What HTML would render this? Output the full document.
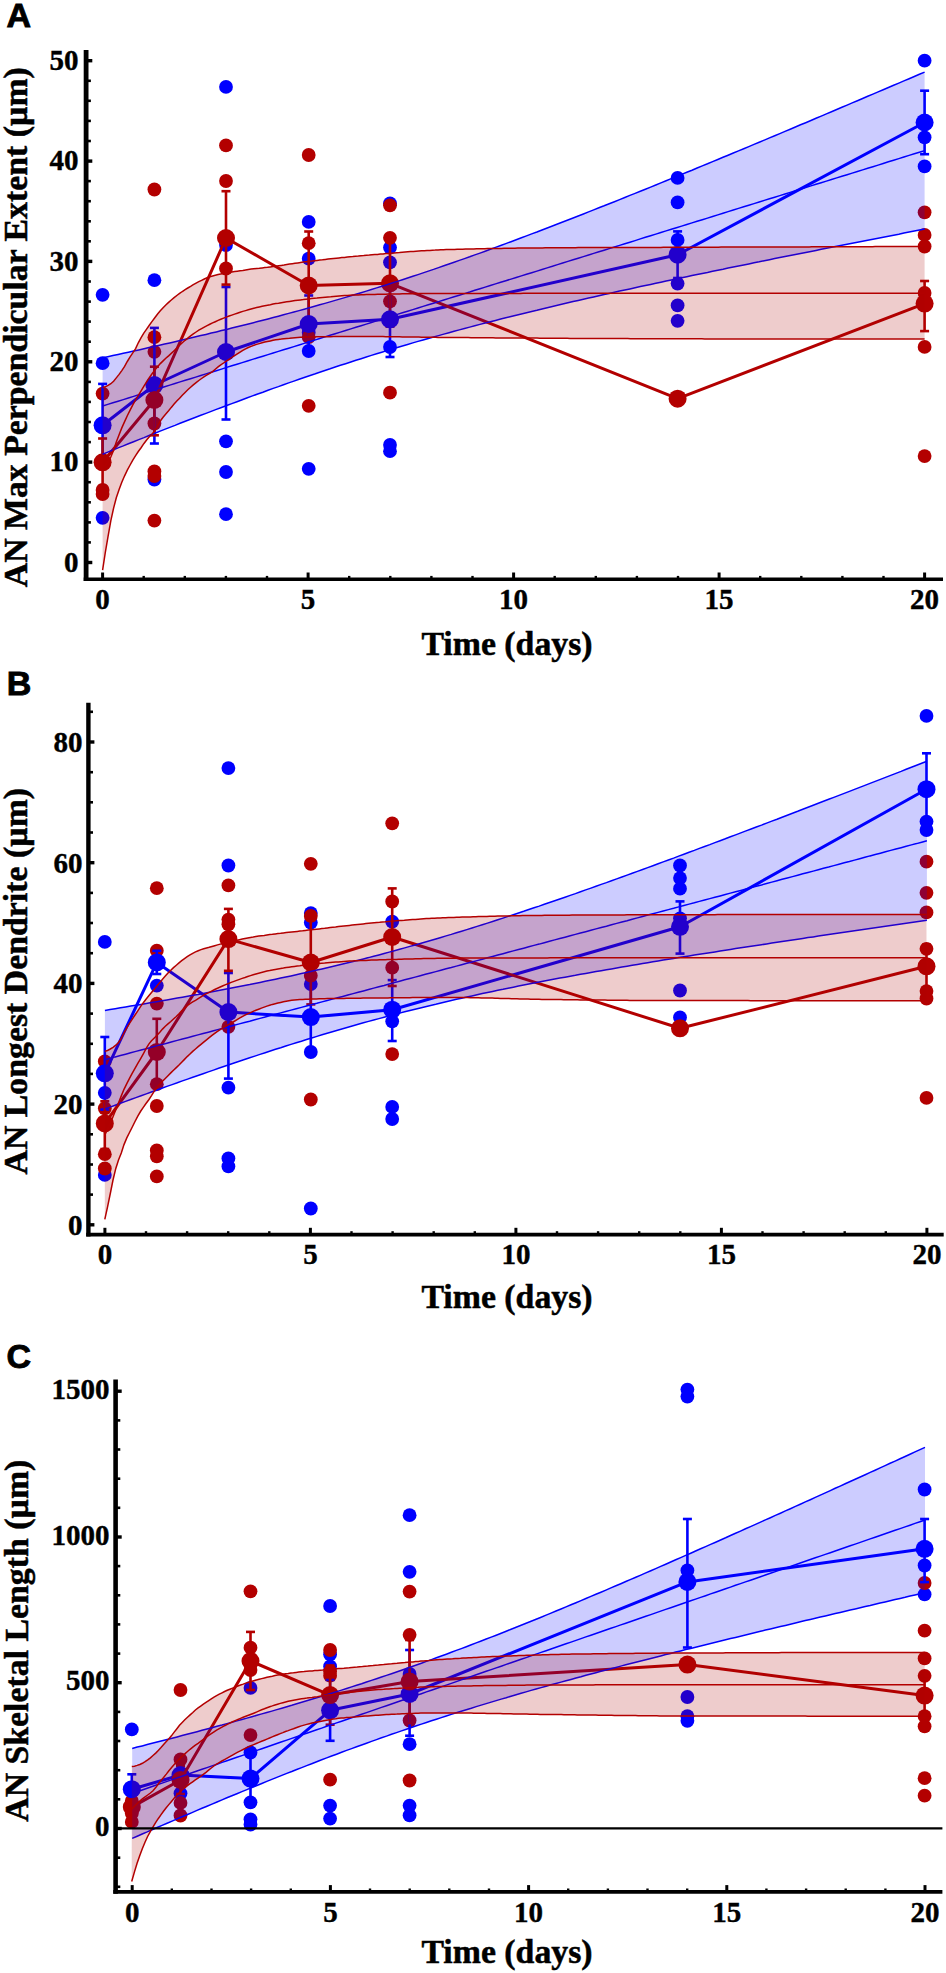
<!DOCTYPE html>
<html><head><meta charset="utf-8"><style>
html,body{margin:0;padding:0;background:#fff;}
svg{display:block;}
.tk{font-family:"Liberation Serif",serif;font-weight:bold;font-size:29px;fill:#000;stroke:#000;stroke-width:0.4px;}
.lab{font-family:"Liberation Serif",serif;font-weight:bold;font-size:33.8px;fill:#000;stroke:#000;stroke-width:0.5px;}
.let{font-family:"Liberation Sans",sans-serif;font-weight:bold;font-size:34px;fill:#000;stroke:#000;stroke-width:0.9px;}
</style></head><body>
<svg width="946" height="1973" viewBox="0 0 946 1973">
<rect width="946" height="1973" fill="#fff"/>
<circle cx="102.6" cy="294.8" r="6.9" fill="#0000ff"/>
<circle cx="102.6" cy="363.2" r="6.9" fill="#0000ff"/>
<circle cx="102.6" cy="517.8" r="6.9" fill="#0000ff"/>
<circle cx="154.4" cy="280.2" r="6.9" fill="#0000ff"/>
<circle cx="154.4" cy="479.5" r="6.9" fill="#0000ff"/>
<circle cx="226.0" cy="86.9" r="6.9" fill="#0000ff"/>
<circle cx="226.0" cy="245.0" r="6.9" fill="#0000ff"/>
<circle cx="226.0" cy="441.3" r="6.9" fill="#0000ff"/>
<circle cx="226.0" cy="472.0" r="6.9" fill="#0000ff"/>
<circle cx="226.0" cy="514.2" r="6.9" fill="#0000ff"/>
<circle cx="308.7" cy="221.9" r="6.9" fill="#0000ff"/>
<circle cx="308.7" cy="258.7" r="6.9" fill="#0000ff"/>
<circle cx="308.7" cy="332.4" r="6.9" fill="#0000ff"/>
<circle cx="308.7" cy="351.0" r="6.9" fill="#0000ff"/>
<circle cx="308.7" cy="468.8" r="6.9" fill="#0000ff"/>
<circle cx="390.0" cy="203.4" r="6.9" fill="#0000ff"/>
<circle cx="390.0" cy="247.6" r="6.9" fill="#0000ff"/>
<circle cx="390.0" cy="262.3" r="6.9" fill="#0000ff"/>
<circle cx="390.0" cy="347.0" r="6.9" fill="#0000ff"/>
<circle cx="390.0" cy="444.9" r="6.9" fill="#0000ff"/>
<circle cx="390.0" cy="451.2" r="6.9" fill="#0000ff"/>
<circle cx="677.6" cy="177.9" r="6.9" fill="#0000ff"/>
<circle cx="677.6" cy="202.4" r="6.9" fill="#0000ff"/>
<circle cx="677.6" cy="239.9" r="6.9" fill="#0000ff"/>
<circle cx="677.6" cy="283.6" r="6.9" fill="#0000ff"/>
<circle cx="677.6" cy="305.4" r="6.9" fill="#0000ff"/>
<circle cx="677.6" cy="320.8" r="6.9" fill="#0000ff"/>
<circle cx="924.6" cy="60.7" r="6.9" fill="#0000ff"/>
<circle cx="924.6" cy="137.3" r="6.9" fill="#0000ff"/>
<circle cx="924.6" cy="166.4" r="6.9" fill="#0000ff"/>
<circle cx="102.6" cy="393.6" r="6.9" fill="#b30000"/>
<circle cx="102.6" cy="490.0" r="6.9" fill="#b30000"/>
<circle cx="102.6" cy="494.0" r="6.9" fill="#b30000"/>
<circle cx="154.4" cy="189.5" r="6.9" fill="#b30000"/>
<circle cx="154.4" cy="337.2" r="6.9" fill="#b30000"/>
<circle cx="154.4" cy="351.8" r="6.9" fill="#b30000"/>
<circle cx="154.4" cy="423.5" r="6.9" fill="#b30000"/>
<circle cx="154.4" cy="471.5" r="6.9" fill="#b30000"/>
<circle cx="154.4" cy="476.0" r="6.9" fill="#b30000"/>
<circle cx="154.4" cy="520.6" r="6.9" fill="#b30000"/>
<circle cx="226.0" cy="145.4" r="6.9" fill="#b30000"/>
<circle cx="226.0" cy="181.0" r="6.9" fill="#b30000"/>
<circle cx="226.0" cy="268.5" r="6.9" fill="#b30000"/>
<circle cx="308.7" cy="155.0" r="6.9" fill="#b30000"/>
<circle cx="308.7" cy="243.2" r="6.9" fill="#b30000"/>
<circle cx="308.7" cy="337.2" r="6.9" fill="#b30000"/>
<circle cx="308.7" cy="405.8" r="6.9" fill="#b30000"/>
<circle cx="390.0" cy="205.3" r="6.9" fill="#b30000"/>
<circle cx="390.0" cy="237.8" r="6.9" fill="#b30000"/>
<circle cx="390.0" cy="301.3" r="6.9" fill="#b30000"/>
<circle cx="390.0" cy="392.7" r="6.9" fill="#b30000"/>
<circle cx="924.6" cy="212.3" r="6.9" fill="#b30000"/>
<circle cx="924.6" cy="234.9" r="6.9" fill="#b30000"/>
<circle cx="924.6" cy="246.5" r="6.9" fill="#b30000"/>
<circle cx="924.6" cy="293.0" r="6.9" fill="#b30000"/>
<circle cx="924.6" cy="346.9" r="6.9" fill="#b30000"/>
<circle cx="924.6" cy="456.1" r="6.9" fill="#b30000"/>
<line x1="102.6" y1="383.9" x2="102.6" y2="466.7" stroke="#0000ff" stroke-width="2.6"/>
<line x1="98.1" y1="383.9" x2="107.1" y2="383.9" stroke="#0000ff" stroke-width="2.6"/>
<line x1="98.1" y1="466.7" x2="107.1" y2="466.7" stroke="#0000ff" stroke-width="2.6"/>
<line x1="154.4" y1="327.9" x2="154.4" y2="443.5" stroke="#0000ff" stroke-width="2.6"/>
<line x1="149.9" y1="327.9" x2="158.9" y2="327.9" stroke="#0000ff" stroke-width="2.6"/>
<line x1="149.9" y1="443.5" x2="158.9" y2="443.5" stroke="#0000ff" stroke-width="2.6"/>
<line x1="226.0" y1="287.0" x2="226.0" y2="419.5" stroke="#0000ff" stroke-width="2.6"/>
<line x1="221.5" y1="287.0" x2="230.5" y2="287.0" stroke="#0000ff" stroke-width="2.6"/>
<line x1="221.5" y1="419.5" x2="230.5" y2="419.5" stroke="#0000ff" stroke-width="2.6"/>
<line x1="308.7" y1="295.5" x2="308.7" y2="352.5" stroke="#0000ff" stroke-width="2.6"/>
<line x1="304.2" y1="295.5" x2="313.2" y2="295.5" stroke="#0000ff" stroke-width="2.6"/>
<line x1="304.2" y1="352.5" x2="313.2" y2="352.5" stroke="#0000ff" stroke-width="2.6"/>
<line x1="390.0" y1="282.0" x2="390.0" y2="357.0" stroke="#0000ff" stroke-width="2.6"/>
<line x1="385.5" y1="282.0" x2="394.5" y2="282.0" stroke="#0000ff" stroke-width="2.6"/>
<line x1="385.5" y1="357.0" x2="394.5" y2="357.0" stroke="#0000ff" stroke-width="2.6"/>
<line x1="677.6" y1="231.4" x2="677.6" y2="278.0" stroke="#0000ff" stroke-width="2.6"/>
<line x1="673.1" y1="231.4" x2="682.1" y2="231.4" stroke="#0000ff" stroke-width="2.6"/>
<line x1="673.1" y1="278.0" x2="682.1" y2="278.0" stroke="#0000ff" stroke-width="2.6"/>
<line x1="924.6" y1="90.7" x2="924.6" y2="154.2" stroke="#0000ff" stroke-width="2.6"/>
<line x1="920.1" y1="90.7" x2="929.1" y2="90.7" stroke="#0000ff" stroke-width="2.6"/>
<line x1="920.1" y1="154.2" x2="929.1" y2="154.2" stroke="#0000ff" stroke-width="2.6"/>
<line x1="102.6" y1="438.5" x2="102.6" y2="486.0" stroke="#b30000" stroke-width="2.6"/>
<line x1="98.1" y1="438.5" x2="107.1" y2="438.5" stroke="#b30000" stroke-width="2.6"/>
<line x1="98.1" y1="486.0" x2="107.1" y2="486.0" stroke="#b30000" stroke-width="2.6"/>
<line x1="154.4" y1="366.7" x2="154.4" y2="435.3" stroke="#b30000" stroke-width="2.6"/>
<line x1="149.9" y1="366.7" x2="158.9" y2="366.7" stroke="#b30000" stroke-width="2.6"/>
<line x1="149.9" y1="435.3" x2="158.9" y2="435.3" stroke="#b30000" stroke-width="2.6"/>
<line x1="226.0" y1="191.2" x2="226.0" y2="284.6" stroke="#b30000" stroke-width="2.6"/>
<line x1="221.5" y1="191.2" x2="230.5" y2="191.2" stroke="#b30000" stroke-width="2.6"/>
<line x1="221.5" y1="284.6" x2="230.5" y2="284.6" stroke="#b30000" stroke-width="2.6"/>
<line x1="308.7" y1="231.5" x2="308.7" y2="339.5" stroke="#b30000" stroke-width="2.6"/>
<line x1="304.2" y1="231.5" x2="313.2" y2="231.5" stroke="#b30000" stroke-width="2.6"/>
<line x1="304.2" y1="339.5" x2="313.2" y2="339.5" stroke="#b30000" stroke-width="2.6"/>
<line x1="390.0" y1="240.0" x2="390.0" y2="326.6" stroke="#b30000" stroke-width="2.6"/>
<line x1="385.5" y1="240.0" x2="394.5" y2="240.0" stroke="#b30000" stroke-width="2.6"/>
<line x1="385.5" y1="326.6" x2="394.5" y2="326.6" stroke="#b30000" stroke-width="2.6"/>
<line x1="924.6" y1="281.0" x2="924.6" y2="331.1" stroke="#b30000" stroke-width="2.6"/>
<line x1="920.1" y1="281.0" x2="929.1" y2="281.0" stroke="#b30000" stroke-width="2.6"/>
<line x1="920.1" y1="331.1" x2="929.1" y2="331.1" stroke="#b30000" stroke-width="2.6"/>
<path d="M102.6,425.3 L154.4,385.0 L226.0,352.0 L308.7,324.0 L390.0,319.3 L677.6,254.7 L924.6,122.5" fill="none" stroke="#0000ff" stroke-width="3" stroke-linejoin="round"/>
<circle cx="102.6" cy="425.3" r="9.0" fill="#0000ff"/>
<circle cx="154.4" cy="385.0" r="9.0" fill="#0000ff"/>
<circle cx="226.0" cy="352.0" r="9.0" fill="#0000ff"/>
<circle cx="308.7" cy="324.0" r="9.0" fill="#0000ff"/>
<circle cx="390.0" cy="319.3" r="9.0" fill="#0000ff"/>
<circle cx="677.6" cy="254.7" r="9.0" fill="#0000ff"/>
<circle cx="924.6" cy="122.5" r="9.0" fill="#0000ff"/>
<path d="M102.6,462.3 L154.4,400.0 L226.0,238.0 L308.7,285.5 L390.0,283.3 L677.6,398.7 L924.6,303.6" fill="none" stroke="#b30000" stroke-width="3" stroke-linejoin="round"/>
<circle cx="102.6" cy="462.3" r="9.0" fill="#b30000"/>
<circle cx="154.4" cy="400.0" r="9.0" fill="#b30000"/>
<circle cx="226.0" cy="238.0" r="9.0" fill="#b30000"/>
<circle cx="308.7" cy="285.5" r="9.0" fill="#b30000"/>
<circle cx="390.0" cy="283.3" r="9.0" fill="#b30000"/>
<circle cx="677.6" cy="398.7" r="9.0" fill="#b30000"/>
<circle cx="924.6" cy="303.6" r="9.0" fill="#b30000"/>
<path d="M102.6,357.8 L107.8,356.7 L112.9,355.6 L118.1,354.4 L123.3,353.3 L128.4,352.2 L133.6,351.0 L138.8,349.9 L144.0,348.7 L149.1,347.6 L154.3,346.4 L159.5,345.2 L164.6,344.0 L169.8,342.9 L175.0,341.7 L180.1,340.5 L185.3,339.3 L190.5,338.1 L195.7,336.8 L200.8,335.6 L206.0,334.4 L211.2,333.1 L216.3,331.9 L221.5,330.6 L226.7,329.4 L231.8,328.1 L237.0,326.8 L242.2,325.5 L247.4,324.2 L252.5,322.9 L257.7,321.6 L262.9,320.2 L268.0,318.9 L273.2,317.6 L278.4,316.2 L283.5,314.8 L288.7,313.4 L293.9,312.0 L299.1,310.6 L304.2,309.2 L309.4,307.8 L314.6,306.3 L319.7,304.8 L324.9,303.4 L330.1,301.9 L335.2,300.4 L340.4,298.9 L345.6,297.4 L350.8,295.8 L355.9,294.3 L361.1,292.7 L366.3,291.1 L371.4,289.5 L376.6,287.9 L381.8,286.3 L386.9,284.7 L392.1,283.0 L397.3,281.4 L402.4,279.7 L407.6,278.0 L412.8,276.3 L418.0,274.6 L423.1,272.9 L428.3,271.1 L433.5,269.4 L438.6,267.6 L443.8,265.8 L449.0,264.0 L454.1,262.2 L459.3,260.4 L464.5,258.6 L469.7,256.8 L474.8,254.9 L480.0,253.1 L485.2,251.2 L490.3,249.3 L495.5,247.4 L500.7,245.5 L505.8,243.6 L511.0,241.7 L516.2,239.8 L521.4,237.8 L526.5,235.9 L531.7,233.9 L536.9,232.0 L542.0,230.0 L547.2,228.0 L552.4,226.0 L557.5,224.0 L562.7,222.0 L567.9,220.0 L573.1,218.0 L578.2,216.0 L583.4,214.0 L588.6,211.9 L593.7,209.9 L598.9,207.8 L604.1,205.8 L609.2,203.7 L614.4,201.7 L619.6,199.6 L624.8,197.5 L629.9,195.4 L635.1,193.4 L640.3,191.3 L645.4,189.2 L650.6,187.1 L655.8,185.0 L660.9,182.9 L666.1,180.8 L671.3,178.6 L676.4,176.5 L681.6,174.4 L686.8,172.3 L692.0,170.2 L697.1,168.0 L702.3,165.9 L707.5,163.8 L712.6,161.6 L717.8,159.5 L723.0,157.3 L728.1,155.2 L733.3,153.0 L738.5,150.9 L743.7,148.7 L748.8,146.6 L754.0,144.4 L759.2,142.2 L764.3,140.1 L769.5,137.9 L774.7,135.7 L779.8,133.6 L785.0,131.4 L790.2,129.2 L795.4,127.0 L800.5,124.8 L805.7,122.7 L810.9,120.5 L816.0,118.3 L821.2,116.1 L826.4,113.9 L831.5,111.7 L836.7,109.5 L841.9,107.3 L847.1,105.1 L852.2,102.9 L857.4,100.7 L862.6,98.5 L867.7,96.3 L872.9,94.1 L878.1,91.9 L883.2,89.7 L888.4,87.5 L893.6,85.3 L898.8,83.1 L903.9,80.9 L909.1,78.7 L914.3,76.5 L919.4,74.3 L924.6,72.1 L924.6,229.1 L919.4,230.1 L914.3,231.1 L909.1,232.1 L903.9,233.1 L898.8,234.2 L893.6,235.2 L888.4,236.2 L883.2,237.2 L878.1,238.2 L872.9,239.2 L867.7,240.2 L862.6,241.2 L857.4,242.2 L852.2,243.2 L847.1,244.2 L841.9,245.3 L836.7,246.3 L831.5,247.3 L826.4,248.3 L821.2,249.3 L816.0,250.4 L810.9,251.4 L805.7,252.4 L800.5,253.5 L795.4,254.5 L790.2,255.5 L785.0,256.6 L779.8,257.6 L774.7,258.6 L769.5,259.7 L764.3,260.7 L759.2,261.8 L754.0,262.8 L748.8,263.9 L743.7,264.9 L738.5,266.0 L733.3,267.0 L728.1,268.1 L723.0,269.2 L717.8,270.2 L712.6,271.3 L707.5,272.4 L702.3,273.4 L697.1,274.5 L692.0,275.6 L686.8,276.7 L681.6,277.8 L676.4,278.9 L671.3,280.0 L666.1,281.1 L660.9,282.2 L655.8,283.3 L650.6,284.4 L645.4,285.5 L640.3,286.6 L635.1,287.7 L629.9,288.9 L624.8,290.0 L619.6,291.1 L614.4,292.3 L609.2,293.4 L604.1,294.6 L598.9,295.8 L593.7,296.9 L588.6,298.1 L583.4,299.3 L578.2,300.5 L573.1,301.6 L567.9,302.8 L562.7,304.0 L557.5,305.3 L552.4,306.5 L547.2,307.7 L542.0,308.9 L536.9,310.2 L531.7,311.4 L526.5,312.7 L521.4,313.9 L516.2,315.2 L511.0,316.5 L505.8,317.8 L500.7,319.1 L495.5,320.4 L490.3,321.7 L485.2,323.1 L480.0,324.4 L474.8,325.8 L469.7,327.1 L464.5,328.5 L459.3,329.9 L454.1,331.3 L449.0,332.7 L443.8,334.1 L438.6,335.6 L433.5,337.0 L428.3,338.5 L423.1,340.0 L418.0,341.4 L412.8,342.9 L407.6,344.5 L402.4,346.0 L397.3,347.5 L392.1,349.1 L386.9,350.6 L381.8,352.2 L376.6,353.8 L371.4,355.4 L366.3,357.0 L361.1,358.7 L355.9,360.3 L350.8,362.0 L345.6,363.7 L340.4,365.3 L335.2,367.0 L330.1,368.8 L324.9,370.5 L319.7,372.2 L314.6,374.0 L309.4,375.7 L304.2,377.5 L299.1,379.3 L293.9,381.1 L288.7,382.9 L283.5,384.7 L278.4,386.6 L273.2,388.4 L268.0,390.3 L262.9,392.2 L257.7,394.0 L252.5,395.9 L247.4,397.8 L242.2,399.7 L237.0,401.7 L231.8,403.6 L226.7,405.5 L221.5,407.5 L216.3,409.4 L211.2,411.4 L206.0,413.4 L200.8,415.3 L195.7,417.3 L190.5,419.3 L185.3,421.3 L180.1,423.3 L175.0,425.4 L169.8,427.4 L164.6,429.4 L159.5,431.4 L154.3,433.5 L149.1,435.5 L144.0,437.6 L138.8,439.6 L133.6,441.7 L128.4,443.8 L123.3,445.9 L118.1,447.9 L112.9,450.0 L107.8,452.1 L102.6,454.2 Z" fill="#0000ff" fill-opacity="0.2" stroke="none"/>
<path d="M102.6,357.8 L107.8,356.7 L112.9,355.6 L118.1,354.4 L123.3,353.3 L128.4,352.2 L133.6,351.0 L138.8,349.9 L144.0,348.7 L149.1,347.6 L154.3,346.4 L159.5,345.2 L164.6,344.0 L169.8,342.9 L175.0,341.7 L180.1,340.5 L185.3,339.3 L190.5,338.1 L195.7,336.8 L200.8,335.6 L206.0,334.4 L211.2,333.1 L216.3,331.9 L221.5,330.6 L226.7,329.4 L231.8,328.1 L237.0,326.8 L242.2,325.5 L247.4,324.2 L252.5,322.9 L257.7,321.6 L262.9,320.2 L268.0,318.9 L273.2,317.6 L278.4,316.2 L283.5,314.8 L288.7,313.4 L293.9,312.0 L299.1,310.6 L304.2,309.2 L309.4,307.8 L314.6,306.3 L319.7,304.8 L324.9,303.4 L330.1,301.9 L335.2,300.4 L340.4,298.9 L345.6,297.4 L350.8,295.8 L355.9,294.3 L361.1,292.7 L366.3,291.1 L371.4,289.5 L376.6,287.9 L381.8,286.3 L386.9,284.7 L392.1,283.0 L397.3,281.4 L402.4,279.7 L407.6,278.0 L412.8,276.3 L418.0,274.6 L423.1,272.9 L428.3,271.1 L433.5,269.4 L438.6,267.6 L443.8,265.8 L449.0,264.0 L454.1,262.2 L459.3,260.4 L464.5,258.6 L469.7,256.8 L474.8,254.9 L480.0,253.1 L485.2,251.2 L490.3,249.3 L495.5,247.4 L500.7,245.5 L505.8,243.6 L511.0,241.7 L516.2,239.8 L521.4,237.8 L526.5,235.9 L531.7,233.9 L536.9,232.0 L542.0,230.0 L547.2,228.0 L552.4,226.0 L557.5,224.0 L562.7,222.0 L567.9,220.0 L573.1,218.0 L578.2,216.0 L583.4,214.0 L588.6,211.9 L593.7,209.9 L598.9,207.8 L604.1,205.8 L609.2,203.7 L614.4,201.7 L619.6,199.6 L624.8,197.5 L629.9,195.4 L635.1,193.4 L640.3,191.3 L645.4,189.2 L650.6,187.1 L655.8,185.0 L660.9,182.9 L666.1,180.8 L671.3,178.6 L676.4,176.5 L681.6,174.4 L686.8,172.3 L692.0,170.2 L697.1,168.0 L702.3,165.9 L707.5,163.8 L712.6,161.6 L717.8,159.5 L723.0,157.3 L728.1,155.2 L733.3,153.0 L738.5,150.9 L743.7,148.7 L748.8,146.6 L754.0,144.4 L759.2,142.2 L764.3,140.1 L769.5,137.9 L774.7,135.7 L779.8,133.6 L785.0,131.4 L790.2,129.2 L795.4,127.0 L800.5,124.8 L805.7,122.7 L810.9,120.5 L816.0,118.3 L821.2,116.1 L826.4,113.9 L831.5,111.7 L836.7,109.5 L841.9,107.3 L847.1,105.1 L852.2,102.9 L857.4,100.7 L862.6,98.5 L867.7,96.3 L872.9,94.1 L878.1,91.9 L883.2,89.7 L888.4,87.5 L893.6,85.3 L898.8,83.1 L903.9,80.9 L909.1,78.7 L914.3,76.5 L919.4,74.3 L924.6,72.1" fill="none" stroke="#0000ff" stroke-width="1.5"/>
<path d="M102.6,406.0 L107.8,404.4 L112.9,402.8 L118.1,401.2 L123.3,399.6 L128.4,398.0 L133.6,396.4 L138.8,394.8 L144.0,393.1 L149.1,391.5 L154.3,389.9 L159.5,388.3 L164.6,386.7 L169.8,385.1 L175.0,383.5 L180.1,381.9 L185.3,380.3 L190.5,378.7 L195.7,377.1 L200.8,375.5 L206.0,373.9 L211.2,372.3 L216.3,370.7 L221.5,369.1 L226.7,367.4 L231.8,365.8 L237.0,364.2 L242.2,362.6 L247.4,361.0 L252.5,359.4 L257.7,357.8 L262.9,356.2 L268.0,354.6 L273.2,353.0 L278.4,351.4 L283.5,349.8 L288.7,348.2 L293.9,346.6 L299.1,345.0 L304.2,343.4 L309.4,341.7 L314.6,340.1 L319.7,338.5 L324.9,336.9 L330.1,335.3 L335.2,333.7 L340.4,332.1 L345.6,330.5 L350.8,328.9 L355.9,327.3 L361.1,325.7 L366.3,324.1 L371.4,322.5 L376.6,320.9 L381.8,319.3 L386.9,317.7 L392.1,316.0 L397.3,314.4 L402.4,312.8 L407.6,311.2 L412.8,309.6 L418.0,308.0 L423.1,306.4 L428.3,304.8 L433.5,303.2 L438.6,301.6 L443.8,300.0 L449.0,298.4 L454.1,296.8 L459.3,295.2 L464.5,293.6 L469.7,292.0 L474.8,290.3 L480.0,288.7 L485.2,287.1 L490.3,285.5 L495.5,283.9 L500.7,282.3 L505.8,280.7 L511.0,279.1 L516.2,277.5 L521.4,275.9 L526.5,274.3 L531.7,272.7 L536.9,271.1 L542.0,269.5 L547.2,267.9 L552.4,266.3 L557.5,264.6 L562.7,263.0 L567.9,261.4 L573.1,259.8 L578.2,258.2 L583.4,256.6 L588.6,255.0 L593.7,253.4 L598.9,251.8 L604.1,250.2 L609.2,248.6 L614.4,247.0 L619.6,245.4 L624.8,243.8 L629.9,242.2 L635.1,240.6 L640.3,238.9 L645.4,237.3 L650.6,235.7 L655.8,234.1 L660.9,232.5 L666.1,230.9 L671.3,229.3 L676.4,227.7 L681.6,226.1 L686.8,224.5 L692.0,222.9 L697.1,221.3 L702.3,219.7 L707.5,218.1 L712.6,216.5 L717.8,214.9 L723.0,213.2 L728.1,211.6 L733.3,210.0 L738.5,208.4 L743.7,206.8 L748.8,205.2 L754.0,203.6 L759.2,202.0 L764.3,200.4 L769.5,198.8 L774.7,197.2 L779.8,195.6 L785.0,194.0 L790.2,192.4 L795.4,190.8 L800.5,189.2 L805.7,187.5 L810.9,185.9 L816.0,184.3 L821.2,182.7 L826.4,181.1 L831.5,179.5 L836.7,177.9 L841.9,176.3 L847.1,174.7 L852.2,173.1 L857.4,171.5 L862.6,169.9 L867.7,168.3 L872.9,166.7 L878.1,165.1 L883.2,163.5 L888.4,161.8 L893.6,160.2 L898.8,158.6 L903.9,157.0 L909.1,155.4 L914.3,153.8 L919.4,152.2 L924.6,150.6" fill="none" stroke="#0000ff" stroke-width="1.5"/>
<path d="M102.6,454.2 L107.8,452.1 L112.9,450.0 L118.1,447.9 L123.3,445.9 L128.4,443.8 L133.6,441.7 L138.8,439.6 L144.0,437.6 L149.1,435.5 L154.3,433.5 L159.5,431.4 L164.6,429.4 L169.8,427.4 L175.0,425.4 L180.1,423.3 L185.3,421.3 L190.5,419.3 L195.7,417.3 L200.8,415.3 L206.0,413.4 L211.2,411.4 L216.3,409.4 L221.5,407.5 L226.7,405.5 L231.8,403.6 L237.0,401.7 L242.2,399.7 L247.4,397.8 L252.5,395.9 L257.7,394.0 L262.9,392.2 L268.0,390.3 L273.2,388.4 L278.4,386.6 L283.5,384.7 L288.7,382.9 L293.9,381.1 L299.1,379.3 L304.2,377.5 L309.4,375.7 L314.6,374.0 L319.7,372.2 L324.9,370.5 L330.1,368.8 L335.2,367.0 L340.4,365.3 L345.6,363.7 L350.8,362.0 L355.9,360.3 L361.1,358.7 L366.3,357.0 L371.4,355.4 L376.6,353.8 L381.8,352.2 L386.9,350.6 L392.1,349.1 L397.3,347.5 L402.4,346.0 L407.6,344.5 L412.8,342.9 L418.0,341.4 L423.1,340.0 L428.3,338.5 L433.5,337.0 L438.6,335.6 L443.8,334.1 L449.0,332.7 L454.1,331.3 L459.3,329.9 L464.5,328.5 L469.7,327.1 L474.8,325.8 L480.0,324.4 L485.2,323.1 L490.3,321.7 L495.5,320.4 L500.7,319.1 L505.8,317.8 L511.0,316.5 L516.2,315.2 L521.4,313.9 L526.5,312.7 L531.7,311.4 L536.9,310.2 L542.0,308.9 L547.2,307.7 L552.4,306.5 L557.5,305.3 L562.7,304.0 L567.9,302.8 L573.1,301.6 L578.2,300.5 L583.4,299.3 L588.6,298.1 L593.7,296.9 L598.9,295.8 L604.1,294.6 L609.2,293.4 L614.4,292.3 L619.6,291.1 L624.8,290.0 L629.9,288.9 L635.1,287.7 L640.3,286.6 L645.4,285.5 L650.6,284.4 L655.8,283.3 L660.9,282.2 L666.1,281.1 L671.3,280.0 L676.4,278.9 L681.6,277.8 L686.8,276.7 L692.0,275.6 L697.1,274.5 L702.3,273.4 L707.5,272.4 L712.6,271.3 L717.8,270.2 L723.0,269.2 L728.1,268.1 L733.3,267.0 L738.5,266.0 L743.7,264.9 L748.8,263.9 L754.0,262.8 L759.2,261.8 L764.3,260.7 L769.5,259.7 L774.7,258.6 L779.8,257.6 L785.0,256.6 L790.2,255.5 L795.4,254.5 L800.5,253.5 L805.7,252.4 L810.9,251.4 L816.0,250.4 L821.2,249.3 L826.4,248.3 L831.5,247.3 L836.7,246.3 L841.9,245.3 L847.1,244.2 L852.2,243.2 L857.4,242.2 L862.6,241.2 L867.7,240.2 L872.9,239.2 L878.1,238.2 L883.2,237.2 L888.4,236.2 L893.6,235.2 L898.8,234.2 L903.9,233.1 L909.1,232.1 L914.3,231.1 L919.4,230.1 L924.6,229.1" fill="none" stroke="#0000ff" stroke-width="1.5"/>
<path d="M102.6,387.5 L105.3,386.8 L108.1,385.4 L110.8,383.7 L113.6,381.2 L116.3,377.9 L119.1,374.4 L121.8,370.6 L124.6,366.4 L127.3,361.5 L130.1,356.9 L132.8,352.9 L135.6,348.6 L138.3,342.8 L141.1,337.6 L143.8,333.2 L146.6,329.1 L149.3,325.2 L152.1,321.4 L154.8,317.7 L157.6,314.0 L160.3,310.8 L163.1,307.8 L165.8,305.0 L168.6,302.4 L171.3,300.0 L174.1,297.7 L176.8,295.5 L179.6,293.4 L182.3,291.5 L185.1,289.7 L187.8,288.0 L190.6,286.4 L193.3,284.7 L196.1,283.1 L198.8,281.7 L201.6,280.3 L204.3,279.0 L207.1,277.8 L209.8,276.8 L212.6,276.0 L215.3,275.3 L218.1,274.6 L220.8,274.0 L223.6,273.5 L226.3,273.0 L229.1,272.5 L231.8,272.1 L234.6,271.6 L237.3,271.2 L240.1,270.8 L242.8,270.4 L245.6,269.9 L248.3,269.5 L251.1,269.1 L253.8,268.7 L256.6,268.4 L259.3,268.2 L262.1,267.9 L264.8,267.6 L267.5,267.3 L270.3,266.9 L273.0,266.6 L275.8,266.2 L278.5,265.8 L281.3,265.4 L284.0,265.0 L286.8,264.5 L289.5,264.1 L292.3,263.7 L295.0,263.3 L297.8,262.9 L300.5,262.5 L303.3,262.1 L306.0,261.7 L308.8,261.4 L311.5,261.1 L314.3,260.7 L317.0,260.4 L319.8,260.1 L322.5,259.8 L325.3,259.4 L328.0,259.1 L330.8,258.8 L333.5,258.5 L336.3,258.2 L339.0,257.9 L341.8,257.6 L344.5,257.4 L347.3,257.1 L350.0,256.8 L352.8,256.6 L355.5,256.3 L358.3,256.1 L361.0,255.8 L363.8,255.6 L366.5,255.3 L369.3,255.1 L372.0,254.8 L374.8,254.6 L377.5,254.4 L380.3,254.1 L383.0,253.9 L385.8,253.6 L388.5,253.4 L391.3,253.2 L394.0,252.9 L396.8,252.7 L399.5,252.5 L402.3,252.2 L405.0,252.0 L407.8,251.8 L410.5,251.6 L413.3,251.4 L416.0,251.2 L418.8,251.0 L421.5,250.8 L424.3,250.7 L427.0,250.5 L429.8,250.4 L432.5,250.2 L435.2,250.1 L438.0,249.9 L440.7,249.8 L443.5,249.7 L446.2,249.6 L449.0,249.5 L451.7,249.5 L454.5,249.4 L457.2,249.3 L460.0,249.2 L462.7,249.2 L465.5,249.1 L468.2,249.0 L471.0,249.0 L473.7,248.9 L476.5,248.8 L479.2,248.8 L482.0,248.7 L484.7,248.7 L487.5,248.6 L490.2,248.6 L493.0,248.5 L495.7,248.5 L498.5,248.4 L501.2,248.4 L504.0,248.3 L506.7,248.3 L509.5,248.2 L512.2,248.2 L515.0,248.2 L517.7,248.1 L520.5,248.1 L523.2,248.0 L526.0,248.0 L528.7,248.0 L531.5,248.0 L534.2,247.9 L537.0,247.9 L539.7,247.9 L542.5,247.9 L545.2,247.8 L548.0,247.8 L550.7,247.8 L553.5,247.8 L556.2,247.8 L559.0,247.7 L561.7,247.7 L564.5,247.7 L567.2,247.7 L570.0,247.7 L572.7,247.7 L575.5,247.7 L578.2,247.6 L581.0,247.6 L583.7,247.6 L586.5,247.6 L589.2,247.6 L592.0,247.6 L594.7,247.6 L597.4,247.6 L600.2,247.6 L602.9,247.5 L605.7,247.5 L608.4,247.5 L611.2,247.5 L613.9,247.5 L616.7,247.5 L619.4,247.5 L622.2,247.5 L624.9,247.5 L627.7,247.5 L630.4,247.5 L633.2,247.4 L635.9,247.4 L638.7,247.4 L641.4,247.4 L644.2,247.4 L646.9,247.4 L649.7,247.4 L652.4,247.4 L655.2,247.4 L657.9,247.4 L660.7,247.4 L663.4,247.3 L666.2,247.3 L668.9,247.3 L671.7,247.3 L674.4,247.3 L677.2,247.3 L679.9,247.3 L682.7,247.3 L685.4,247.3 L688.2,247.3 L690.9,247.3 L693.7,247.2 L696.4,247.2 L699.2,247.2 L701.9,247.2 L704.7,247.2 L707.4,247.2 L710.2,247.2 L712.9,247.2 L715.7,247.2 L718.4,247.2 L721.2,247.1 L723.9,247.1 L726.7,247.1 L729.4,247.1 L732.2,247.1 L734.9,247.1 L737.7,247.1 L740.4,247.1 L743.2,247.1 L745.9,247.1 L748.7,247.1 L751.4,247.0 L754.2,247.0 L756.9,247.0 L759.7,247.0 L762.4,247.0 L765.1,247.0 L767.9,247.0 L770.6,247.0 L773.4,247.0 L776.1,247.0 L778.9,247.0 L781.6,246.9 L784.4,246.9 L787.1,246.9 L789.9,246.9 L792.6,246.9 L795.4,246.9 L798.1,246.9 L800.9,246.9 L803.6,246.9 L806.4,246.9 L809.1,246.9 L811.9,246.8 L814.6,246.8 L817.4,246.8 L820.1,246.8 L822.9,246.8 L825.6,246.8 L828.4,246.8 L831.1,246.8 L833.9,246.8 L836.6,246.8 L839.4,246.8 L842.1,246.7 L844.9,246.7 L847.6,246.7 L850.4,246.7 L853.1,246.7 L855.9,246.7 L858.6,246.7 L861.4,246.7 L864.1,246.7 L866.9,246.7 L869.6,246.7 L872.4,246.7 L875.1,246.6 L877.9,246.6 L880.6,246.6 L883.4,246.6 L886.1,246.6 L888.9,246.6 L891.6,246.6 L894.4,246.6 L897.1,246.6 L899.9,246.6 L902.6,246.6 L905.4,246.6 L908.1,246.5 L910.9,246.5 L913.6,246.5 L916.4,246.5 L919.1,246.5 L921.9,246.5 L924.6,246.5 L924.6,339.1 L921.9,339.1 L919.1,339.1 L916.4,339.1 L913.6,339.1 L910.9,339.1 L908.1,339.1 L905.4,339.1 L902.6,339.1 L899.9,339.1 L897.1,339.1 L894.4,339.1 L891.6,339.1 L888.9,339.1 L886.1,339.1 L883.4,339.1 L880.6,339.1 L877.9,339.1 L875.1,339.1 L872.4,339.1 L869.6,339.1 L866.9,339.1 L864.1,339.1 L861.4,339.1 L858.6,339.1 L855.9,339.1 L853.1,339.1 L850.4,339.1 L847.6,339.1 L844.9,339.1 L842.1,339.1 L839.4,339.1 L836.6,339.1 L833.9,339.1 L831.1,339.0 L828.4,339.0 L825.6,339.0 L822.9,339.0 L820.1,339.0 L817.4,339.0 L814.6,339.0 L811.9,339.0 L809.1,339.0 L806.4,339.0 L803.6,339.0 L800.9,339.0 L798.1,339.0 L795.4,339.0 L792.6,339.0 L789.9,339.0 L787.1,339.0 L784.4,339.0 L781.6,339.0 L778.9,339.0 L776.1,339.0 L773.4,339.0 L770.6,339.0 L767.9,339.0 L765.1,339.0 L762.4,339.0 L759.7,339.0 L756.9,338.9 L754.2,338.9 L751.4,338.9 L748.7,338.9 L745.9,338.9 L743.2,338.9 L740.4,338.9 L737.7,338.9 L734.9,338.9 L732.2,338.9 L729.4,338.9 L726.7,338.9 L723.9,338.9 L721.2,338.9 L718.4,338.9 L715.7,338.9 L712.9,338.9 L710.2,338.9 L707.4,338.9 L704.7,338.9 L701.9,338.8 L699.2,338.8 L696.4,338.8 L693.7,338.8 L690.9,338.8 L688.2,338.8 L685.4,338.8 L682.7,338.8 L679.9,338.8 L677.2,338.8 L674.4,338.8 L671.7,338.8 L668.9,338.8 L666.2,338.8 L663.4,338.8 L660.7,338.8 L657.9,338.8 L655.2,338.7 L652.4,338.7 L649.7,338.7 L646.9,338.7 L644.2,338.7 L641.4,338.7 L638.7,338.7 L635.9,338.7 L633.2,338.7 L630.4,338.7 L627.7,338.6 L624.9,338.6 L622.2,338.6 L619.4,338.6 L616.7,338.6 L613.9,338.6 L611.2,338.6 L608.4,338.6 L605.7,338.5 L602.9,338.5 L600.2,338.5 L597.4,338.5 L594.7,338.5 L592.0,338.5 L589.2,338.5 L586.5,338.4 L583.7,338.4 L581.0,338.4 L578.2,338.4 L575.5,338.4 L572.7,338.4 L570.0,338.4 L567.2,338.3 L564.5,338.3 L561.7,338.3 L559.0,338.3 L556.2,338.3 L553.5,338.3 L550.7,338.2 L548.0,338.2 L545.2,338.2 L542.5,338.2 L539.7,338.2 L537.0,338.1 L534.2,338.1 L531.5,338.1 L528.7,338.1 L526.0,338.1 L523.2,338.1 L520.5,338.0 L517.7,338.0 L515.0,338.0 L512.2,338.0 L509.5,338.0 L506.7,337.9 L504.0,337.9 L501.2,337.9 L498.5,337.9 L495.7,337.9 L493.0,337.8 L490.2,337.8 L487.5,337.8 L484.7,337.8 L482.0,337.7 L479.2,337.7 L476.5,337.7 L473.7,337.7 L471.0,337.7 L468.2,337.6 L465.5,337.6 L462.7,337.6 L460.0,337.6 L457.2,337.6 L454.5,337.5 L451.7,337.5 L449.0,337.5 L446.2,337.5 L443.5,337.4 L440.7,337.4 L438.0,337.4 L435.2,337.3 L432.5,337.3 L429.8,337.3 L427.0,337.2 L424.3,337.2 L421.5,337.2 L418.8,337.1 L416.0,337.1 L413.3,337.0 L410.5,337.0 L407.8,337.0 L405.0,336.9 L402.3,336.9 L399.5,336.8 L396.8,336.8 L394.0,336.8 L391.3,336.7 L388.5,336.7 L385.8,336.7 L383.0,336.6 L380.3,336.6 L377.5,336.6 L374.8,336.6 L372.0,336.5 L369.3,336.5 L366.5,336.5 L363.8,336.5 L361.0,336.5 L358.3,336.5 L355.5,336.5 L352.8,336.5 L350.0,336.5 L347.3,336.5 L344.5,336.5 L341.8,336.6 L339.0,336.6 L336.3,336.6 L333.5,336.6 L330.8,336.7 L328.0,336.7 L325.3,336.7 L322.5,336.8 L319.8,336.8 L317.0,336.8 L314.3,336.9 L311.5,336.9 L308.8,337.0 L306.0,337.1 L303.3,337.2 L300.5,337.3 L297.8,337.5 L295.0,337.7 L292.3,337.9 L289.5,338.2 L286.8,338.4 L284.0,338.7 L281.3,339.1 L278.5,339.4 L275.8,339.8 L273.0,340.3 L270.3,340.9 L267.5,341.5 L264.8,342.1 L262.1,342.8 L259.3,343.6 L256.6,344.4 L253.8,345.4 L251.1,346.4 L248.3,347.5 L245.6,348.8 L242.8,350.4 L240.1,352.1 L237.3,353.9 L234.6,355.7 L231.8,357.5 L229.1,359.3 L226.3,361.2 L223.6,363.0 L220.8,364.9 L218.1,366.9 L215.3,369.2 L212.6,371.6 L209.8,373.3 L207.1,374.9 L204.3,376.6 L201.6,378.5 L198.8,380.5 L196.1,382.7 L193.3,384.9 L190.6,387.3 L187.8,389.8 L185.1,392.5 L182.3,395.3 L179.6,398.2 L176.8,401.1 L174.1,404.1 L171.3,407.4 L168.6,410.8 L165.8,414.1 L163.1,417.2 L160.3,421.0 L157.6,426.1 L154.8,430.9 L152.1,434.1 L149.3,436.8 L146.6,440.0 L143.8,443.7 L141.1,447.7 L138.3,451.5 L135.6,455.6 L132.8,460.1 L130.1,465.0 L127.3,470.2 L124.6,475.8 L121.8,482.3 L119.1,489.5 L116.3,497.8 L113.6,508.1 L110.8,520.8 L108.1,536.1 L105.3,552.5 L102.6,570.1 Z" fill="#aa0000" fill-opacity="0.2" stroke="none"/>
<path d="M102.6,387.5 L105.3,386.8 L108.1,385.4 L110.8,383.7 L113.6,381.2 L116.3,377.9 L119.1,374.4 L121.8,370.6 L124.6,366.4 L127.3,361.5 L130.1,356.9 L132.8,352.9 L135.6,348.6 L138.3,342.8 L141.1,337.6 L143.8,333.2 L146.6,329.1 L149.3,325.2 L152.1,321.4 L154.8,317.7 L157.6,314.0 L160.3,310.8 L163.1,307.8 L165.8,305.0 L168.6,302.4 L171.3,300.0 L174.1,297.7 L176.8,295.5 L179.6,293.4 L182.3,291.5 L185.1,289.7 L187.8,288.0 L190.6,286.4 L193.3,284.7 L196.1,283.1 L198.8,281.7 L201.6,280.3 L204.3,279.0 L207.1,277.8 L209.8,276.8 L212.6,276.0 L215.3,275.3 L218.1,274.6 L220.8,274.0 L223.6,273.5 L226.3,273.0 L229.1,272.5 L231.8,272.1 L234.6,271.6 L237.3,271.2 L240.1,270.8 L242.8,270.4 L245.6,269.9 L248.3,269.5 L251.1,269.1 L253.8,268.7 L256.6,268.4 L259.3,268.2 L262.1,267.9 L264.8,267.6 L267.5,267.3 L270.3,266.9 L273.0,266.6 L275.8,266.2 L278.5,265.8 L281.3,265.4 L284.0,265.0 L286.8,264.5 L289.5,264.1 L292.3,263.7 L295.0,263.3 L297.8,262.9 L300.5,262.5 L303.3,262.1 L306.0,261.7 L308.8,261.4 L311.5,261.1 L314.3,260.7 L317.0,260.4 L319.8,260.1 L322.5,259.8 L325.3,259.4 L328.0,259.1 L330.8,258.8 L333.5,258.5 L336.3,258.2 L339.0,257.9 L341.8,257.6 L344.5,257.4 L347.3,257.1 L350.0,256.8 L352.8,256.6 L355.5,256.3 L358.3,256.1 L361.0,255.8 L363.8,255.6 L366.5,255.3 L369.3,255.1 L372.0,254.8 L374.8,254.6 L377.5,254.4 L380.3,254.1 L383.0,253.9 L385.8,253.6 L388.5,253.4 L391.3,253.2 L394.0,252.9 L396.8,252.7 L399.5,252.5 L402.3,252.2 L405.0,252.0 L407.8,251.8 L410.5,251.6 L413.3,251.4 L416.0,251.2 L418.8,251.0 L421.5,250.8 L424.3,250.7 L427.0,250.5 L429.8,250.4 L432.5,250.2 L435.2,250.1 L438.0,249.9 L440.7,249.8 L443.5,249.7 L446.2,249.6 L449.0,249.5 L451.7,249.5 L454.5,249.4 L457.2,249.3 L460.0,249.2 L462.7,249.2 L465.5,249.1 L468.2,249.0 L471.0,249.0 L473.7,248.9 L476.5,248.8 L479.2,248.8 L482.0,248.7 L484.7,248.7 L487.5,248.6 L490.2,248.6 L493.0,248.5 L495.7,248.5 L498.5,248.4 L501.2,248.4 L504.0,248.3 L506.7,248.3 L509.5,248.2 L512.2,248.2 L515.0,248.2 L517.7,248.1 L520.5,248.1 L523.2,248.0 L526.0,248.0 L528.7,248.0 L531.5,248.0 L534.2,247.9 L537.0,247.9 L539.7,247.9 L542.5,247.9 L545.2,247.8 L548.0,247.8 L550.7,247.8 L553.5,247.8 L556.2,247.8 L559.0,247.7 L561.7,247.7 L564.5,247.7 L567.2,247.7 L570.0,247.7 L572.7,247.7 L575.5,247.7 L578.2,247.6 L581.0,247.6 L583.7,247.6 L586.5,247.6 L589.2,247.6 L592.0,247.6 L594.7,247.6 L597.4,247.6 L600.2,247.6 L602.9,247.5 L605.7,247.5 L608.4,247.5 L611.2,247.5 L613.9,247.5 L616.7,247.5 L619.4,247.5 L622.2,247.5 L624.9,247.5 L627.7,247.5 L630.4,247.5 L633.2,247.4 L635.9,247.4 L638.7,247.4 L641.4,247.4 L644.2,247.4 L646.9,247.4 L649.7,247.4 L652.4,247.4 L655.2,247.4 L657.9,247.4 L660.7,247.4 L663.4,247.3 L666.2,247.3 L668.9,247.3 L671.7,247.3 L674.4,247.3 L677.2,247.3 L679.9,247.3 L682.7,247.3 L685.4,247.3 L688.2,247.3 L690.9,247.3 L693.7,247.2 L696.4,247.2 L699.2,247.2 L701.9,247.2 L704.7,247.2 L707.4,247.2 L710.2,247.2 L712.9,247.2 L715.7,247.2 L718.4,247.2 L721.2,247.1 L723.9,247.1 L726.7,247.1 L729.4,247.1 L732.2,247.1 L734.9,247.1 L737.7,247.1 L740.4,247.1 L743.2,247.1 L745.9,247.1 L748.7,247.1 L751.4,247.0 L754.2,247.0 L756.9,247.0 L759.7,247.0 L762.4,247.0 L765.1,247.0 L767.9,247.0 L770.6,247.0 L773.4,247.0 L776.1,247.0 L778.9,247.0 L781.6,246.9 L784.4,246.9 L787.1,246.9 L789.9,246.9 L792.6,246.9 L795.4,246.9 L798.1,246.9 L800.9,246.9 L803.6,246.9 L806.4,246.9 L809.1,246.9 L811.9,246.8 L814.6,246.8 L817.4,246.8 L820.1,246.8 L822.9,246.8 L825.6,246.8 L828.4,246.8 L831.1,246.8 L833.9,246.8 L836.6,246.8 L839.4,246.8 L842.1,246.7 L844.9,246.7 L847.6,246.7 L850.4,246.7 L853.1,246.7 L855.9,246.7 L858.6,246.7 L861.4,246.7 L864.1,246.7 L866.9,246.7 L869.6,246.7 L872.4,246.7 L875.1,246.6 L877.9,246.6 L880.6,246.6 L883.4,246.6 L886.1,246.6 L888.9,246.6 L891.6,246.6 L894.4,246.6 L897.1,246.6 L899.9,246.6 L902.6,246.6 L905.4,246.6 L908.1,246.5 L910.9,246.5 L913.6,246.5 L916.4,246.5 L919.1,246.5 L921.9,246.5 L924.6,246.5" fill="none" stroke="#b30000" stroke-width="1.5"/>
<path d="M102.6,467.0 L105.3,465.5 L108.1,462.3 L110.8,457.0 L113.6,450.2 L116.3,442.1 L119.1,434.7 L121.8,427.9 L124.6,421.6 L127.3,415.7 L130.1,410.1 L132.8,404.9 L135.6,400.0 L138.3,395.4 L141.1,390.8 L143.8,386.3 L146.6,381.9 L149.3,377.7 L152.1,373.8 L154.8,370.1 L157.6,366.7 L160.3,363.6 L163.1,360.9 L165.8,358.3 L168.6,355.9 L171.3,353.4 L174.1,350.7 L176.8,348.0 L179.6,345.3 L182.3,342.7 L185.1,340.3 L187.8,338.1 L190.6,335.9 L193.3,333.9 L196.1,332.0 L198.8,330.2 L201.6,328.6 L204.3,327.1 L207.1,325.6 L209.8,324.3 L212.6,322.9 L215.3,321.7 L218.1,320.4 L220.8,319.3 L223.6,318.1 L226.3,317.1 L229.1,316.0 L231.8,315.1 L234.6,314.1 L237.3,313.2 L240.1,312.3 L242.8,311.4 L245.6,310.6 L248.3,309.8 L251.1,309.0 L253.8,308.3 L256.6,307.6 L259.3,306.9 L262.1,306.3 L264.8,305.7 L267.5,305.2 L270.3,304.7 L273.0,304.1 L275.8,303.6 L278.5,303.2 L281.3,302.7 L284.0,302.2 L286.8,301.8 L289.5,301.4 L292.3,301.0 L295.0,300.6 L297.8,300.2 L300.5,299.9 L303.3,299.6 L306.0,299.2 L308.8,298.9 L311.5,298.6 L314.3,298.3 L317.0,298.1 L319.8,297.8 L322.5,297.5 L325.3,297.2 L328.0,296.9 L330.8,296.7 L333.5,296.4 L336.3,296.2 L339.0,296.0 L341.8,295.8 L344.5,295.6 L347.3,295.4 L350.0,295.2 L352.8,295.1 L355.5,295.0 L358.3,294.9 L361.0,294.8 L363.8,294.7 L366.5,294.6 L369.3,294.6 L372.0,294.5 L374.8,294.4 L377.5,294.3 L380.3,294.3 L383.0,294.2 L385.8,294.2 L388.5,294.1 L391.3,294.0 L394.0,294.0 L396.8,293.9 L399.5,293.9 L402.3,293.8 L405.0,293.8 L407.8,293.8 L410.5,293.7 L413.3,293.7 L416.0,293.6 L418.8,293.6 L421.5,293.6 L424.3,293.5 L427.0,293.5 L429.8,293.5 L432.5,293.5 L435.2,293.5 L438.0,293.4 L440.7,293.4 L443.5,293.4 L446.2,293.4 L449.0,293.4 L451.7,293.4 L454.5,293.4 L457.2,293.4 L460.0,293.4 L462.7,293.4 L465.5,293.4 L468.2,293.4 L471.0,293.4 L473.7,293.4 L476.5,293.4 L479.2,293.4 L482.0,293.4 L484.7,293.4 L487.5,293.4 L490.2,293.4 L493.0,293.4 L495.7,293.4 L498.5,293.4 L501.2,293.4 L504.0,293.4 L506.7,293.4 L509.5,293.4 L512.2,293.4 L515.0,293.4 L517.7,293.4 L520.5,293.4 L523.2,293.3 L526.0,293.3 L528.7,293.3 L531.5,293.3 L534.2,293.3 L537.0,293.3 L539.7,293.3 L542.5,293.3 L545.2,293.3 L548.0,293.3 L550.7,293.3 L553.5,293.3 L556.2,293.3 L559.0,293.3 L561.7,293.3 L564.5,293.3 L567.2,293.3 L570.0,293.3 L572.7,293.3 L575.5,293.3 L578.2,293.3 L581.0,293.3 L583.7,293.3 L586.5,293.3 L589.2,293.3 L592.0,293.3 L594.7,293.3 L597.4,293.3 L600.2,293.3 L602.9,293.3 L605.7,293.3 L608.4,293.3 L611.2,293.3 L613.9,293.3 L616.7,293.3 L619.4,293.3 L622.2,293.3 L624.9,293.3 L627.7,293.3 L630.4,293.3 L633.2,293.3 L635.9,293.3 L638.7,293.3 L641.4,293.3 L644.2,293.3 L646.9,293.3 L649.7,293.3 L652.4,293.3 L655.2,293.3 L657.9,293.3 L660.7,293.3 L663.4,293.3 L666.2,293.3 L668.9,293.3 L671.7,293.3 L674.4,293.3 L677.2,293.3 L679.9,293.3 L682.7,293.3 L685.4,293.3 L688.2,293.3 L690.9,293.3 L693.7,293.3 L696.4,293.3 L699.2,293.3 L701.9,293.3 L704.7,293.3 L707.4,293.3 L710.2,293.3 L712.9,293.3 L715.7,293.3 L718.4,293.3 L721.2,293.3 L723.9,293.3 L726.7,293.3 L729.4,293.3 L732.2,293.3 L734.9,293.3 L737.7,293.3 L740.4,293.3 L743.2,293.3 L745.9,293.3 L748.7,293.3 L751.4,293.3 L754.2,293.3 L756.9,293.3 L759.7,293.3 L762.4,293.3 L765.1,293.3 L767.9,293.3 L770.6,293.3 L773.4,293.3 L776.1,293.3 L778.9,293.3 L781.6,293.3 L784.4,293.3 L787.1,293.3 L789.9,293.3 L792.6,293.3 L795.4,293.3 L798.1,293.3 L800.9,293.2 L803.6,293.2 L806.4,293.2 L809.1,293.2 L811.9,293.2 L814.6,293.2 L817.4,293.2 L820.1,293.2 L822.9,293.2 L825.6,293.2 L828.4,293.2 L831.1,293.2 L833.9,293.2 L836.6,293.2 L839.4,293.2 L842.1,293.2 L844.9,293.2 L847.6,293.2 L850.4,293.2 L853.1,293.2 L855.9,293.2 L858.6,293.2 L861.4,293.2 L864.1,293.2 L866.9,293.2 L869.6,293.2 L872.4,293.2 L875.1,293.2 L877.9,293.2 L880.6,293.2 L883.4,293.2 L886.1,293.2 L888.9,293.2 L891.6,293.2 L894.4,293.2 L897.1,293.2 L899.9,293.2 L902.6,293.2 L905.4,293.2 L908.1,293.2 L910.9,293.2 L913.6,293.2 L916.4,293.2 L919.1,293.2 L921.9,293.2 L924.6,293.2" fill="none" stroke="#b30000" stroke-width="1.5"/>
<path d="M102.6,570.1 L105.3,552.5 L108.1,536.1 L110.8,520.8 L113.6,508.1 L116.3,497.8 L119.1,489.5 L121.8,482.3 L124.6,475.8 L127.3,470.2 L130.1,465.0 L132.8,460.1 L135.6,455.6 L138.3,451.5 L141.1,447.7 L143.8,443.7 L146.6,440.0 L149.3,436.8 L152.1,434.1 L154.8,430.9 L157.6,426.1 L160.3,421.0 L163.1,417.2 L165.8,414.1 L168.6,410.8 L171.3,407.4 L174.1,404.1 L176.8,401.1 L179.6,398.2 L182.3,395.3 L185.1,392.5 L187.8,389.8 L190.6,387.3 L193.3,384.9 L196.1,382.7 L198.8,380.5 L201.6,378.5 L204.3,376.6 L207.1,374.9 L209.8,373.3 L212.6,371.6 L215.3,369.2 L218.1,366.9 L220.8,364.9 L223.6,363.0 L226.3,361.2 L229.1,359.3 L231.8,357.5 L234.6,355.7 L237.3,353.9 L240.1,352.1 L242.8,350.4 L245.6,348.8 L248.3,347.5 L251.1,346.4 L253.8,345.4 L256.6,344.4 L259.3,343.6 L262.1,342.8 L264.8,342.1 L267.5,341.5 L270.3,340.9 L273.0,340.3 L275.8,339.8 L278.5,339.4 L281.3,339.1 L284.0,338.7 L286.8,338.4 L289.5,338.2 L292.3,337.9 L295.0,337.7 L297.8,337.5 L300.5,337.3 L303.3,337.2 L306.0,337.1 L308.8,337.0 L311.5,336.9 L314.3,336.9 L317.0,336.8 L319.8,336.8 L322.5,336.8 L325.3,336.7 L328.0,336.7 L330.8,336.7 L333.5,336.6 L336.3,336.6 L339.0,336.6 L341.8,336.6 L344.5,336.5 L347.3,336.5 L350.0,336.5 L352.8,336.5 L355.5,336.5 L358.3,336.5 L361.0,336.5 L363.8,336.5 L366.5,336.5 L369.3,336.5 L372.0,336.5 L374.8,336.6 L377.5,336.6 L380.3,336.6 L383.0,336.6 L385.8,336.7 L388.5,336.7 L391.3,336.7 L394.0,336.8 L396.8,336.8 L399.5,336.8 L402.3,336.9 L405.0,336.9 L407.8,337.0 L410.5,337.0 L413.3,337.0 L416.0,337.1 L418.8,337.1 L421.5,337.2 L424.3,337.2 L427.0,337.2 L429.8,337.3 L432.5,337.3 L435.2,337.3 L438.0,337.4 L440.7,337.4 L443.5,337.4 L446.2,337.5 L449.0,337.5 L451.7,337.5 L454.5,337.5 L457.2,337.6 L460.0,337.6 L462.7,337.6 L465.5,337.6 L468.2,337.6 L471.0,337.7 L473.7,337.7 L476.5,337.7 L479.2,337.7 L482.0,337.7 L484.7,337.8 L487.5,337.8 L490.2,337.8 L493.0,337.8 L495.7,337.9 L498.5,337.9 L501.2,337.9 L504.0,337.9 L506.7,337.9 L509.5,338.0 L512.2,338.0 L515.0,338.0 L517.7,338.0 L520.5,338.0 L523.2,338.1 L526.0,338.1 L528.7,338.1 L531.5,338.1 L534.2,338.1 L537.0,338.1 L539.7,338.2 L542.5,338.2 L545.2,338.2 L548.0,338.2 L550.7,338.2 L553.5,338.3 L556.2,338.3 L559.0,338.3 L561.7,338.3 L564.5,338.3 L567.2,338.3 L570.0,338.4 L572.7,338.4 L575.5,338.4 L578.2,338.4 L581.0,338.4 L583.7,338.4 L586.5,338.4 L589.2,338.5 L592.0,338.5 L594.7,338.5 L597.4,338.5 L600.2,338.5 L602.9,338.5 L605.7,338.5 L608.4,338.6 L611.2,338.6 L613.9,338.6 L616.7,338.6 L619.4,338.6 L622.2,338.6 L624.9,338.6 L627.7,338.6 L630.4,338.7 L633.2,338.7 L635.9,338.7 L638.7,338.7 L641.4,338.7 L644.2,338.7 L646.9,338.7 L649.7,338.7 L652.4,338.7 L655.2,338.7 L657.9,338.8 L660.7,338.8 L663.4,338.8 L666.2,338.8 L668.9,338.8 L671.7,338.8 L674.4,338.8 L677.2,338.8 L679.9,338.8 L682.7,338.8 L685.4,338.8 L688.2,338.8 L690.9,338.8 L693.7,338.8 L696.4,338.8 L699.2,338.8 L701.9,338.8 L704.7,338.9 L707.4,338.9 L710.2,338.9 L712.9,338.9 L715.7,338.9 L718.4,338.9 L721.2,338.9 L723.9,338.9 L726.7,338.9 L729.4,338.9 L732.2,338.9 L734.9,338.9 L737.7,338.9 L740.4,338.9 L743.2,338.9 L745.9,338.9 L748.7,338.9 L751.4,338.9 L754.2,338.9 L756.9,338.9 L759.7,339.0 L762.4,339.0 L765.1,339.0 L767.9,339.0 L770.6,339.0 L773.4,339.0 L776.1,339.0 L778.9,339.0 L781.6,339.0 L784.4,339.0 L787.1,339.0 L789.9,339.0 L792.6,339.0 L795.4,339.0 L798.1,339.0 L800.9,339.0 L803.6,339.0 L806.4,339.0 L809.1,339.0 L811.9,339.0 L814.6,339.0 L817.4,339.0 L820.1,339.0 L822.9,339.0 L825.6,339.0 L828.4,339.0 L831.1,339.0 L833.9,339.1 L836.6,339.1 L839.4,339.1 L842.1,339.1 L844.9,339.1 L847.6,339.1 L850.4,339.1 L853.1,339.1 L855.9,339.1 L858.6,339.1 L861.4,339.1 L864.1,339.1 L866.9,339.1 L869.6,339.1 L872.4,339.1 L875.1,339.1 L877.9,339.1 L880.6,339.1 L883.4,339.1 L886.1,339.1 L888.9,339.1 L891.6,339.1 L894.4,339.1 L897.1,339.1 L899.9,339.1 L902.6,339.1 L905.4,339.1 L908.1,339.1 L910.9,339.1 L913.6,339.1 L916.4,339.1 L919.1,339.1 L921.9,339.1 L924.6,339.1" fill="none" stroke="#b30000" stroke-width="1.5"/>
<line x1="86.1" y1="50" x2="86.1" y2="581.0999999999999" stroke="#000" stroke-width="4.8"/>
<line x1="83.69999999999999" y1="579.3" x2="943" y2="579.3" stroke="#000" stroke-width="3.6"/>
<line x1="102.6" y1="572.5" x2="102.6" y2="579.3" stroke="#000" stroke-width="3"/>
<text x="102.6" y="609.3" text-anchor="middle" class="tk">0</text>
<line x1="143.7" y1="575.9" x2="143.7" y2="579.3" stroke="#000" stroke-width="2.4"/>
<line x1="184.8" y1="575.9" x2="184.8" y2="579.3" stroke="#000" stroke-width="2.4"/>
<line x1="225.9" y1="575.9" x2="225.9" y2="579.3" stroke="#000" stroke-width="2.4"/>
<line x1="267.0" y1="575.9" x2="267.0" y2="579.3" stroke="#000" stroke-width="2.4"/>
<line x1="308.1" y1="572.5" x2="308.1" y2="579.3" stroke="#000" stroke-width="3"/>
<text x="308.1" y="609.3" text-anchor="middle" class="tk">5</text>
<line x1="349.2" y1="575.9" x2="349.2" y2="579.3" stroke="#000" stroke-width="2.4"/>
<line x1="390.3" y1="575.9" x2="390.3" y2="579.3" stroke="#000" stroke-width="2.4"/>
<line x1="431.4" y1="575.9" x2="431.4" y2="579.3" stroke="#000" stroke-width="2.4"/>
<line x1="472.5" y1="575.9" x2="472.5" y2="579.3" stroke="#000" stroke-width="2.4"/>
<line x1="513.6" y1="572.5" x2="513.6" y2="579.3" stroke="#000" stroke-width="3"/>
<text x="513.6" y="609.3" text-anchor="middle" class="tk">10</text>
<line x1="554.7" y1="575.9" x2="554.7" y2="579.3" stroke="#000" stroke-width="2.4"/>
<line x1="595.8" y1="575.9" x2="595.8" y2="579.3" stroke="#000" stroke-width="2.4"/>
<line x1="636.9" y1="575.9" x2="636.9" y2="579.3" stroke="#000" stroke-width="2.4"/>
<line x1="678.0" y1="575.9" x2="678.0" y2="579.3" stroke="#000" stroke-width="2.4"/>
<line x1="719.1" y1="572.5" x2="719.1" y2="579.3" stroke="#000" stroke-width="3"/>
<text x="719.1" y="609.3" text-anchor="middle" class="tk">15</text>
<line x1="760.2" y1="575.9" x2="760.2" y2="579.3" stroke="#000" stroke-width="2.4"/>
<line x1="801.3" y1="575.9" x2="801.3" y2="579.3" stroke="#000" stroke-width="2.4"/>
<line x1="842.4" y1="575.9" x2="842.4" y2="579.3" stroke="#000" stroke-width="2.4"/>
<line x1="883.5" y1="575.9" x2="883.5" y2="579.3" stroke="#000" stroke-width="2.4"/>
<line x1="924.6" y1="572.5" x2="924.6" y2="579.3" stroke="#000" stroke-width="3"/>
<text x="924.6" y="609.3" text-anchor="middle" class="tk">20</text>
<line x1="87.5" y1="562.5" x2="92.3" y2="562.5" stroke="#000" stroke-width="3.4"/>
<text x="78.6" y="571.8" text-anchor="end" class="tk">0</text>
<line x1="87.5" y1="542.4" x2="90.9" y2="542.4" stroke="#000" stroke-width="2.6"/>
<line x1="87.5" y1="522.4" x2="90.9" y2="522.4" stroke="#000" stroke-width="2.6"/>
<line x1="87.5" y1="502.3" x2="90.9" y2="502.3" stroke="#000" stroke-width="2.6"/>
<line x1="87.5" y1="482.2" x2="90.9" y2="482.2" stroke="#000" stroke-width="2.6"/>
<line x1="87.5" y1="462.1" x2="92.3" y2="462.1" stroke="#000" stroke-width="3.4"/>
<text x="78.6" y="471.4" text-anchor="end" class="tk">10</text>
<line x1="87.5" y1="442.1" x2="90.9" y2="442.1" stroke="#000" stroke-width="2.6"/>
<line x1="87.5" y1="422.0" x2="90.9" y2="422.0" stroke="#000" stroke-width="2.6"/>
<line x1="87.5" y1="401.9" x2="90.9" y2="401.9" stroke="#000" stroke-width="2.6"/>
<line x1="87.5" y1="381.9" x2="90.9" y2="381.9" stroke="#000" stroke-width="2.6"/>
<line x1="87.5" y1="361.8" x2="92.3" y2="361.8" stroke="#000" stroke-width="3.4"/>
<text x="78.6" y="371.1" text-anchor="end" class="tk">20</text>
<line x1="87.5" y1="341.7" x2="90.9" y2="341.7" stroke="#000" stroke-width="2.6"/>
<line x1="87.5" y1="321.6" x2="90.9" y2="321.6" stroke="#000" stroke-width="2.6"/>
<line x1="87.5" y1="301.6" x2="90.9" y2="301.6" stroke="#000" stroke-width="2.6"/>
<line x1="87.5" y1="281.5" x2="90.9" y2="281.5" stroke="#000" stroke-width="2.6"/>
<line x1="87.5" y1="261.4" x2="92.3" y2="261.4" stroke="#000" stroke-width="3.4"/>
<text x="78.6" y="270.7" text-anchor="end" class="tk">30</text>
<line x1="87.5" y1="241.3" x2="90.9" y2="241.3" stroke="#000" stroke-width="2.6"/>
<line x1="87.5" y1="221.3" x2="90.9" y2="221.3" stroke="#000" stroke-width="2.6"/>
<line x1="87.5" y1="201.2" x2="90.9" y2="201.2" stroke="#000" stroke-width="2.6"/>
<line x1="87.5" y1="181.1" x2="90.9" y2="181.1" stroke="#000" stroke-width="2.6"/>
<line x1="87.5" y1="161.1" x2="92.3" y2="161.1" stroke="#000" stroke-width="3.4"/>
<text x="78.6" y="170.4" text-anchor="end" class="tk">40</text>
<line x1="87.5" y1="141.0" x2="90.9" y2="141.0" stroke="#000" stroke-width="2.6"/>
<line x1="87.5" y1="120.9" x2="90.9" y2="120.9" stroke="#000" stroke-width="2.6"/>
<line x1="87.5" y1="100.8" x2="90.9" y2="100.8" stroke="#000" stroke-width="2.6"/>
<line x1="87.5" y1="80.8" x2="90.9" y2="80.8" stroke="#000" stroke-width="2.6"/>
<line x1="87.5" y1="60.7" x2="92.3" y2="60.7" stroke="#000" stroke-width="3.4"/>
<text x="78.6" y="70.0" text-anchor="end" class="tk">50</text>
<text x="507" y="654.8" text-anchor="middle" class="lab">Time (days)</text>
<text transform="translate(26.7,327.2) rotate(-90)" text-anchor="middle" class="lab">AN Max Perpendicular Extent (µm)</text>
<text x="6.5" y="27.4" class="let">A</text>
<circle cx="104.8" cy="941.9" r="6.9" fill="#0000ff"/>
<circle cx="104.8" cy="1092.8" r="6.9" fill="#0000ff"/>
<circle cx="104.8" cy="1174.9" r="6.9" fill="#0000ff"/>
<circle cx="156.8" cy="985.6" r="6.9" fill="#0000ff"/>
<circle cx="228.4" cy="768.1" r="6.9" fill="#0000ff"/>
<circle cx="228.4" cy="865.5" r="6.9" fill="#0000ff"/>
<circle cx="228.4" cy="1087.7" r="6.9" fill="#0000ff"/>
<circle cx="228.4" cy="1158.4" r="6.9" fill="#0000ff"/>
<circle cx="228.4" cy="1166.4" r="6.9" fill="#0000ff"/>
<circle cx="310.8" cy="913.1" r="6.9" fill="#0000ff"/>
<circle cx="310.8" cy="922.6" r="6.9" fill="#0000ff"/>
<circle cx="310.8" cy="984.1" r="6.9" fill="#0000ff"/>
<circle cx="310.8" cy="1052.0" r="6.9" fill="#0000ff"/>
<circle cx="310.8" cy="1208.5" r="6.9" fill="#0000ff"/>
<circle cx="392.2" cy="921.6" r="6.9" fill="#0000ff"/>
<circle cx="392.2" cy="1021.3" r="6.9" fill="#0000ff"/>
<circle cx="392.2" cy="1106.9" r="6.9" fill="#0000ff"/>
<circle cx="392.2" cy="1119.0" r="6.9" fill="#0000ff"/>
<circle cx="680.0" cy="865.5" r="6.9" fill="#0000ff"/>
<circle cx="680.0" cy="878.1" r="6.9" fill="#0000ff"/>
<circle cx="680.0" cy="888.7" r="6.9" fill="#0000ff"/>
<circle cx="680.0" cy="918.3" r="6.9" fill="#0000ff"/>
<circle cx="680.0" cy="990.5" r="6.9" fill="#0000ff"/>
<circle cx="680.0" cy="1017.4" r="6.9" fill="#0000ff"/>
<circle cx="926.5" cy="715.9" r="6.9" fill="#0000ff"/>
<circle cx="926.5" cy="821.6" r="6.9" fill="#0000ff"/>
<circle cx="926.5" cy="830.0" r="6.9" fill="#0000ff"/>
<circle cx="104.8" cy="1061.4" r="6.9" fill="#b30000"/>
<circle cx="104.8" cy="1108.3" r="6.9" fill="#b30000"/>
<circle cx="104.8" cy="1154.2" r="6.9" fill="#b30000"/>
<circle cx="104.8" cy="1168.5" r="6.9" fill="#b30000"/>
<circle cx="156.8" cy="888.2" r="6.9" fill="#b30000"/>
<circle cx="156.8" cy="950.7" r="6.9" fill="#b30000"/>
<circle cx="156.8" cy="1003.6" r="6.9" fill="#b30000"/>
<circle cx="156.8" cy="1084.2" r="6.9" fill="#b30000"/>
<circle cx="156.8" cy="1106.0" r="6.9" fill="#b30000"/>
<circle cx="156.8" cy="1150.4" r="6.9" fill="#b30000"/>
<circle cx="156.8" cy="1156.3" r="6.9" fill="#b30000"/>
<circle cx="156.8" cy="1176.4" r="6.9" fill="#b30000"/>
<circle cx="228.4" cy="885.4" r="6.9" fill="#b30000"/>
<circle cx="228.4" cy="919.6" r="6.9" fill="#b30000"/>
<circle cx="228.4" cy="924.3" r="6.9" fill="#b30000"/>
<circle cx="228.4" cy="1026.8" r="6.9" fill="#b30000"/>
<circle cx="310.8" cy="863.8" r="6.9" fill="#b30000"/>
<circle cx="310.8" cy="915.9" r="6.9" fill="#b30000"/>
<circle cx="310.8" cy="975.7" r="6.9" fill="#b30000"/>
<circle cx="310.8" cy="1099.5" r="6.9" fill="#b30000"/>
<circle cx="392.2" cy="823.3" r="6.9" fill="#b30000"/>
<circle cx="392.2" cy="901.5" r="6.9" fill="#b30000"/>
<circle cx="392.2" cy="967.7" r="6.9" fill="#b30000"/>
<circle cx="392.2" cy="1054.1" r="6.9" fill="#b30000"/>
<circle cx="926.5" cy="861.7" r="6.9" fill="#b30000"/>
<circle cx="926.5" cy="892.8" r="6.9" fill="#b30000"/>
<circle cx="926.5" cy="912.4" r="6.9" fill="#b30000"/>
<circle cx="926.5" cy="948.8" r="6.9" fill="#b30000"/>
<circle cx="926.5" cy="991.1" r="6.9" fill="#b30000"/>
<circle cx="926.5" cy="998.5" r="6.9" fill="#b30000"/>
<circle cx="926.5" cy="1097.9" r="6.9" fill="#b30000"/>
<line x1="104.8" y1="1037.0" x2="104.8" y2="1109.6" stroke="#0000ff" stroke-width="2.6"/>
<line x1="100.3" y1="1037.0" x2="109.3" y2="1037.0" stroke="#0000ff" stroke-width="2.6"/>
<line x1="100.3" y1="1109.6" x2="109.3" y2="1109.6" stroke="#0000ff" stroke-width="2.6"/>
<line x1="156.8" y1="950.8" x2="156.8" y2="974.0" stroke="#0000ff" stroke-width="2.6"/>
<line x1="152.3" y1="950.8" x2="161.3" y2="950.8" stroke="#0000ff" stroke-width="2.6"/>
<line x1="152.3" y1="974.0" x2="161.3" y2="974.0" stroke="#0000ff" stroke-width="2.6"/>
<line x1="228.4" y1="973.0" x2="228.4" y2="1078.6" stroke="#0000ff" stroke-width="2.6"/>
<line x1="223.9" y1="973.0" x2="232.9" y2="973.0" stroke="#0000ff" stroke-width="2.6"/>
<line x1="223.9" y1="1078.6" x2="232.9" y2="1078.6" stroke="#0000ff" stroke-width="2.6"/>
<line x1="310.8" y1="984.0" x2="310.8" y2="1050.0" stroke="#0000ff" stroke-width="2.6"/>
<line x1="306.3" y1="984.0" x2="315.3" y2="984.0" stroke="#0000ff" stroke-width="2.6"/>
<line x1="306.3" y1="1050.0" x2="315.3" y2="1050.0" stroke="#0000ff" stroke-width="2.6"/>
<line x1="392.2" y1="980.1" x2="392.2" y2="1041.0" stroke="#0000ff" stroke-width="2.6"/>
<line x1="387.7" y1="980.1" x2="396.7" y2="980.1" stroke="#0000ff" stroke-width="2.6"/>
<line x1="387.7" y1="1041.0" x2="396.7" y2="1041.0" stroke="#0000ff" stroke-width="2.6"/>
<line x1="680.0" y1="901.4" x2="680.0" y2="953.6" stroke="#0000ff" stroke-width="2.6"/>
<line x1="675.5" y1="901.4" x2="684.5" y2="901.4" stroke="#0000ff" stroke-width="2.6"/>
<line x1="675.5" y1="953.6" x2="684.5" y2="953.6" stroke="#0000ff" stroke-width="2.6"/>
<line x1="926.5" y1="753.3" x2="926.5" y2="825.0" stroke="#0000ff" stroke-width="2.6"/>
<line x1="922.0" y1="753.3" x2="931.0" y2="753.3" stroke="#0000ff" stroke-width="2.6"/>
<line x1="922.0" y1="825.0" x2="931.0" y2="825.0" stroke="#0000ff" stroke-width="2.6"/>
<line x1="104.8" y1="1101.3" x2="104.8" y2="1149.0" stroke="#b30000" stroke-width="2.6"/>
<line x1="100.3" y1="1101.3" x2="109.3" y2="1101.3" stroke="#b30000" stroke-width="2.6"/>
<line x1="100.3" y1="1149.0" x2="109.3" y2="1149.0" stroke="#b30000" stroke-width="2.6"/>
<line x1="156.8" y1="1018.8" x2="156.8" y2="1085.2" stroke="#b30000" stroke-width="2.6"/>
<line x1="152.3" y1="1018.8" x2="161.3" y2="1018.8" stroke="#b30000" stroke-width="2.6"/>
<line x1="152.3" y1="1085.2" x2="161.3" y2="1085.2" stroke="#b30000" stroke-width="2.6"/>
<line x1="228.4" y1="908.9" x2="228.4" y2="970.8" stroke="#b30000" stroke-width="2.6"/>
<line x1="223.9" y1="908.9" x2="232.9" y2="908.9" stroke="#b30000" stroke-width="2.6"/>
<line x1="223.9" y1="970.8" x2="232.9" y2="970.8" stroke="#b30000" stroke-width="2.6"/>
<line x1="310.8" y1="920.0" x2="310.8" y2="1004.4" stroke="#b30000" stroke-width="2.6"/>
<line x1="306.3" y1="920.0" x2="315.3" y2="920.0" stroke="#b30000" stroke-width="2.6"/>
<line x1="306.3" y1="1004.4" x2="315.3" y2="1004.4" stroke="#b30000" stroke-width="2.6"/>
<line x1="392.2" y1="888.4" x2="392.2" y2="986.0" stroke="#b30000" stroke-width="2.6"/>
<line x1="387.7" y1="888.4" x2="396.7" y2="888.4" stroke="#b30000" stroke-width="2.6"/>
<line x1="387.7" y1="986.0" x2="396.7" y2="986.0" stroke="#b30000" stroke-width="2.6"/>
<line x1="926.5" y1="944.6" x2="926.5" y2="988.0" stroke="#b30000" stroke-width="2.6"/>
<line x1="922.0" y1="944.6" x2="931.0" y2="944.6" stroke="#b30000" stroke-width="2.6"/>
<line x1="922.0" y1="988.0" x2="931.0" y2="988.0" stroke="#b30000" stroke-width="2.6"/>
<path d="M104.8,1073.3 L156.8,962.4 L228.4,1012.1 L310.8,1017.1 L392.2,1009.7 L680.0,926.8 L926.5,789.2" fill="none" stroke="#0000ff" stroke-width="3" stroke-linejoin="round"/>
<circle cx="104.8" cy="1073.3" r="9.0" fill="#0000ff"/>
<circle cx="156.8" cy="962.4" r="9.0" fill="#0000ff"/>
<circle cx="228.4" cy="1012.1" r="9.0" fill="#0000ff"/>
<circle cx="310.8" cy="1017.1" r="9.0" fill="#0000ff"/>
<circle cx="392.2" cy="1009.7" r="9.0" fill="#0000ff"/>
<circle cx="680.0" cy="926.8" r="9.0" fill="#0000ff"/>
<circle cx="926.5" cy="789.2" r="9.0" fill="#0000ff"/>
<path d="M104.8,1123.4 L156.8,1052.0 L228.4,939.1 L310.8,962.5 L392.2,937.0 L680.0,1028.3 L926.5,966.3" fill="none" stroke="#b30000" stroke-width="3" stroke-linejoin="round"/>
<circle cx="104.8" cy="1123.4" r="9.0" fill="#b30000"/>
<circle cx="156.8" cy="1052.0" r="9.0" fill="#b30000"/>
<circle cx="228.4" cy="939.1" r="9.0" fill="#b30000"/>
<circle cx="310.8" cy="962.5" r="9.0" fill="#b30000"/>
<circle cx="392.2" cy="937.0" r="9.0" fill="#b30000"/>
<circle cx="680.0" cy="1028.3" r="9.0" fill="#b30000"/>
<circle cx="926.5" cy="966.3" r="9.0" fill="#b30000"/>
<path d="M104.9,1010.4 L110.1,1009.6 L115.2,1008.7 L120.4,1007.8 L125.6,1007.0 L130.7,1006.1 L135.9,1005.2 L141.1,1004.4 L146.3,1003.5 L151.4,1002.6 L156.6,1001.7 L161.8,1000.8 L166.9,999.9 L172.1,999.0 L177.3,998.1 L182.4,997.2 L187.6,996.2 L192.8,995.3 L198.0,994.4 L203.1,993.4 L208.3,992.4 L213.5,991.5 L218.6,990.5 L223.8,989.5 L229.0,988.5 L234.1,987.5 L239.3,986.5 L244.5,985.5 L249.7,984.5 L254.8,983.4 L260.0,982.4 L265.2,981.3 L270.3,980.3 L275.5,979.2 L280.7,978.1 L285.8,977.0 L291.0,975.9 L296.2,974.8 L301.4,973.6 L306.5,972.5 L311.7,971.3 L316.9,970.1 L322.0,968.9 L327.2,967.7 L332.4,966.5 L337.5,965.3 L342.7,964.0 L347.9,962.8 L353.1,961.5 L358.2,960.2 L363.4,958.9 L368.6,957.6 L373.7,956.2 L378.9,954.9 L384.1,953.5 L389.2,952.1 L394.4,950.7 L399.6,949.3 L404.7,947.9 L409.9,946.4 L415.1,945.0 L420.3,943.5 L425.4,942.0 L430.6,940.5 L435.8,939.0 L440.9,937.5 L446.1,935.9 L451.3,934.4 L456.4,932.8 L461.6,931.2 L466.8,929.6 L472.0,928.0 L477.1,926.4 L482.3,924.8 L487.5,923.1 L492.6,921.5 L497.8,919.8 L503.0,918.1 L508.1,916.4 L513.3,914.7 L518.5,913.0 L523.7,911.3 L528.8,909.5 L534.0,907.8 L539.2,906.1 L544.3,904.3 L549.5,902.5 L554.7,900.7 L559.8,899.0 L565.0,897.2 L570.2,895.4 L575.4,893.6 L580.5,891.7 L585.7,889.9 L590.9,888.1 L596.0,886.3 L601.2,884.4 L606.4,882.6 L611.5,880.7 L616.7,878.9 L621.9,877.0 L627.1,875.1 L632.2,873.2 L637.4,871.4 L642.6,869.5 L647.7,867.6 L652.9,865.7 L658.1,863.8 L663.2,861.9 L668.4,860.0 L673.6,858.1 L678.7,856.1 L683.9,854.2 L689.1,852.3 L694.3,850.4 L699.4,848.4 L704.6,846.5 L709.8,844.6 L714.9,842.6 L720.1,840.7 L725.3,838.8 L730.4,836.8 L735.6,834.9 L740.8,832.9 L746.0,830.9 L751.1,829.0 L756.3,827.0 L761.5,825.1 L766.6,823.1 L771.8,821.1 L777.0,819.2 L782.1,817.2 L787.3,815.2 L792.5,813.2 L797.7,811.3 L802.8,809.3 L808.0,807.3 L813.2,805.3 L818.3,803.3 L823.5,801.3 L828.7,799.3 L833.8,797.4 L839.0,795.4 L844.2,793.4 L849.4,791.4 L854.5,789.4 L859.7,787.4 L864.9,785.4 L870.0,783.4 L875.2,781.4 L880.4,779.4 L885.5,777.4 L890.7,775.4 L895.9,773.4 L901.1,771.4 L906.2,769.3 L911.4,767.3 L916.6,765.3 L921.7,763.3 L926.9,761.3 L926.9,920.3 L921.7,921.0 L916.6,921.8 L911.4,922.5 L906.2,923.3 L901.1,924.0 L895.9,924.8 L890.7,925.5 L885.5,926.3 L880.4,927.0 L875.2,927.8 L870.0,928.5 L864.9,929.3 L859.7,930.0 L854.5,930.8 L849.4,931.5 L844.2,932.3 L839.0,933.0 L833.8,933.8 L828.7,934.6 L823.5,935.3 L818.3,936.1 L813.2,936.9 L808.0,937.6 L802.8,938.4 L797.7,939.2 L792.5,940.0 L787.3,940.7 L782.1,941.5 L777.0,942.3 L771.8,943.1 L766.6,943.9 L761.5,944.7 L756.3,945.4 L751.1,946.2 L746.0,947.0 L740.8,947.8 L735.6,948.6 L730.4,949.4 L725.3,950.2 L720.1,951.0 L714.9,951.9 L709.8,952.7 L704.6,953.5 L699.4,954.3 L694.3,955.1 L689.1,956.0 L683.9,956.8 L678.7,957.6 L673.6,958.5 L668.4,959.3 L663.2,960.1 L658.1,961.0 L652.9,961.8 L647.7,962.7 L642.6,963.6 L637.4,964.4 L632.2,965.3 L627.1,966.2 L621.9,967.1 L616.7,968.0 L611.5,968.9 L606.4,969.8 L601.2,970.7 L596.0,971.6 L590.9,972.5 L585.7,973.4 L580.5,974.3 L575.4,975.3 L570.2,976.2 L565.0,977.2 L559.8,978.1 L554.7,979.1 L549.5,980.1 L544.3,981.1 L539.2,982.1 L534.0,983.1 L528.8,984.1 L523.7,985.1 L518.5,986.1 L513.3,987.2 L508.1,988.2 L503.0,989.3 L497.8,990.3 L492.6,991.4 L487.5,992.5 L482.3,993.6 L477.1,994.8 L472.0,995.9 L466.8,997.0 L461.6,998.2 L456.4,999.3 L451.3,1000.5 L446.1,1001.7 L440.9,1002.9 L435.8,1004.2 L430.6,1005.4 L425.4,1006.7 L420.3,1007.9 L415.1,1009.2 L409.9,1010.5 L404.7,1011.8 L399.6,1013.1 L394.4,1014.5 L389.2,1015.8 L384.1,1017.2 L378.9,1018.6 L373.7,1020.0 L368.6,1021.4 L363.4,1022.8 L358.2,1024.3 L353.1,1025.7 L347.9,1027.2 L342.7,1028.7 L337.5,1030.2 L332.4,1031.7 L327.2,1033.3 L322.0,1034.8 L316.9,1036.4 L311.7,1038.0 L306.5,1039.5 L301.4,1041.2 L296.2,1042.8 L291.0,1044.4 L285.8,1046.0 L280.7,1047.7 L275.5,1049.3 L270.3,1051.0 L265.2,1052.7 L260.0,1054.4 L254.8,1056.1 L249.7,1057.8 L244.5,1059.5 L239.3,1061.3 L234.1,1063.0 L229.0,1064.8 L223.8,1066.5 L218.6,1068.3 L213.5,1070.1 L208.3,1071.9 L203.1,1073.7 L198.0,1075.5 L192.8,1077.3 L187.6,1079.1 L182.4,1080.9 L177.3,1082.8 L172.1,1084.6 L166.9,1086.4 L161.8,1088.3 L156.6,1090.2 L151.4,1092.0 L146.3,1093.9 L141.1,1095.8 L135.9,1097.6 L130.7,1099.5 L125.6,1101.4 L120.4,1103.3 L115.2,1105.2 L110.1,1107.1 L104.9,1109.0 Z" fill="#0000ff" fill-opacity="0.2" stroke="none"/>
<path d="M104.9,1010.4 L110.1,1009.6 L115.2,1008.7 L120.4,1007.8 L125.6,1007.0 L130.7,1006.1 L135.9,1005.2 L141.1,1004.4 L146.3,1003.5 L151.4,1002.6 L156.6,1001.7 L161.8,1000.8 L166.9,999.9 L172.1,999.0 L177.3,998.1 L182.4,997.2 L187.6,996.2 L192.8,995.3 L198.0,994.4 L203.1,993.4 L208.3,992.4 L213.5,991.5 L218.6,990.5 L223.8,989.5 L229.0,988.5 L234.1,987.5 L239.3,986.5 L244.5,985.5 L249.7,984.5 L254.8,983.4 L260.0,982.4 L265.2,981.3 L270.3,980.3 L275.5,979.2 L280.7,978.1 L285.8,977.0 L291.0,975.9 L296.2,974.8 L301.4,973.6 L306.5,972.5 L311.7,971.3 L316.9,970.1 L322.0,968.9 L327.2,967.7 L332.4,966.5 L337.5,965.3 L342.7,964.0 L347.9,962.8 L353.1,961.5 L358.2,960.2 L363.4,958.9 L368.6,957.6 L373.7,956.2 L378.9,954.9 L384.1,953.5 L389.2,952.1 L394.4,950.7 L399.6,949.3 L404.7,947.9 L409.9,946.4 L415.1,945.0 L420.3,943.5 L425.4,942.0 L430.6,940.5 L435.8,939.0 L440.9,937.5 L446.1,935.9 L451.3,934.4 L456.4,932.8 L461.6,931.2 L466.8,929.6 L472.0,928.0 L477.1,926.4 L482.3,924.8 L487.5,923.1 L492.6,921.5 L497.8,919.8 L503.0,918.1 L508.1,916.4 L513.3,914.7 L518.5,913.0 L523.7,911.3 L528.8,909.5 L534.0,907.8 L539.2,906.1 L544.3,904.3 L549.5,902.5 L554.7,900.7 L559.8,899.0 L565.0,897.2 L570.2,895.4 L575.4,893.6 L580.5,891.7 L585.7,889.9 L590.9,888.1 L596.0,886.3 L601.2,884.4 L606.4,882.6 L611.5,880.7 L616.7,878.9 L621.9,877.0 L627.1,875.1 L632.2,873.2 L637.4,871.4 L642.6,869.5 L647.7,867.6 L652.9,865.7 L658.1,863.8 L663.2,861.9 L668.4,860.0 L673.6,858.1 L678.7,856.1 L683.9,854.2 L689.1,852.3 L694.3,850.4 L699.4,848.4 L704.6,846.5 L709.8,844.6 L714.9,842.6 L720.1,840.7 L725.3,838.8 L730.4,836.8 L735.6,834.9 L740.8,832.9 L746.0,830.9 L751.1,829.0 L756.3,827.0 L761.5,825.1 L766.6,823.1 L771.8,821.1 L777.0,819.2 L782.1,817.2 L787.3,815.2 L792.5,813.2 L797.7,811.3 L802.8,809.3 L808.0,807.3 L813.2,805.3 L818.3,803.3 L823.5,801.3 L828.7,799.3 L833.8,797.4 L839.0,795.4 L844.2,793.4 L849.4,791.4 L854.5,789.4 L859.7,787.4 L864.9,785.4 L870.0,783.4 L875.2,781.4 L880.4,779.4 L885.5,777.4 L890.7,775.4 L895.9,773.4 L901.1,771.4 L906.2,769.3 L911.4,767.3 L916.6,765.3 L921.7,763.3 L926.9,761.3" fill="none" stroke="#0000ff" stroke-width="1.5"/>
<path d="M104.9,1059.7 L110.1,1058.3 L115.2,1056.9 L120.4,1055.6 L125.6,1054.2 L130.7,1052.8 L135.9,1051.4 L141.1,1050.1 L146.3,1048.7 L151.4,1047.3 L156.6,1045.9 L161.8,1044.6 L166.9,1043.2 L172.1,1041.8 L177.3,1040.4 L182.4,1039.0 L187.6,1037.7 L192.8,1036.3 L198.0,1034.9 L203.1,1033.5 L208.3,1032.2 L213.5,1030.8 L218.6,1029.4 L223.8,1028.0 L229.0,1026.7 L234.1,1025.3 L239.3,1023.9 L244.5,1022.5 L249.7,1021.2 L254.8,1019.8 L260.0,1018.4 L265.2,1017.0 L270.3,1015.6 L275.5,1014.3 L280.7,1012.9 L285.8,1011.5 L291.0,1010.1 L296.2,1008.8 L301.4,1007.4 L306.5,1006.0 L311.7,1004.6 L316.9,1003.3 L322.0,1001.9 L327.2,1000.5 L332.4,999.1 L337.5,997.7 L342.7,996.4 L347.9,995.0 L353.1,993.6 L358.2,992.2 L363.4,990.9 L368.6,989.5 L373.7,988.1 L378.9,986.7 L384.1,985.4 L389.2,984.0 L394.4,982.6 L399.6,981.2 L404.7,979.8 L409.9,978.5 L415.1,977.1 L420.3,975.7 L425.4,974.3 L430.6,973.0 L435.8,971.6 L440.9,970.2 L446.1,968.8 L451.3,967.5 L456.4,966.1 L461.6,964.7 L466.8,963.3 L472.0,962.0 L477.1,960.6 L482.3,959.2 L487.5,957.8 L492.6,956.4 L497.8,955.1 L503.0,953.7 L508.1,952.3 L513.3,950.9 L518.5,949.6 L523.7,948.2 L528.8,946.8 L534.0,945.4 L539.2,944.1 L544.3,942.7 L549.5,941.3 L554.7,939.9 L559.8,938.5 L565.0,937.2 L570.2,935.8 L575.4,934.4 L580.5,933.0 L585.7,931.7 L590.9,930.3 L596.0,928.9 L601.2,927.5 L606.4,926.2 L611.5,924.8 L616.7,923.4 L621.9,922.0 L627.1,920.7 L632.2,919.3 L637.4,917.9 L642.6,916.5 L647.7,915.1 L652.9,913.8 L658.1,912.4 L663.2,911.0 L668.4,909.6 L673.6,908.3 L678.7,906.9 L683.9,905.5 L689.1,904.1 L694.3,902.8 L699.4,901.4 L704.6,900.0 L709.8,898.6 L714.9,897.2 L720.1,895.9 L725.3,894.5 L730.4,893.1 L735.6,891.7 L740.8,890.4 L746.0,889.0 L751.1,887.6 L756.3,886.2 L761.5,884.9 L766.6,883.5 L771.8,882.1 L777.0,880.7 L782.1,879.3 L787.3,878.0 L792.5,876.6 L797.7,875.2 L802.8,873.8 L808.0,872.5 L813.2,871.1 L818.3,869.7 L823.5,868.3 L828.7,867.0 L833.8,865.6 L839.0,864.2 L844.2,862.8 L849.4,861.5 L854.5,860.1 L859.7,858.7 L864.9,857.3 L870.0,855.9 L875.2,854.6 L880.4,853.2 L885.5,851.8 L890.7,850.4 L895.9,849.1 L901.1,847.7 L906.2,846.3 L911.4,844.9 L916.6,843.6 L921.7,842.2 L926.9,840.8" fill="none" stroke="#0000ff" stroke-width="1.5"/>
<path d="M104.9,1109.0 L110.1,1107.1 L115.2,1105.2 L120.4,1103.3 L125.6,1101.4 L130.7,1099.5 L135.9,1097.6 L141.1,1095.8 L146.3,1093.9 L151.4,1092.0 L156.6,1090.2 L161.8,1088.3 L166.9,1086.4 L172.1,1084.6 L177.3,1082.8 L182.4,1080.9 L187.6,1079.1 L192.8,1077.3 L198.0,1075.5 L203.1,1073.7 L208.3,1071.9 L213.5,1070.1 L218.6,1068.3 L223.8,1066.5 L229.0,1064.8 L234.1,1063.0 L239.3,1061.3 L244.5,1059.5 L249.7,1057.8 L254.8,1056.1 L260.0,1054.4 L265.2,1052.7 L270.3,1051.0 L275.5,1049.3 L280.7,1047.7 L285.8,1046.0 L291.0,1044.4 L296.2,1042.8 L301.4,1041.2 L306.5,1039.5 L311.7,1038.0 L316.9,1036.4 L322.0,1034.8 L327.2,1033.3 L332.4,1031.7 L337.5,1030.2 L342.7,1028.7 L347.9,1027.2 L353.1,1025.7 L358.2,1024.3 L363.4,1022.8 L368.6,1021.4 L373.7,1020.0 L378.9,1018.6 L384.1,1017.2 L389.2,1015.8 L394.4,1014.5 L399.6,1013.1 L404.7,1011.8 L409.9,1010.5 L415.1,1009.2 L420.3,1007.9 L425.4,1006.7 L430.6,1005.4 L435.8,1004.2 L440.9,1002.9 L446.1,1001.7 L451.3,1000.5 L456.4,999.3 L461.6,998.2 L466.8,997.0 L472.0,995.9 L477.1,994.8 L482.3,993.6 L487.5,992.5 L492.6,991.4 L497.8,990.3 L503.0,989.3 L508.1,988.2 L513.3,987.2 L518.5,986.1 L523.7,985.1 L528.8,984.1 L534.0,983.1 L539.2,982.1 L544.3,981.1 L549.5,980.1 L554.7,979.1 L559.8,978.1 L565.0,977.2 L570.2,976.2 L575.4,975.3 L580.5,974.3 L585.7,973.4 L590.9,972.5 L596.0,971.6 L601.2,970.7 L606.4,969.8 L611.5,968.9 L616.7,968.0 L621.9,967.1 L627.1,966.2 L632.2,965.3 L637.4,964.4 L642.6,963.6 L647.7,962.7 L652.9,961.8 L658.1,961.0 L663.2,960.1 L668.4,959.3 L673.6,958.5 L678.7,957.6 L683.9,956.8 L689.1,956.0 L694.3,955.1 L699.4,954.3 L704.6,953.5 L709.8,952.7 L714.9,951.9 L720.1,951.0 L725.3,950.2 L730.4,949.4 L735.6,948.6 L740.8,947.8 L746.0,947.0 L751.1,946.2 L756.3,945.4 L761.5,944.7 L766.6,943.9 L771.8,943.1 L777.0,942.3 L782.1,941.5 L787.3,940.7 L792.5,940.0 L797.7,939.2 L802.8,938.4 L808.0,937.6 L813.2,936.9 L818.3,936.1 L823.5,935.3 L828.7,934.6 L833.8,933.8 L839.0,933.0 L844.2,932.3 L849.4,931.5 L854.5,930.8 L859.7,930.0 L864.9,929.3 L870.0,928.5 L875.2,927.8 L880.4,927.0 L885.5,926.3 L890.7,925.5 L895.9,924.8 L901.1,924.0 L906.2,923.3 L911.4,922.5 L916.6,921.8 L921.7,921.0 L926.9,920.3" fill="none" stroke="#0000ff" stroke-width="1.5"/>
<path d="M104.8,1051.4 L107.5,1050.5 L110.3,1049.0 L113.0,1047.3 L115.8,1045.2 L118.5,1042.4 L121.3,1038.3 L124.0,1032.9 L126.8,1027.9 L129.5,1023.3 L132.3,1019.1 L135.0,1015.0 L137.8,1010.8 L140.5,1006.6 L143.3,1002.8 L146.0,999.2 L148.8,995.8 L151.5,992.5 L154.3,989.2 L157.0,985.9 L159.8,982.6 L162.5,979.2 L165.3,976.1 L168.0,973.0 L170.8,970.2 L173.5,967.6 L176.3,965.2 L179.0,962.9 L181.7,960.7 L184.5,958.6 L187.2,956.7 L190.0,954.9 L192.7,953.3 L195.5,951.9 L198.2,950.7 L201.0,949.6 L203.7,948.8 L206.5,948.0 L209.2,947.3 L212.0,946.5 L214.7,945.7 L217.5,944.9 L220.2,944.1 L223.0,943.4 L225.7,942.8 L228.5,942.1 L231.2,941.5 L234.0,940.9 L236.7,940.3 L239.5,939.7 L242.2,939.1 L245.0,938.5 L247.7,937.9 L250.5,937.4 L253.2,937.0 L255.9,936.5 L258.7,936.1 L261.4,935.7 L264.2,935.4 L266.9,935.0 L269.7,934.6 L272.4,934.3 L275.2,933.9 L277.9,933.6 L280.7,933.3 L283.4,932.9 L286.2,932.6 L288.9,932.3 L291.7,932.0 L294.4,931.7 L297.2,931.4 L299.9,931.1 L302.7,930.8 L305.4,930.4 L308.2,930.1 L310.9,929.8 L313.7,929.5 L316.4,929.2 L319.2,928.9 L321.9,928.6 L324.7,928.3 L327.4,927.9 L330.1,927.6 L332.9,927.3 L335.6,927.0 L338.4,926.6 L341.1,926.3 L343.9,926.0 L346.6,925.7 L349.4,925.4 L352.1,925.1 L354.9,924.8 L357.6,924.5 L360.4,924.2 L363.1,923.9 L365.9,923.6 L368.6,923.3 L371.4,923.0 L374.1,922.7 L376.9,922.4 L379.6,922.2 L382.4,921.9 L385.1,921.7 L387.9,921.4 L390.6,921.2 L393.4,921.0 L396.1,920.8 L398.9,920.6 L401.6,920.4 L404.3,920.2 L407.1,919.9 L409.8,919.7 L412.6,919.5 L415.3,919.4 L418.1,919.2 L420.8,919.0 L423.6,918.8 L426.3,918.6 L429.1,918.5 L431.8,918.3 L434.6,918.2 L437.3,918.0 L440.1,917.9 L442.8,917.8 L445.6,917.7 L448.3,917.6 L451.1,917.5 L453.8,917.4 L456.6,917.3 L459.3,917.2 L462.1,917.1 L464.8,917.0 L467.6,916.9 L470.3,916.9 L473.1,916.8 L475.8,916.7 L478.5,916.6 L481.3,916.5 L484.0,916.5 L486.8,916.4 L489.5,916.3 L492.3,916.3 L495.0,916.2 L497.8,916.1 L500.5,916.1 L503.3,916.0 L506.0,915.9 L508.8,915.9 L511.5,915.8 L514.3,915.8 L517.0,915.7 L519.8,915.7 L522.5,915.6 L525.3,915.6 L528.0,915.5 L530.8,915.5 L533.5,915.5 L536.3,915.4 L539.0,915.4 L541.8,915.4 L544.5,915.3 L547.3,915.3 L550.0,915.3 L552.8,915.3 L555.5,915.3 L558.2,915.2 L561.0,915.2 L563.7,915.2 L566.5,915.2 L569.2,915.2 L572.0,915.1 L574.7,915.1 L577.5,915.1 L580.2,915.1 L583.0,915.1 L585.7,915.1 L588.5,915.0 L591.2,915.0 L594.0,915.0 L596.7,915.0 L599.5,915.0 L602.2,915.0 L605.0,914.9 L607.7,914.9 L610.5,914.9 L613.2,914.9 L616.0,914.9 L618.7,914.9 L621.5,914.9 L624.2,914.9 L627.0,914.8 L629.7,914.8 L632.4,914.8 L635.2,914.8 L637.9,914.8 L640.7,914.8 L643.4,914.8 L646.2,914.8 L648.9,914.8 L651.7,914.8 L654.4,914.8 L657.2,914.7 L659.9,914.7 L662.7,914.7 L665.4,914.7 L668.2,914.7 L670.9,914.7 L673.7,914.7 L676.4,914.7 L679.2,914.7 L681.9,914.7 L684.7,914.7 L687.4,914.7 L690.2,914.7 L692.9,914.7 L695.7,914.7 L698.4,914.7 L701.2,914.7 L703.9,914.7 L706.6,914.7 L709.4,914.7 L712.1,914.7 L714.9,914.7 L717.6,914.6 L720.4,914.6 L723.1,914.6 L725.9,914.6 L728.6,914.6 L731.4,914.6 L734.1,914.6 L736.9,914.6 L739.6,914.6 L742.4,914.6 L745.1,914.6 L747.9,914.6 L750.6,914.6 L753.4,914.6 L756.1,914.6 L758.9,914.6 L761.6,914.6 L764.4,914.6 L767.1,914.6 L769.9,914.6 L772.6,914.6 L775.4,914.6 L778.1,914.6 L780.8,914.6 L783.6,914.6 L786.3,914.6 L789.1,914.6 L791.8,914.6 L794.6,914.6 L797.3,914.6 L800.1,914.6 L802.8,914.6 L805.6,914.6 L808.3,914.5 L811.1,914.5 L813.8,914.5 L816.6,914.5 L819.3,914.5 L822.1,914.5 L824.8,914.5 L827.6,914.5 L830.3,914.5 L833.1,914.5 L835.8,914.5 L838.6,914.5 L841.3,914.5 L844.1,914.5 L846.8,914.5 L849.6,914.5 L852.3,914.5 L855.0,914.5 L857.8,914.5 L860.5,914.5 L863.3,914.5 L866.0,914.5 L868.8,914.5 L871.5,914.5 L874.3,914.5 L877.0,914.5 L879.8,914.5 L882.5,914.5 L885.3,914.5 L888.0,914.5 L890.8,914.5 L893.5,914.5 L896.3,914.5 L899.0,914.5 L901.8,914.5 L904.5,914.5 L907.3,914.5 L910.0,914.5 L912.8,914.5 L915.5,914.5 L918.3,914.5 L921.0,914.5 L923.8,914.5 L926.5,914.5 L926.5,1000.7 L923.8,1000.7 L921.0,1000.7 L918.3,1000.7 L915.5,1000.7 L912.8,1000.7 L910.0,1000.7 L907.3,1000.7 L904.5,1000.7 L901.8,1000.7 L899.0,1000.7 L896.3,1000.7 L893.5,1000.7 L890.8,1000.7 L888.0,1000.7 L885.3,1000.7 L882.5,1000.7 L879.8,1000.7 L877.0,1000.7 L874.3,1000.7 L871.5,1000.7 L868.8,1000.7 L866.0,1000.7 L863.3,1000.7 L860.5,1000.7 L857.8,1000.7 L855.0,1000.7 L852.3,1000.7 L849.6,1000.7 L846.8,1000.7 L844.1,1000.7 L841.3,1000.7 L838.6,1000.7 L835.8,1000.7 L833.1,1000.7 L830.3,1000.7 L827.6,1000.7 L824.8,1000.7 L822.1,1000.7 L819.3,1000.7 L816.6,1000.7 L813.8,1000.7 L811.1,1000.7 L808.3,1000.7 L805.6,1000.7 L802.8,1000.7 L800.1,1000.7 L797.3,1000.7 L794.6,1000.7 L791.8,1000.7 L789.1,1000.7 L786.3,1000.7 L783.6,1000.7 L780.8,1000.7 L778.1,1000.7 L775.4,1000.7 L772.6,1000.7 L769.9,1000.7 L767.1,1000.7 L764.4,1000.7 L761.6,1000.7 L758.9,1000.7 L756.1,1000.7 L753.4,1000.7 L750.6,1000.7 L747.9,1000.6 L745.1,1000.6 L742.4,1000.6 L739.6,1000.6 L736.9,1000.6 L734.1,1000.6 L731.4,1000.6 L728.6,1000.6 L725.9,1000.6 L723.1,1000.6 L720.4,1000.6 L717.6,1000.6 L714.9,1000.6 L712.1,1000.6 L709.4,1000.6 L706.6,1000.6 L703.9,1000.6 L701.2,1000.6 L698.4,1000.6 L695.7,1000.6 L692.9,1000.6 L690.2,1000.6 L687.4,1000.6 L684.7,1000.6 L681.9,1000.6 L679.2,1000.6 L676.4,1000.6 L673.7,1000.6 L670.9,1000.6 L668.2,1000.6 L665.4,1000.6 L662.7,1000.6 L659.9,1000.5 L657.2,1000.5 L654.4,1000.5 L651.7,1000.5 L648.9,1000.5 L646.2,1000.5 L643.4,1000.5 L640.7,1000.4 L637.9,1000.4 L635.2,1000.4 L632.4,1000.4 L629.7,1000.4 L627.0,1000.3 L624.2,1000.3 L621.5,1000.3 L618.7,1000.3 L616.0,1000.2 L613.2,1000.2 L610.5,1000.2 L607.7,1000.2 L605.0,1000.1 L602.2,1000.1 L599.5,1000.1 L596.7,1000.0 L594.0,1000.0 L591.2,1000.0 L588.5,1000.0 L585.7,999.9 L583.0,999.9 L580.2,999.9 L577.5,999.8 L574.7,999.8 L572.0,999.8 L569.2,999.7 L566.5,999.7 L563.7,999.7 L561.0,999.6 L558.2,999.6 L555.5,999.6 L552.8,999.5 L550.0,999.5 L547.3,999.5 L544.5,999.4 L541.8,999.4 L539.0,999.3 L536.3,999.3 L533.5,999.2 L530.8,999.2 L528.0,999.1 L525.3,999.0 L522.5,999.0 L519.8,998.9 L517.0,998.8 L514.3,998.7 L511.5,998.7 L508.8,998.6 L506.0,998.5 L503.3,998.4 L500.5,998.4 L497.8,998.3 L495.0,998.2 L492.3,998.1 L489.5,998.1 L486.8,998.0 L484.0,997.9 L481.3,997.9 L478.5,997.8 L475.8,997.8 L473.1,997.7 L470.3,997.7 L467.6,997.6 L464.8,997.6 L462.1,997.6 L459.3,997.5 L456.6,997.5 L453.8,997.5 L451.1,997.5 L448.3,997.5 L445.6,997.5 L442.8,997.5 L440.1,997.5 L437.3,997.5 L434.6,997.5 L431.8,997.5 L429.1,997.5 L426.3,997.6 L423.6,997.6 L420.8,997.6 L418.1,997.6 L415.3,997.6 L412.6,997.6 L409.8,997.7 L407.1,997.7 L404.3,997.7 L401.6,997.7 L398.9,997.7 L396.1,997.8 L393.4,997.8 L390.6,997.8 L387.9,997.9 L385.1,997.9 L382.4,997.9 L379.6,997.9 L376.9,998.0 L374.1,998.0 L371.4,998.0 L368.6,998.1 L365.9,998.1 L363.1,998.1 L360.4,998.2 L357.6,998.2 L354.9,998.2 L352.1,998.3 L349.4,998.3 L346.6,998.3 L343.9,998.4 L341.1,998.4 L338.4,998.5 L335.6,998.5 L332.9,998.5 L330.1,998.6 L327.4,998.6 L324.7,998.7 L321.9,998.8 L319.2,998.8 L316.4,998.9 L313.7,999.0 L310.9,999.1 L308.2,999.2 L305.4,999.3 L302.7,999.4 L299.9,999.5 L297.2,999.7 L294.4,999.9 L291.7,1000.3 L288.9,1000.8 L286.2,1001.3 L283.4,1001.8 L280.7,1002.4 L277.9,1003.0 L275.2,1003.7 L272.4,1004.4 L269.7,1005.2 L266.9,1006.1 L264.2,1007.1 L261.4,1008.1 L258.7,1009.2 L255.9,1010.3 L253.2,1011.4 L250.5,1012.6 L247.7,1013.9 L245.0,1015.2 L242.2,1016.6 L239.5,1018.2 L236.7,1019.8 L234.0,1021.5 L231.2,1023.2 L228.5,1024.7 L225.7,1026.3 L223.0,1027.9 L220.2,1029.6 L217.5,1031.4 L214.7,1033.4 L212.0,1035.4 L209.2,1037.6 L206.5,1039.8 L203.7,1042.1 L201.0,1044.3 L198.2,1046.6 L195.5,1049.0 L192.7,1051.4 L190.0,1054.0 L187.2,1056.6 L184.5,1059.4 L181.7,1062.2 L179.0,1065.0 L176.3,1067.6 L173.5,1070.3 L170.8,1072.9 L168.0,1075.7 L165.3,1078.5 L162.5,1081.3 L159.8,1084.3 L157.0,1087.5 L154.3,1091.1 L151.5,1095.6 L148.8,1099.7 L146.0,1103.5 L143.3,1107.4 L140.5,1111.5 L137.8,1116.1 L135.0,1121.5 L132.3,1127.0 L129.5,1132.5 L126.8,1137.9 L124.0,1144.6 L121.3,1153.1 L118.5,1160.0 L115.8,1168.4 L113.0,1180.0 L110.3,1193.5 L107.5,1207.1 L104.8,1219.3 Z" fill="#aa0000" fill-opacity="0.2" stroke="none"/>
<path d="M104.8,1051.4 L107.5,1050.5 L110.3,1049.0 L113.0,1047.3 L115.8,1045.2 L118.5,1042.4 L121.3,1038.3 L124.0,1032.9 L126.8,1027.9 L129.5,1023.3 L132.3,1019.1 L135.0,1015.0 L137.8,1010.8 L140.5,1006.6 L143.3,1002.8 L146.0,999.2 L148.8,995.8 L151.5,992.5 L154.3,989.2 L157.0,985.9 L159.8,982.6 L162.5,979.2 L165.3,976.1 L168.0,973.0 L170.8,970.2 L173.5,967.6 L176.3,965.2 L179.0,962.9 L181.7,960.7 L184.5,958.6 L187.2,956.7 L190.0,954.9 L192.7,953.3 L195.5,951.9 L198.2,950.7 L201.0,949.6 L203.7,948.8 L206.5,948.0 L209.2,947.3 L212.0,946.5 L214.7,945.7 L217.5,944.9 L220.2,944.1 L223.0,943.4 L225.7,942.8 L228.5,942.1 L231.2,941.5 L234.0,940.9 L236.7,940.3 L239.5,939.7 L242.2,939.1 L245.0,938.5 L247.7,937.9 L250.5,937.4 L253.2,937.0 L255.9,936.5 L258.7,936.1 L261.4,935.7 L264.2,935.4 L266.9,935.0 L269.7,934.6 L272.4,934.3 L275.2,933.9 L277.9,933.6 L280.7,933.3 L283.4,932.9 L286.2,932.6 L288.9,932.3 L291.7,932.0 L294.4,931.7 L297.2,931.4 L299.9,931.1 L302.7,930.8 L305.4,930.4 L308.2,930.1 L310.9,929.8 L313.7,929.5 L316.4,929.2 L319.2,928.9 L321.9,928.6 L324.7,928.3 L327.4,927.9 L330.1,927.6 L332.9,927.3 L335.6,927.0 L338.4,926.6 L341.1,926.3 L343.9,926.0 L346.6,925.7 L349.4,925.4 L352.1,925.1 L354.9,924.8 L357.6,924.5 L360.4,924.2 L363.1,923.9 L365.9,923.6 L368.6,923.3 L371.4,923.0 L374.1,922.7 L376.9,922.4 L379.6,922.2 L382.4,921.9 L385.1,921.7 L387.9,921.4 L390.6,921.2 L393.4,921.0 L396.1,920.8 L398.9,920.6 L401.6,920.4 L404.3,920.2 L407.1,919.9 L409.8,919.7 L412.6,919.5 L415.3,919.4 L418.1,919.2 L420.8,919.0 L423.6,918.8 L426.3,918.6 L429.1,918.5 L431.8,918.3 L434.6,918.2 L437.3,918.0 L440.1,917.9 L442.8,917.8 L445.6,917.7 L448.3,917.6 L451.1,917.5 L453.8,917.4 L456.6,917.3 L459.3,917.2 L462.1,917.1 L464.8,917.0 L467.6,916.9 L470.3,916.9 L473.1,916.8 L475.8,916.7 L478.5,916.6 L481.3,916.5 L484.0,916.5 L486.8,916.4 L489.5,916.3 L492.3,916.3 L495.0,916.2 L497.8,916.1 L500.5,916.1 L503.3,916.0 L506.0,915.9 L508.8,915.9 L511.5,915.8 L514.3,915.8 L517.0,915.7 L519.8,915.7 L522.5,915.6 L525.3,915.6 L528.0,915.5 L530.8,915.5 L533.5,915.5 L536.3,915.4 L539.0,915.4 L541.8,915.4 L544.5,915.3 L547.3,915.3 L550.0,915.3 L552.8,915.3 L555.5,915.3 L558.2,915.2 L561.0,915.2 L563.7,915.2 L566.5,915.2 L569.2,915.2 L572.0,915.1 L574.7,915.1 L577.5,915.1 L580.2,915.1 L583.0,915.1 L585.7,915.1 L588.5,915.0 L591.2,915.0 L594.0,915.0 L596.7,915.0 L599.5,915.0 L602.2,915.0 L605.0,914.9 L607.7,914.9 L610.5,914.9 L613.2,914.9 L616.0,914.9 L618.7,914.9 L621.5,914.9 L624.2,914.9 L627.0,914.8 L629.7,914.8 L632.4,914.8 L635.2,914.8 L637.9,914.8 L640.7,914.8 L643.4,914.8 L646.2,914.8 L648.9,914.8 L651.7,914.8 L654.4,914.8 L657.2,914.7 L659.9,914.7 L662.7,914.7 L665.4,914.7 L668.2,914.7 L670.9,914.7 L673.7,914.7 L676.4,914.7 L679.2,914.7 L681.9,914.7 L684.7,914.7 L687.4,914.7 L690.2,914.7 L692.9,914.7 L695.7,914.7 L698.4,914.7 L701.2,914.7 L703.9,914.7 L706.6,914.7 L709.4,914.7 L712.1,914.7 L714.9,914.7 L717.6,914.6 L720.4,914.6 L723.1,914.6 L725.9,914.6 L728.6,914.6 L731.4,914.6 L734.1,914.6 L736.9,914.6 L739.6,914.6 L742.4,914.6 L745.1,914.6 L747.9,914.6 L750.6,914.6 L753.4,914.6 L756.1,914.6 L758.9,914.6 L761.6,914.6 L764.4,914.6 L767.1,914.6 L769.9,914.6 L772.6,914.6 L775.4,914.6 L778.1,914.6 L780.8,914.6 L783.6,914.6 L786.3,914.6 L789.1,914.6 L791.8,914.6 L794.6,914.6 L797.3,914.6 L800.1,914.6 L802.8,914.6 L805.6,914.6 L808.3,914.5 L811.1,914.5 L813.8,914.5 L816.6,914.5 L819.3,914.5 L822.1,914.5 L824.8,914.5 L827.6,914.5 L830.3,914.5 L833.1,914.5 L835.8,914.5 L838.6,914.5 L841.3,914.5 L844.1,914.5 L846.8,914.5 L849.6,914.5 L852.3,914.5 L855.0,914.5 L857.8,914.5 L860.5,914.5 L863.3,914.5 L866.0,914.5 L868.8,914.5 L871.5,914.5 L874.3,914.5 L877.0,914.5 L879.8,914.5 L882.5,914.5 L885.3,914.5 L888.0,914.5 L890.8,914.5 L893.5,914.5 L896.3,914.5 L899.0,914.5 L901.8,914.5 L904.5,914.5 L907.3,914.5 L910.0,914.5 L912.8,914.5 L915.5,914.5 L918.3,914.5 L921.0,914.5 L923.8,914.5 L926.5,914.5" fill="none" stroke="#b30000" stroke-width="1.5"/>
<path d="M104.8,1135.0 L107.5,1129.4 L110.3,1123.3 L113.0,1116.7 L115.8,1109.8 L118.5,1102.9 L121.3,1095.9 L124.0,1089.3 L126.8,1083.6 L129.5,1078.3 L132.3,1073.2 L135.0,1068.3 L137.8,1063.4 L140.5,1058.8 L143.3,1054.0 L146.0,1048.6 L148.8,1044.1 L151.5,1040.8 L154.3,1038.0 L157.0,1035.2 L159.8,1032.2 L162.5,1029.1 L165.3,1026.3 L168.0,1023.9 L170.8,1021.5 L173.5,1019.0 L176.3,1016.5 L179.0,1013.8 L181.7,1010.9 L184.5,1008.3 L187.2,1005.7 L190.0,1003.6 L192.7,1001.9 L195.5,1000.3 L198.2,998.6 L201.0,996.9 L203.7,995.2 L206.5,993.7 L209.2,992.3 L212.0,990.9 L214.7,989.5 L217.5,988.2 L220.2,987.0 L223.0,985.7 L225.7,984.6 L228.5,983.5 L231.2,982.4 L234.0,981.4 L236.7,980.4 L239.5,979.4 L242.2,978.4 L245.0,977.5 L247.7,976.5 L250.5,975.6 L253.2,974.8 L255.9,974.0 L258.7,973.2 L261.4,972.5 L264.2,971.8 L266.9,971.1 L269.7,970.6 L272.4,970.0 L275.2,969.5 L277.9,969.0 L280.7,968.5 L283.4,968.1 L286.2,967.6 L288.9,967.2 L291.7,966.8 L294.4,966.4 L297.2,966.0 L299.9,965.7 L302.7,965.3 L305.4,965.0 L308.2,964.6 L310.9,964.3 L313.7,964.0 L316.4,963.8 L319.2,963.5 L321.9,963.2 L324.7,963.0 L327.4,962.7 L330.1,962.5 L332.9,962.3 L335.6,962.1 L338.4,961.9 L341.1,961.7 L343.9,961.5 L346.6,961.3 L349.4,961.1 L352.1,961.0 L354.9,960.8 L357.6,960.7 L360.4,960.6 L363.1,960.5 L365.9,960.4 L368.6,960.2 L371.4,960.1 L374.1,960.0 L376.9,959.9 L379.6,959.8 L382.4,959.8 L385.1,959.7 L387.9,959.6 L390.6,959.5 L393.4,959.4 L396.1,959.4 L398.9,959.3 L401.6,959.2 L404.3,959.1 L407.1,959.0 L409.8,959.0 L412.6,958.9 L415.3,958.8 L418.1,958.7 L420.8,958.7 L423.6,958.6 L426.3,958.5 L429.1,958.5 L431.8,958.4 L434.6,958.4 L437.3,958.3 L440.1,958.3 L442.8,958.3 L445.6,958.2 L448.3,958.2 L451.1,958.2 L453.8,958.2 L456.6,958.2 L459.3,958.2 L462.1,958.1 L464.8,958.1 L467.6,958.1 L470.3,958.1 L473.1,958.1 L475.8,958.1 L478.5,958.1 L481.3,958.1 L484.0,958.1 L486.8,958.0 L489.5,958.0 L492.3,958.0 L495.0,958.0 L497.8,958.0 L500.5,958.0 L503.3,958.0 L506.0,958.0 L508.8,958.0 L511.5,958.0 L514.3,957.9 L517.0,957.9 L519.8,957.9 L522.5,957.9 L525.3,957.9 L528.0,957.9 L530.8,957.9 L533.5,957.9 L536.3,957.9 L539.0,957.9 L541.8,957.9 L544.5,957.9 L547.3,957.9 L550.0,957.8 L552.8,957.8 L555.5,957.8 L558.2,957.8 L561.0,957.8 L563.7,957.8 L566.5,957.8 L569.2,957.8 L572.0,957.8 L574.7,957.8 L577.5,957.8 L580.2,957.8 L583.0,957.8 L585.7,957.8 L588.5,957.8 L591.2,957.8 L594.0,957.8 L596.7,957.8 L599.5,957.8 L602.2,957.8 L605.0,957.7 L607.7,957.7 L610.5,957.7 L613.2,957.7 L616.0,957.7 L618.7,957.7 L621.5,957.7 L624.2,957.7 L627.0,957.7 L629.7,957.7 L632.4,957.7 L635.2,957.7 L637.9,957.7 L640.7,957.7 L643.4,957.7 L646.2,957.7 L648.9,957.7 L651.7,957.7 L654.4,957.7 L657.2,957.7 L659.9,957.7 L662.7,957.7 L665.4,957.7 L668.2,957.7 L670.9,957.7 L673.7,957.7 L676.4,957.7 L679.2,957.7 L681.9,957.7 L684.7,957.7 L687.4,957.7 L690.2,957.7 L692.9,957.7 L695.7,957.7 L698.4,957.7 L701.2,957.7 L703.9,957.7 L706.6,957.7 L709.4,957.7 L712.1,957.7 L714.9,957.7 L717.6,957.7 L720.4,957.7 L723.1,957.7 L725.9,957.7 L728.6,957.7 L731.4,957.7 L734.1,957.7 L736.9,957.7 L739.6,957.7 L742.4,957.7 L745.1,957.7 L747.9,957.7 L750.6,957.7 L753.4,957.7 L756.1,957.7 L758.9,957.7 L761.6,957.7 L764.4,957.7 L767.1,957.7 L769.9,957.7 L772.6,957.7 L775.4,957.7 L778.1,957.7 L780.8,957.7 L783.6,957.7 L786.3,957.7 L789.1,957.7 L791.8,957.7 L794.6,957.7 L797.3,957.7 L800.1,957.7 L802.8,957.7 L805.6,957.7 L808.3,957.7 L811.1,957.7 L813.8,957.7 L816.6,957.7 L819.3,957.7 L822.1,957.7 L824.8,957.7 L827.6,957.7 L830.3,957.7 L833.1,957.7 L835.8,957.7 L838.6,957.7 L841.3,957.7 L844.1,957.7 L846.8,957.7 L849.6,957.7 L852.3,957.7 L855.0,957.7 L857.8,957.7 L860.5,957.7 L863.3,957.7 L866.0,957.7 L868.8,957.7 L871.5,957.7 L874.3,957.7 L877.0,957.7 L879.8,957.7 L882.5,957.7 L885.3,957.7 L888.0,957.7 L890.8,957.7 L893.5,957.7 L896.3,957.7 L899.0,957.7 L901.8,957.7 L904.5,957.7 L907.3,957.7 L910.0,957.7 L912.8,957.7 L915.5,957.7 L918.3,957.7 L921.0,957.7 L923.8,957.7 L926.5,957.7" fill="none" stroke="#b30000" stroke-width="1.5"/>
<path d="M104.8,1219.3 L107.5,1207.1 L110.3,1193.5 L113.0,1180.0 L115.8,1168.4 L118.5,1160.0 L121.3,1153.1 L124.0,1144.6 L126.8,1137.9 L129.5,1132.5 L132.3,1127.0 L135.0,1121.5 L137.8,1116.1 L140.5,1111.5 L143.3,1107.4 L146.0,1103.5 L148.8,1099.7 L151.5,1095.6 L154.3,1091.1 L157.0,1087.5 L159.8,1084.3 L162.5,1081.3 L165.3,1078.5 L168.0,1075.7 L170.8,1072.9 L173.5,1070.3 L176.3,1067.6 L179.0,1065.0 L181.7,1062.2 L184.5,1059.4 L187.2,1056.6 L190.0,1054.0 L192.7,1051.4 L195.5,1049.0 L198.2,1046.6 L201.0,1044.3 L203.7,1042.1 L206.5,1039.8 L209.2,1037.6 L212.0,1035.4 L214.7,1033.4 L217.5,1031.4 L220.2,1029.6 L223.0,1027.9 L225.7,1026.3 L228.5,1024.7 L231.2,1023.2 L234.0,1021.5 L236.7,1019.8 L239.5,1018.2 L242.2,1016.6 L245.0,1015.2 L247.7,1013.9 L250.5,1012.6 L253.2,1011.4 L255.9,1010.3 L258.7,1009.2 L261.4,1008.1 L264.2,1007.1 L266.9,1006.1 L269.7,1005.2 L272.4,1004.4 L275.2,1003.7 L277.9,1003.0 L280.7,1002.4 L283.4,1001.8 L286.2,1001.3 L288.9,1000.8 L291.7,1000.3 L294.4,999.9 L297.2,999.7 L299.9,999.5 L302.7,999.4 L305.4,999.3 L308.2,999.2 L310.9,999.1 L313.7,999.0 L316.4,998.9 L319.2,998.8 L321.9,998.8 L324.7,998.7 L327.4,998.6 L330.1,998.6 L332.9,998.5 L335.6,998.5 L338.4,998.5 L341.1,998.4 L343.9,998.4 L346.6,998.3 L349.4,998.3 L352.1,998.3 L354.9,998.2 L357.6,998.2 L360.4,998.2 L363.1,998.1 L365.9,998.1 L368.6,998.1 L371.4,998.0 L374.1,998.0 L376.9,998.0 L379.6,997.9 L382.4,997.9 L385.1,997.9 L387.9,997.9 L390.6,997.8 L393.4,997.8 L396.1,997.8 L398.9,997.7 L401.6,997.7 L404.3,997.7 L407.1,997.7 L409.8,997.7 L412.6,997.6 L415.3,997.6 L418.1,997.6 L420.8,997.6 L423.6,997.6 L426.3,997.6 L429.1,997.5 L431.8,997.5 L434.6,997.5 L437.3,997.5 L440.1,997.5 L442.8,997.5 L445.6,997.5 L448.3,997.5 L451.1,997.5 L453.8,997.5 L456.6,997.5 L459.3,997.5 L462.1,997.6 L464.8,997.6 L467.6,997.6 L470.3,997.7 L473.1,997.7 L475.8,997.8 L478.5,997.8 L481.3,997.9 L484.0,997.9 L486.8,998.0 L489.5,998.1 L492.3,998.1 L495.0,998.2 L497.8,998.3 L500.5,998.4 L503.3,998.4 L506.0,998.5 L508.8,998.6 L511.5,998.7 L514.3,998.7 L517.0,998.8 L519.8,998.9 L522.5,999.0 L525.3,999.0 L528.0,999.1 L530.8,999.2 L533.5,999.2 L536.3,999.3 L539.0,999.3 L541.8,999.4 L544.5,999.4 L547.3,999.5 L550.0,999.5 L552.8,999.5 L555.5,999.6 L558.2,999.6 L561.0,999.6 L563.7,999.7 L566.5,999.7 L569.2,999.7 L572.0,999.8 L574.7,999.8 L577.5,999.8 L580.2,999.9 L583.0,999.9 L585.7,999.9 L588.5,1000.0 L591.2,1000.0 L594.0,1000.0 L596.7,1000.0 L599.5,1000.1 L602.2,1000.1 L605.0,1000.1 L607.7,1000.2 L610.5,1000.2 L613.2,1000.2 L616.0,1000.2 L618.7,1000.3 L621.5,1000.3 L624.2,1000.3 L627.0,1000.3 L629.7,1000.4 L632.4,1000.4 L635.2,1000.4 L637.9,1000.4 L640.7,1000.4 L643.4,1000.5 L646.2,1000.5 L648.9,1000.5 L651.7,1000.5 L654.4,1000.5 L657.2,1000.5 L659.9,1000.5 L662.7,1000.6 L665.4,1000.6 L668.2,1000.6 L670.9,1000.6 L673.7,1000.6 L676.4,1000.6 L679.2,1000.6 L681.9,1000.6 L684.7,1000.6 L687.4,1000.6 L690.2,1000.6 L692.9,1000.6 L695.7,1000.6 L698.4,1000.6 L701.2,1000.6 L703.9,1000.6 L706.6,1000.6 L709.4,1000.6 L712.1,1000.6 L714.9,1000.6 L717.6,1000.6 L720.4,1000.6 L723.1,1000.6 L725.9,1000.6 L728.6,1000.6 L731.4,1000.6 L734.1,1000.6 L736.9,1000.6 L739.6,1000.6 L742.4,1000.6 L745.1,1000.6 L747.9,1000.6 L750.6,1000.7 L753.4,1000.7 L756.1,1000.7 L758.9,1000.7 L761.6,1000.7 L764.4,1000.7 L767.1,1000.7 L769.9,1000.7 L772.6,1000.7 L775.4,1000.7 L778.1,1000.7 L780.8,1000.7 L783.6,1000.7 L786.3,1000.7 L789.1,1000.7 L791.8,1000.7 L794.6,1000.7 L797.3,1000.7 L800.1,1000.7 L802.8,1000.7 L805.6,1000.7 L808.3,1000.7 L811.1,1000.7 L813.8,1000.7 L816.6,1000.7 L819.3,1000.7 L822.1,1000.7 L824.8,1000.7 L827.6,1000.7 L830.3,1000.7 L833.1,1000.7 L835.8,1000.7 L838.6,1000.7 L841.3,1000.7 L844.1,1000.7 L846.8,1000.7 L849.6,1000.7 L852.3,1000.7 L855.0,1000.7 L857.8,1000.7 L860.5,1000.7 L863.3,1000.7 L866.0,1000.7 L868.8,1000.7 L871.5,1000.7 L874.3,1000.7 L877.0,1000.7 L879.8,1000.7 L882.5,1000.7 L885.3,1000.7 L888.0,1000.7 L890.8,1000.7 L893.5,1000.7 L896.3,1000.7 L899.0,1000.7 L901.8,1000.7 L904.5,1000.7 L907.3,1000.7 L910.0,1000.7 L912.8,1000.7 L915.5,1000.7 L918.3,1000.7 L921.0,1000.7 L923.8,1000.7 L926.5,1000.7" fill="none" stroke="#b30000" stroke-width="1.5"/>
<line x1="88.4" y1="702.8" x2="88.4" y2="1236.3999999999999" stroke="#000" stroke-width="4.4"/>
<line x1="86.2" y1="1234.6" x2="943.7" y2="1234.6" stroke="#000" stroke-width="3.6"/>
<line x1="104.9" y1="1227.8" x2="104.9" y2="1234.6" stroke="#000" stroke-width="3"/>
<text x="104.9" y="1264.3" text-anchor="middle" class="tk">0</text>
<line x1="146.0" y1="1231.2" x2="146.0" y2="1234.6" stroke="#000" stroke-width="2.4"/>
<line x1="187.1" y1="1231.2" x2="187.1" y2="1234.6" stroke="#000" stroke-width="2.4"/>
<line x1="228.2" y1="1231.2" x2="228.2" y2="1234.6" stroke="#000" stroke-width="2.4"/>
<line x1="269.3" y1="1231.2" x2="269.3" y2="1234.6" stroke="#000" stroke-width="2.4"/>
<line x1="310.4" y1="1227.8" x2="310.4" y2="1234.6" stroke="#000" stroke-width="3"/>
<text x="310.4" y="1264.3" text-anchor="middle" class="tk">5</text>
<line x1="351.5" y1="1231.2" x2="351.5" y2="1234.6" stroke="#000" stroke-width="2.4"/>
<line x1="392.6" y1="1231.2" x2="392.6" y2="1234.6" stroke="#000" stroke-width="2.4"/>
<line x1="433.7" y1="1231.2" x2="433.7" y2="1234.6" stroke="#000" stroke-width="2.4"/>
<line x1="474.8" y1="1231.2" x2="474.8" y2="1234.6" stroke="#000" stroke-width="2.4"/>
<line x1="515.9" y1="1227.8" x2="515.9" y2="1234.6" stroke="#000" stroke-width="3"/>
<text x="515.9" y="1264.3" text-anchor="middle" class="tk">10</text>
<line x1="557.0" y1="1231.2" x2="557.0" y2="1234.6" stroke="#000" stroke-width="2.4"/>
<line x1="598.1" y1="1231.2" x2="598.1" y2="1234.6" stroke="#000" stroke-width="2.4"/>
<line x1="639.2" y1="1231.2" x2="639.2" y2="1234.6" stroke="#000" stroke-width="2.4"/>
<line x1="680.3" y1="1231.2" x2="680.3" y2="1234.6" stroke="#000" stroke-width="2.4"/>
<line x1="721.4" y1="1227.8" x2="721.4" y2="1234.6" stroke="#000" stroke-width="3"/>
<text x="721.4" y="1264.3" text-anchor="middle" class="tk">15</text>
<line x1="762.5" y1="1231.2" x2="762.5" y2="1234.6" stroke="#000" stroke-width="2.4"/>
<line x1="803.6" y1="1231.2" x2="803.6" y2="1234.6" stroke="#000" stroke-width="2.4"/>
<line x1="844.7" y1="1231.2" x2="844.7" y2="1234.6" stroke="#000" stroke-width="2.4"/>
<line x1="885.8" y1="1231.2" x2="885.8" y2="1234.6" stroke="#000" stroke-width="2.4"/>
<line x1="926.9" y1="1227.8" x2="926.9" y2="1234.6" stroke="#000" stroke-width="3"/>
<text x="926.9" y="1264.3" text-anchor="middle" class="tk">20</text>
<line x1="89.6" y1="1224.8" x2="94.4" y2="1224.8" stroke="#000" stroke-width="3.4"/>
<text x="82.4" y="1234.6" text-anchor="end" class="tk">0</text>
<line x1="89.6" y1="1194.6" x2="93.0" y2="1194.6" stroke="#000" stroke-width="2.6"/>
<line x1="89.6" y1="1164.5" x2="93.0" y2="1164.5" stroke="#000" stroke-width="2.6"/>
<line x1="89.6" y1="1134.3" x2="93.0" y2="1134.3" stroke="#000" stroke-width="2.6"/>
<line x1="89.6" y1="1104.1" x2="94.4" y2="1104.1" stroke="#000" stroke-width="3.4"/>
<text x="82.4" y="1113.9" text-anchor="end" class="tk">20</text>
<line x1="89.6" y1="1073.9" x2="93.0" y2="1073.9" stroke="#000" stroke-width="2.6"/>
<line x1="89.6" y1="1043.8" x2="93.0" y2="1043.8" stroke="#000" stroke-width="2.6"/>
<line x1="89.6" y1="1013.6" x2="93.0" y2="1013.6" stroke="#000" stroke-width="2.6"/>
<line x1="89.6" y1="983.4" x2="94.4" y2="983.4" stroke="#000" stroke-width="3.4"/>
<text x="82.4" y="993.2" text-anchor="end" class="tk">40</text>
<line x1="89.6" y1="953.2" x2="93.0" y2="953.2" stroke="#000" stroke-width="2.6"/>
<line x1="89.6" y1="923.0" x2="93.0" y2="923.0" stroke="#000" stroke-width="2.6"/>
<line x1="89.6" y1="892.9" x2="93.0" y2="892.9" stroke="#000" stroke-width="2.6"/>
<line x1="89.6" y1="862.7" x2="94.4" y2="862.7" stroke="#000" stroke-width="3.4"/>
<text x="82.4" y="872.5" text-anchor="end" class="tk">60</text>
<line x1="89.6" y1="832.5" x2="93.0" y2="832.5" stroke="#000" stroke-width="2.6"/>
<line x1="89.6" y1="802.3" x2="93.0" y2="802.3" stroke="#000" stroke-width="2.6"/>
<line x1="89.6" y1="772.2" x2="93.0" y2="772.2" stroke="#000" stroke-width="2.6"/>
<line x1="89.6" y1="742.0" x2="94.4" y2="742.0" stroke="#000" stroke-width="3.4"/>
<text x="82.4" y="751.8" text-anchor="end" class="tk">80</text>
<line x1="89.6" y1="711.8" x2="93.0" y2="711.8" stroke="#000" stroke-width="2.6"/>
<text x="507" y="1307.5" text-anchor="middle" class="lab">Time (days)</text>
<text transform="translate(27.0,981.2) rotate(-90)" text-anchor="middle" class="lab">AN Longest Dendrite (µm)</text>
<text x="6.8" y="694.5" class="let">B</text>
<circle cx="131.8" cy="1729.4" r="6.9" fill="#0000ff"/>
<circle cx="180.5" cy="1793.3" r="6.9" fill="#0000ff"/>
<circle cx="250.5" cy="1687.9" r="6.9" fill="#0000ff"/>
<circle cx="250.5" cy="1752.5" r="6.9" fill="#0000ff"/>
<circle cx="250.5" cy="1802.3" r="6.9" fill="#0000ff"/>
<circle cx="250.5" cy="1819.3" r="6.9" fill="#0000ff"/>
<circle cx="250.5" cy="1824.6" r="6.9" fill="#0000ff"/>
<circle cx="330.1" cy="1606.0" r="6.9" fill="#0000ff"/>
<circle cx="330.1" cy="1654.3" r="6.9" fill="#0000ff"/>
<circle cx="330.1" cy="1666.4" r="6.9" fill="#0000ff"/>
<circle cx="330.1" cy="1805.6" r="6.9" fill="#0000ff"/>
<circle cx="330.1" cy="1818.6" r="6.9" fill="#0000ff"/>
<circle cx="409.6" cy="1515.2" r="6.9" fill="#0000ff"/>
<circle cx="409.6" cy="1571.8" r="6.9" fill="#0000ff"/>
<circle cx="409.6" cy="1674.0" r="6.9" fill="#0000ff"/>
<circle cx="409.6" cy="1744.2" r="6.9" fill="#0000ff"/>
<circle cx="409.6" cy="1805.6" r="6.9" fill="#0000ff"/>
<circle cx="409.6" cy="1815.3" r="6.9" fill="#0000ff"/>
<circle cx="687.4" cy="1389.6" r="6.9" fill="#0000ff"/>
<circle cx="687.4" cy="1396.6" r="6.9" fill="#0000ff"/>
<circle cx="687.4" cy="1570.4" r="6.9" fill="#0000ff"/>
<circle cx="687.4" cy="1697.0" r="6.9" fill="#0000ff"/>
<circle cx="687.4" cy="1716.2" r="6.9" fill="#0000ff"/>
<circle cx="687.4" cy="1720.8" r="6.9" fill="#0000ff"/>
<circle cx="924.6" cy="1489.5" r="6.9" fill="#0000ff"/>
<circle cx="924.6" cy="1565.5" r="6.9" fill="#0000ff"/>
<circle cx="924.6" cy="1594.4" r="6.9" fill="#0000ff"/>
<circle cx="131.8" cy="1801.0" r="6.9" fill="#b30000"/>
<circle cx="131.8" cy="1813.4" r="6.9" fill="#b30000"/>
<circle cx="131.8" cy="1821.9" r="6.9" fill="#b30000"/>
<circle cx="180.5" cy="1690.0" r="6.9" fill="#b30000"/>
<circle cx="180.5" cy="1759.5" r="6.9" fill="#b30000"/>
<circle cx="180.5" cy="1802.9" r="6.9" fill="#b30000"/>
<circle cx="180.5" cy="1815.5" r="6.9" fill="#b30000"/>
<circle cx="250.5" cy="1591.3" r="6.9" fill="#b30000"/>
<circle cx="250.5" cy="1647.7" r="6.9" fill="#b30000"/>
<circle cx="250.5" cy="1670.0" r="6.9" fill="#b30000"/>
<circle cx="250.5" cy="1735.1" r="6.9" fill="#b30000"/>
<circle cx="330.1" cy="1650.0" r="6.9" fill="#b30000"/>
<circle cx="330.1" cy="1671.4" r="6.9" fill="#b30000"/>
<circle cx="330.1" cy="1675.7" r="6.9" fill="#b30000"/>
<circle cx="330.1" cy="1779.7" r="6.9" fill="#b30000"/>
<circle cx="409.6" cy="1591.6" r="6.9" fill="#b30000"/>
<circle cx="409.6" cy="1634.8" r="6.9" fill="#b30000"/>
<circle cx="409.6" cy="1720.5" r="6.9" fill="#b30000"/>
<circle cx="409.6" cy="1780.5" r="6.9" fill="#b30000"/>
<circle cx="924.6" cy="1583.0" r="6.9" fill="#b30000"/>
<circle cx="924.6" cy="1630.7" r="6.9" fill="#b30000"/>
<circle cx="924.6" cy="1658.4" r="6.9" fill="#b30000"/>
<circle cx="924.6" cy="1675.8" r="6.9" fill="#b30000"/>
<circle cx="924.6" cy="1716.2" r="6.9" fill="#b30000"/>
<circle cx="924.6" cy="1726.3" r="6.9" fill="#b30000"/>
<circle cx="924.6" cy="1778.2" r="6.9" fill="#b30000"/>
<circle cx="924.6" cy="1795.7" r="6.9" fill="#b30000"/>
<line x1="131.8" y1="1774.3" x2="131.8" y2="1804.0" stroke="#0000ff" stroke-width="2.6"/>
<line x1="127.3" y1="1774.3" x2="136.3" y2="1774.3" stroke="#0000ff" stroke-width="2.6"/>
<line x1="127.3" y1="1804.0" x2="136.3" y2="1804.0" stroke="#0000ff" stroke-width="2.6"/>
<line x1="250.5" y1="1753.0" x2="250.5" y2="1804.0" stroke="#0000ff" stroke-width="2.6"/>
<line x1="246.0" y1="1753.0" x2="255.0" y2="1753.0" stroke="#0000ff" stroke-width="2.6"/>
<line x1="246.0" y1="1804.0" x2="255.0" y2="1804.0" stroke="#0000ff" stroke-width="2.6"/>
<line x1="330.1" y1="1680.0" x2="330.1" y2="1740.8" stroke="#0000ff" stroke-width="2.6"/>
<line x1="325.6" y1="1680.0" x2="334.6" y2="1680.0" stroke="#0000ff" stroke-width="2.6"/>
<line x1="325.6" y1="1740.8" x2="334.6" y2="1740.8" stroke="#0000ff" stroke-width="2.6"/>
<line x1="409.6" y1="1650.0" x2="409.6" y2="1735.7" stroke="#0000ff" stroke-width="2.6"/>
<line x1="405.1" y1="1650.0" x2="414.1" y2="1650.0" stroke="#0000ff" stroke-width="2.6"/>
<line x1="405.1" y1="1735.7" x2="414.1" y2="1735.7" stroke="#0000ff" stroke-width="2.6"/>
<line x1="687.4" y1="1519.0" x2="687.4" y2="1647.5" stroke="#0000ff" stroke-width="2.6"/>
<line x1="682.9" y1="1519.0" x2="691.9" y2="1519.0" stroke="#0000ff" stroke-width="2.6"/>
<line x1="682.9" y1="1647.5" x2="691.9" y2="1647.5" stroke="#0000ff" stroke-width="2.6"/>
<line x1="924.6" y1="1519.0" x2="924.6" y2="1582.1" stroke="#0000ff" stroke-width="2.6"/>
<line x1="920.1" y1="1519.0" x2="929.1" y2="1519.0" stroke="#0000ff" stroke-width="2.6"/>
<line x1="920.1" y1="1582.1" x2="929.1" y2="1582.1" stroke="#0000ff" stroke-width="2.6"/>
<line x1="180.5" y1="1766.0" x2="180.5" y2="1794.0" stroke="#b30000" stroke-width="2.6"/>
<line x1="176.0" y1="1766.0" x2="185.0" y2="1766.0" stroke="#b30000" stroke-width="2.6"/>
<line x1="176.0" y1="1794.0" x2="185.0" y2="1794.0" stroke="#b30000" stroke-width="2.6"/>
<line x1="250.5" y1="1631.9" x2="250.5" y2="1690.0" stroke="#b30000" stroke-width="2.6"/>
<line x1="246.0" y1="1631.9" x2="255.0" y2="1631.9" stroke="#b30000" stroke-width="2.6"/>
<line x1="246.0" y1="1690.0" x2="255.0" y2="1690.0" stroke="#b30000" stroke-width="2.6"/>
<line x1="330.1" y1="1665.5" x2="330.1" y2="1724.7" stroke="#b30000" stroke-width="2.6"/>
<line x1="325.6" y1="1665.5" x2="334.6" y2="1665.5" stroke="#b30000" stroke-width="2.6"/>
<line x1="325.6" y1="1724.7" x2="334.6" y2="1724.7" stroke="#b30000" stroke-width="2.6"/>
<line x1="409.6" y1="1640.0" x2="409.6" y2="1723.2" stroke="#b30000" stroke-width="2.6"/>
<line x1="405.1" y1="1640.0" x2="414.1" y2="1640.0" stroke="#b30000" stroke-width="2.6"/>
<line x1="405.1" y1="1723.2" x2="414.1" y2="1723.2" stroke="#b30000" stroke-width="2.6"/>
<line x1="924.6" y1="1676.0" x2="924.6" y2="1715.0" stroke="#b30000" stroke-width="2.6"/>
<line x1="920.1" y1="1676.0" x2="929.1" y2="1676.0" stroke="#b30000" stroke-width="2.6"/>
<line x1="920.1" y1="1715.0" x2="929.1" y2="1715.0" stroke="#b30000" stroke-width="2.6"/>
<path d="M131.8,1789.2 L180.5,1775.0 L250.5,1778.6 L330.1,1710.3 L409.6,1694.0 L687.4,1581.9 L924.6,1548.8" fill="none" stroke="#0000ff" stroke-width="3" stroke-linejoin="round"/>
<circle cx="131.8" cy="1789.2" r="9.0" fill="#0000ff"/>
<circle cx="180.5" cy="1775.0" r="9.0" fill="#0000ff"/>
<circle cx="250.5" cy="1778.6" r="9.0" fill="#0000ff"/>
<circle cx="330.1" cy="1710.3" r="9.0" fill="#0000ff"/>
<circle cx="409.6" cy="1694.0" r="9.0" fill="#0000ff"/>
<circle cx="687.4" cy="1581.9" r="9.0" fill="#0000ff"/>
<circle cx="924.6" cy="1548.8" r="9.0" fill="#0000ff"/>
<path d="M131.8,1807.1 L180.5,1780.0 L250.5,1661.0 L330.1,1695.1 L409.6,1681.6 L687.4,1664.6 L924.6,1695.6" fill="none" stroke="#b30000" stroke-width="3" stroke-linejoin="round"/>
<circle cx="131.8" cy="1807.1" r="9.0" fill="#b30000"/>
<circle cx="180.5" cy="1780.0" r="9.0" fill="#b30000"/>
<circle cx="250.5" cy="1661.0" r="9.0" fill="#b30000"/>
<circle cx="330.1" cy="1695.1" r="9.0" fill="#b30000"/>
<circle cx="409.6" cy="1681.6" r="9.0" fill="#b30000"/>
<circle cx="687.4" cy="1664.6" r="9.0" fill="#b30000"/>
<circle cx="924.6" cy="1695.6" r="9.0" fill="#b30000"/>
<path d="M132.2,1748.4 L137.2,1747.1 L142.2,1745.9 L147.2,1744.6 L152.1,1743.3 L157.1,1742.1 L162.1,1740.8 L167.1,1739.5 L172.1,1738.2 L177.1,1736.9 L182.1,1735.6 L187.0,1734.3 L192.0,1733.0 L197.0,1731.7 L202.0,1730.3 L207.0,1729.0 L212.0,1727.7 L217.0,1726.3 L222.0,1725.0 L226.9,1723.6 L231.9,1722.3 L236.9,1720.9 L241.9,1719.5 L246.9,1718.1 L251.9,1716.7 L256.9,1715.3 L261.8,1713.9 L266.8,1712.5 L271.8,1711.1 L276.8,1709.6 L281.8,1708.2 L286.8,1706.7 L291.8,1705.3 L296.7,1703.8 L301.7,1702.3 L306.7,1700.8 L311.7,1699.3 L316.7,1697.8 L321.7,1696.3 L326.7,1694.7 L331.6,1693.2 L336.6,1691.6 L341.6,1690.1 L346.6,1688.5 L351.6,1686.9 L356.6,1685.3 L361.6,1683.7 L366.5,1682.0 L371.5,1680.4 L376.5,1678.7 L381.5,1677.0 L386.5,1675.4 L391.5,1673.7 L396.5,1672.0 L401.5,1670.2 L406.4,1668.5 L411.4,1666.7 L416.4,1665.0 L421.4,1663.2 L426.4,1661.4 L431.4,1659.6 L436.4,1657.8 L441.3,1656.0 L446.3,1654.2 L451.3,1652.3 L456.3,1650.4 L461.3,1648.6 L466.3,1646.7 L471.3,1644.8 L476.2,1642.9 L481.2,1641.0 L486.2,1639.0 L491.2,1637.1 L496.2,1635.2 L501.2,1633.2 L506.2,1631.2 L511.1,1629.2 L516.1,1627.3 L521.1,1625.3 L526.1,1623.2 L531.1,1621.2 L536.1,1619.2 L541.1,1617.2 L546.1,1615.1 L551.0,1613.1 L556.0,1611.0 L561.0,1609.0 L566.0,1606.9 L571.0,1604.8 L576.0,1602.7 L581.0,1600.6 L585.9,1598.5 L590.9,1596.4 L595.9,1594.3 L600.9,1592.2 L605.9,1590.1 L610.9,1587.9 L615.9,1585.8 L620.8,1583.7 L625.8,1581.5 L630.8,1579.4 L635.8,1577.2 L640.8,1575.1 L645.8,1572.9 L650.8,1570.7 L655.7,1568.6 L660.7,1566.4 L665.7,1564.2 L670.7,1562.0 L675.7,1559.8 L680.7,1557.6 L685.7,1555.4 L690.7,1553.2 L695.6,1551.0 L700.6,1548.8 L705.6,1546.6 L710.6,1544.4 L715.6,1542.2 L720.6,1540.0 L725.6,1537.8 L730.5,1535.5 L735.5,1533.3 L740.5,1531.1 L745.5,1528.8 L750.5,1526.6 L755.5,1524.4 L760.5,1522.1 L765.4,1519.9 L770.4,1517.7 L775.4,1515.4 L780.4,1513.2 L785.4,1510.9 L790.4,1508.7 L795.4,1506.4 L800.3,1504.2 L805.3,1501.9 L810.3,1499.7 L815.3,1497.4 L820.3,1495.1 L825.3,1492.9 L830.3,1490.6 L835.2,1488.3 L840.2,1486.1 L845.2,1483.8 L850.2,1481.5 L855.2,1479.3 L860.2,1477.0 L865.2,1474.7 L870.2,1472.4 L875.1,1470.2 L880.1,1467.9 L885.1,1465.6 L890.1,1463.3 L895.1,1461.1 L900.1,1458.8 L905.1,1456.5 L910.0,1454.2 L915.0,1451.9 L920.0,1449.6 L925.0,1447.4 L925.0,1592.6 L920.0,1593.8 L915.0,1595.0 L910.0,1596.1 L905.1,1597.3 L900.1,1598.4 L895.1,1599.6 L890.1,1600.7 L885.1,1601.9 L880.1,1603.1 L875.1,1604.2 L870.2,1605.4 L865.2,1606.5 L860.2,1607.7 L855.2,1608.9 L850.2,1610.0 L845.2,1611.2 L840.2,1612.4 L835.2,1613.6 L830.3,1614.7 L825.3,1615.9 L820.3,1617.1 L815.3,1618.3 L810.3,1619.4 L805.3,1620.6 L800.3,1621.8 L795.4,1623.0 L790.4,1624.2 L785.4,1625.4 L780.4,1626.6 L775.4,1627.8 L770.4,1629.0 L765.4,1630.1 L760.5,1631.3 L755.5,1632.5 L750.5,1633.8 L745.5,1635.0 L740.5,1636.2 L735.5,1637.4 L730.5,1638.6 L725.6,1639.8 L720.6,1641.0 L715.6,1642.2 L710.6,1643.5 L705.6,1644.7 L700.6,1645.9 L695.6,1647.2 L690.7,1648.4 L685.7,1649.6 L680.7,1650.9 L675.7,1652.1 L670.7,1653.4 L665.7,1654.6 L660.7,1655.9 L655.7,1657.2 L650.8,1658.4 L645.8,1659.7 L640.8,1661.0 L635.8,1662.2 L630.8,1663.5 L625.8,1664.8 L620.8,1666.1 L615.9,1667.4 L610.9,1668.7 L605.9,1670.0 L600.9,1671.3 L595.9,1672.7 L590.9,1674.0 L585.9,1675.3 L581.0,1676.7 L576.0,1678.0 L571.0,1679.4 L566.0,1680.7 L561.0,1682.1 L556.0,1683.5 L551.0,1684.8 L546.1,1686.2 L541.1,1687.6 L536.1,1689.0 L531.1,1690.4 L526.1,1691.9 L521.1,1693.3 L516.1,1694.7 L511.1,1696.2 L506.2,1697.7 L501.2,1699.1 L496.2,1700.6 L491.2,1702.1 L486.2,1703.6 L481.2,1705.1 L476.2,1706.6 L471.3,1708.2 L466.3,1709.7 L461.3,1711.3 L456.3,1712.8 L451.3,1714.4 L446.3,1716.0 L441.3,1717.6 L436.4,1719.2 L431.4,1720.8 L426.4,1722.5 L421.4,1724.1 L416.4,1725.8 L411.4,1727.5 L406.4,1729.2 L401.5,1730.9 L396.5,1732.6 L391.5,1734.3 L386.5,1736.1 L381.5,1737.8 L376.5,1739.6 L371.5,1741.4 L366.5,1743.2 L361.6,1745.0 L356.6,1746.8 L351.6,1748.6 L346.6,1750.4 L341.6,1752.3 L336.6,1754.2 L331.6,1756.0 L326.7,1757.9 L321.7,1759.8 L316.7,1761.7 L311.7,1763.7 L306.7,1765.6 L301.7,1767.6 L296.7,1769.5 L291.8,1771.5 L286.8,1773.4 L281.8,1775.4 L276.8,1777.4 L271.8,1779.4 L266.8,1781.4 L261.8,1783.5 L256.9,1785.5 L251.9,1787.5 L246.9,1789.6 L241.9,1791.6 L236.9,1793.7 L231.9,1795.8 L226.9,1797.8 L222.0,1799.9 L217.0,1802.0 L212.0,1804.1 L207.0,1806.2 L202.0,1808.3 L197.0,1810.4 L192.0,1812.6 L187.0,1814.7 L182.1,1816.8 L177.1,1818.9 L172.1,1821.1 L167.1,1823.2 L162.1,1825.4 L157.1,1827.5 L152.1,1829.7 L147.2,1831.9 L142.2,1834.0 L137.2,1836.2 L132.2,1838.4 Z" fill="#0000ff" fill-opacity="0.2" stroke="none"/>
<path d="M132.2,1748.4 L137.2,1747.1 L142.2,1745.9 L147.2,1744.6 L152.1,1743.3 L157.1,1742.1 L162.1,1740.8 L167.1,1739.5 L172.1,1738.2 L177.1,1736.9 L182.1,1735.6 L187.0,1734.3 L192.0,1733.0 L197.0,1731.7 L202.0,1730.3 L207.0,1729.0 L212.0,1727.7 L217.0,1726.3 L222.0,1725.0 L226.9,1723.6 L231.9,1722.3 L236.9,1720.9 L241.9,1719.5 L246.9,1718.1 L251.9,1716.7 L256.9,1715.3 L261.8,1713.9 L266.8,1712.5 L271.8,1711.1 L276.8,1709.6 L281.8,1708.2 L286.8,1706.7 L291.8,1705.3 L296.7,1703.8 L301.7,1702.3 L306.7,1700.8 L311.7,1699.3 L316.7,1697.8 L321.7,1696.3 L326.7,1694.7 L331.6,1693.2 L336.6,1691.6 L341.6,1690.1 L346.6,1688.5 L351.6,1686.9 L356.6,1685.3 L361.6,1683.7 L366.5,1682.0 L371.5,1680.4 L376.5,1678.7 L381.5,1677.0 L386.5,1675.4 L391.5,1673.7 L396.5,1672.0 L401.5,1670.2 L406.4,1668.5 L411.4,1666.7 L416.4,1665.0 L421.4,1663.2 L426.4,1661.4 L431.4,1659.6 L436.4,1657.8 L441.3,1656.0 L446.3,1654.2 L451.3,1652.3 L456.3,1650.4 L461.3,1648.6 L466.3,1646.7 L471.3,1644.8 L476.2,1642.9 L481.2,1641.0 L486.2,1639.0 L491.2,1637.1 L496.2,1635.2 L501.2,1633.2 L506.2,1631.2 L511.1,1629.2 L516.1,1627.3 L521.1,1625.3 L526.1,1623.2 L531.1,1621.2 L536.1,1619.2 L541.1,1617.2 L546.1,1615.1 L551.0,1613.1 L556.0,1611.0 L561.0,1609.0 L566.0,1606.9 L571.0,1604.8 L576.0,1602.7 L581.0,1600.6 L585.9,1598.5 L590.9,1596.4 L595.9,1594.3 L600.9,1592.2 L605.9,1590.1 L610.9,1587.9 L615.9,1585.8 L620.8,1583.7 L625.8,1581.5 L630.8,1579.4 L635.8,1577.2 L640.8,1575.1 L645.8,1572.9 L650.8,1570.7 L655.7,1568.6 L660.7,1566.4 L665.7,1564.2 L670.7,1562.0 L675.7,1559.8 L680.7,1557.6 L685.7,1555.4 L690.7,1553.2 L695.6,1551.0 L700.6,1548.8 L705.6,1546.6 L710.6,1544.4 L715.6,1542.2 L720.6,1540.0 L725.6,1537.8 L730.5,1535.5 L735.5,1533.3 L740.5,1531.1 L745.5,1528.8 L750.5,1526.6 L755.5,1524.4 L760.5,1522.1 L765.4,1519.9 L770.4,1517.7 L775.4,1515.4 L780.4,1513.2 L785.4,1510.9 L790.4,1508.7 L795.4,1506.4 L800.3,1504.2 L805.3,1501.9 L810.3,1499.7 L815.3,1497.4 L820.3,1495.1 L825.3,1492.9 L830.3,1490.6 L835.2,1488.3 L840.2,1486.1 L845.2,1483.8 L850.2,1481.5 L855.2,1479.3 L860.2,1477.0 L865.2,1474.7 L870.2,1472.4 L875.1,1470.2 L880.1,1467.9 L885.1,1465.6 L890.1,1463.3 L895.1,1461.1 L900.1,1458.8 L905.1,1456.5 L910.0,1454.2 L915.0,1451.9 L920.0,1449.6 L925.0,1447.4" fill="none" stroke="#0000ff" stroke-width="1.5"/>
<path d="M132.2,1793.4 L137.2,1791.7 L142.2,1790.0 L147.2,1788.2 L152.1,1786.5 L157.1,1784.8 L162.1,1783.1 L167.1,1781.4 L172.1,1779.6 L177.1,1777.9 L182.1,1776.2 L187.0,1774.5 L192.0,1772.8 L197.0,1771.0 L202.0,1769.3 L207.0,1767.6 L212.0,1765.9 L217.0,1764.2 L222.0,1762.4 L226.9,1760.7 L231.9,1759.0 L236.9,1757.3 L241.9,1755.6 L246.9,1753.9 L251.9,1752.1 L256.9,1750.4 L261.8,1748.7 L266.8,1747.0 L271.8,1745.3 L276.8,1743.5 L281.8,1741.8 L286.8,1740.1 L291.8,1738.4 L296.7,1736.7 L301.7,1734.9 L306.7,1733.2 L311.7,1731.5 L316.7,1729.8 L321.7,1728.1 L326.7,1726.3 L331.6,1724.6 L336.6,1722.9 L341.6,1721.2 L346.6,1719.5 L351.6,1717.7 L356.6,1716.0 L361.6,1714.3 L366.5,1712.6 L371.5,1710.9 L376.5,1709.1 L381.5,1707.4 L386.5,1705.7 L391.5,1704.0 L396.5,1702.3 L401.5,1700.5 L406.4,1698.8 L411.4,1697.1 L416.4,1695.4 L421.4,1693.7 L426.4,1691.9 L431.4,1690.2 L436.4,1688.5 L441.3,1686.8 L446.3,1685.1 L451.3,1683.4 L456.3,1681.6 L461.3,1679.9 L466.3,1678.2 L471.3,1676.5 L476.2,1674.8 L481.2,1673.0 L486.2,1671.3 L491.2,1669.6 L496.2,1667.9 L501.2,1666.2 L506.2,1664.4 L511.1,1662.7 L516.1,1661.0 L521.1,1659.3 L526.1,1657.6 L531.1,1655.8 L536.1,1654.1 L541.1,1652.4 L546.1,1650.7 L551.0,1649.0 L556.0,1647.2 L561.0,1645.5 L566.0,1643.8 L571.0,1642.1 L576.0,1640.4 L581.0,1638.6 L585.9,1636.9 L590.9,1635.2 L595.9,1633.5 L600.9,1631.8 L605.9,1630.0 L610.9,1628.3 L615.9,1626.6 L620.8,1624.9 L625.8,1623.2 L630.8,1621.5 L635.8,1619.7 L640.8,1618.0 L645.8,1616.3 L650.8,1614.6 L655.7,1612.9 L660.7,1611.1 L665.7,1609.4 L670.7,1607.7 L675.7,1606.0 L680.7,1604.3 L685.7,1602.5 L690.7,1600.8 L695.6,1599.1 L700.6,1597.4 L705.6,1595.7 L710.6,1593.9 L715.6,1592.2 L720.6,1590.5 L725.6,1588.8 L730.5,1587.1 L735.5,1585.3 L740.5,1583.6 L745.5,1581.9 L750.5,1580.2 L755.5,1578.5 L760.5,1576.7 L765.4,1575.0 L770.4,1573.3 L775.4,1571.6 L780.4,1569.9 L785.4,1568.1 L790.4,1566.4 L795.4,1564.7 L800.3,1563.0 L805.3,1561.3 L810.3,1559.5 L815.3,1557.8 L820.3,1556.1 L825.3,1554.4 L830.3,1552.7 L835.2,1551.0 L840.2,1549.2 L845.2,1547.5 L850.2,1545.8 L855.2,1544.1 L860.2,1542.4 L865.2,1540.6 L870.2,1538.9 L875.1,1537.2 L880.1,1535.5 L885.1,1533.8 L890.1,1532.0 L895.1,1530.3 L900.1,1528.6 L905.1,1526.9 L910.0,1525.2 L915.0,1523.4 L920.0,1521.7 L925.0,1520.0" fill="none" stroke="#0000ff" stroke-width="1.5"/>
<path d="M132.2,1838.4 L137.2,1836.2 L142.2,1834.0 L147.2,1831.9 L152.1,1829.7 L157.1,1827.5 L162.1,1825.4 L167.1,1823.2 L172.1,1821.1 L177.1,1818.9 L182.1,1816.8 L187.0,1814.7 L192.0,1812.6 L197.0,1810.4 L202.0,1808.3 L207.0,1806.2 L212.0,1804.1 L217.0,1802.0 L222.0,1799.9 L226.9,1797.8 L231.9,1795.8 L236.9,1793.7 L241.9,1791.6 L246.9,1789.6 L251.9,1787.5 L256.9,1785.5 L261.8,1783.5 L266.8,1781.4 L271.8,1779.4 L276.8,1777.4 L281.8,1775.4 L286.8,1773.4 L291.8,1771.5 L296.7,1769.5 L301.7,1767.6 L306.7,1765.6 L311.7,1763.7 L316.7,1761.7 L321.7,1759.8 L326.7,1757.9 L331.6,1756.0 L336.6,1754.2 L341.6,1752.3 L346.6,1750.4 L351.6,1748.6 L356.6,1746.8 L361.6,1745.0 L366.5,1743.2 L371.5,1741.4 L376.5,1739.6 L381.5,1737.8 L386.5,1736.1 L391.5,1734.3 L396.5,1732.6 L401.5,1730.9 L406.4,1729.2 L411.4,1727.5 L416.4,1725.8 L421.4,1724.1 L426.4,1722.5 L431.4,1720.8 L436.4,1719.2 L441.3,1717.6 L446.3,1716.0 L451.3,1714.4 L456.3,1712.8 L461.3,1711.3 L466.3,1709.7 L471.3,1708.2 L476.2,1706.6 L481.2,1705.1 L486.2,1703.6 L491.2,1702.1 L496.2,1700.6 L501.2,1699.1 L506.2,1697.7 L511.1,1696.2 L516.1,1694.7 L521.1,1693.3 L526.1,1691.9 L531.1,1690.4 L536.1,1689.0 L541.1,1687.6 L546.1,1686.2 L551.0,1684.8 L556.0,1683.5 L561.0,1682.1 L566.0,1680.7 L571.0,1679.4 L576.0,1678.0 L581.0,1676.7 L585.9,1675.3 L590.9,1674.0 L595.9,1672.7 L600.9,1671.3 L605.9,1670.0 L610.9,1668.7 L615.9,1667.4 L620.8,1666.1 L625.8,1664.8 L630.8,1663.5 L635.8,1662.2 L640.8,1661.0 L645.8,1659.7 L650.8,1658.4 L655.7,1657.2 L660.7,1655.9 L665.7,1654.6 L670.7,1653.4 L675.7,1652.1 L680.7,1650.9 L685.7,1649.6 L690.7,1648.4 L695.6,1647.2 L700.6,1645.9 L705.6,1644.7 L710.6,1643.5 L715.6,1642.2 L720.6,1641.0 L725.6,1639.8 L730.5,1638.6 L735.5,1637.4 L740.5,1636.2 L745.5,1635.0 L750.5,1633.8 L755.5,1632.5 L760.5,1631.3 L765.4,1630.1 L770.4,1629.0 L775.4,1627.8 L780.4,1626.6 L785.4,1625.4 L790.4,1624.2 L795.4,1623.0 L800.3,1621.8 L805.3,1620.6 L810.3,1619.4 L815.3,1618.3 L820.3,1617.1 L825.3,1615.9 L830.3,1614.7 L835.2,1613.6 L840.2,1612.4 L845.2,1611.2 L850.2,1610.0 L855.2,1608.9 L860.2,1607.7 L865.2,1606.5 L870.2,1605.4 L875.1,1604.2 L880.1,1603.1 L885.1,1601.9 L890.1,1600.7 L895.1,1599.6 L900.1,1598.4 L905.1,1597.3 L910.0,1596.1 L915.0,1595.0 L920.0,1593.8 L925.0,1592.6" fill="none" stroke="#0000ff" stroke-width="1.5"/>
<path d="M131.8,1766.6 L134.5,1766.2 L137.1,1765.4 L139.8,1764.5 L142.4,1763.3 L145.1,1761.6 L147.7,1759.8 L150.4,1757.8 L153.0,1755.5 L155.7,1753.1 L158.3,1750.4 L161.0,1747.5 L163.6,1744.5 L166.3,1741.6 L168.9,1738.7 L171.6,1735.6 L174.2,1732.1 L176.9,1728.7 L179.5,1725.3 L182.2,1722.4 L184.8,1719.8 L187.5,1717.3 L190.1,1714.9 L192.8,1712.5 L195.4,1710.0 L198.1,1707.9 L200.7,1706.1 L203.4,1704.2 L206.0,1702.4 L208.7,1700.6 L211.3,1698.9 L214.0,1697.2 L216.6,1695.7 L219.3,1694.2 L222.0,1692.8 L224.6,1691.5 L227.3,1690.3 L229.9,1689.2 L232.6,1688.1 L235.2,1687.0 L237.9,1686.0 L240.5,1685.0 L243.2,1684.1 L245.8,1683.1 L248.5,1682.3 L251.1,1681.4 L253.8,1680.7 L256.4,1680.0 L259.1,1679.3 L261.7,1678.6 L264.4,1677.9 L267.0,1677.3 L269.7,1676.7 L272.3,1676.2 L275.0,1675.6 L277.6,1675.1 L280.3,1674.7 L282.9,1674.3 L285.6,1673.8 L288.2,1673.5 L290.9,1673.1 L293.5,1672.8 L296.2,1672.4 L298.8,1672.1 L301.5,1671.8 L304.1,1671.6 L306.8,1671.3 L309.5,1671.1 L312.1,1670.9 L314.8,1670.6 L317.4,1670.4 L320.1,1670.2 L322.7,1670.0 L325.4,1669.7 L328.0,1669.5 L330.7,1669.3 L333.3,1669.1 L336.0,1668.8 L338.6,1668.6 L341.3,1668.4 L343.9,1668.2 L346.6,1667.9 L349.2,1667.7 L351.9,1667.4 L354.5,1667.2 L357.2,1667.0 L359.8,1666.7 L362.5,1666.5 L365.1,1666.2 L367.8,1666.0 L370.4,1665.7 L373.1,1665.5 L375.7,1665.2 L378.4,1665.0 L381.0,1664.7 L383.7,1664.5 L386.3,1664.2 L389.0,1664.0 L391.6,1663.8 L394.3,1663.5 L397.0,1663.3 L399.6,1663.0 L402.3,1662.8 L404.9,1662.6 L407.6,1662.3 L410.2,1662.1 L412.9,1661.9 L415.5,1661.6 L418.2,1661.4 L420.8,1661.1 L423.5,1660.9 L426.1,1660.7 L428.8,1660.5 L431.4,1660.2 L434.1,1660.0 L436.7,1659.8 L439.4,1659.6 L442.0,1659.5 L444.7,1659.3 L447.3,1659.1 L450.0,1658.9 L452.6,1658.8 L455.3,1658.6 L457.9,1658.4 L460.6,1658.3 L463.2,1658.1 L465.9,1658.0 L468.5,1657.8 L471.2,1657.7 L473.8,1657.5 L476.5,1657.4 L479.1,1657.2 L481.8,1657.1 L484.5,1657.0 L487.1,1656.8 L489.8,1656.7 L492.4,1656.6 L495.1,1656.5 L497.7,1656.4 L500.4,1656.3 L503.0,1656.2 L505.7,1656.1 L508.3,1656.0 L511.0,1655.9 L513.6,1655.8 L516.3,1655.7 L518.9,1655.6 L521.6,1655.5 L524.2,1655.4 L526.9,1655.3 L529.5,1655.2 L532.2,1655.2 L534.8,1655.1 L537.5,1655.0 L540.1,1654.9 L542.8,1654.8 L545.4,1654.8 L548.1,1654.7 L550.7,1654.6 L553.4,1654.5 L556.0,1654.5 L558.7,1654.4 L561.3,1654.3 L564.0,1654.3 L566.6,1654.2 L569.3,1654.2 L571.9,1654.1 L574.6,1654.1 L577.3,1654.0 L579.9,1654.0 L582.6,1654.0 L585.2,1653.9 L587.9,1653.9 L590.5,1653.9 L593.2,1653.8 L595.8,1653.8 L598.5,1653.7 L601.1,1653.7 L603.8,1653.7 L606.4,1653.7 L609.1,1653.6 L611.7,1653.6 L614.4,1653.6 L617.0,1653.5 L619.7,1653.5 L622.3,1653.5 L625.0,1653.4 L627.6,1653.4 L630.3,1653.4 L632.9,1653.4 L635.6,1653.3 L638.2,1653.3 L640.9,1653.3 L643.5,1653.3 L646.2,1653.3 L648.8,1653.2 L651.5,1653.2 L654.1,1653.2 L656.8,1653.2 L659.4,1653.2 L662.1,1653.1 L664.8,1653.1 L667.4,1653.1 L670.1,1653.1 L672.7,1653.1 L675.4,1653.1 L678.0,1653.0 L680.7,1653.0 L683.3,1653.0 L686.0,1653.0 L688.6,1653.0 L691.3,1653.0 L693.9,1653.0 L696.6,1653.0 L699.2,1652.9 L701.9,1652.9 L704.5,1652.9 L707.2,1652.9 L709.8,1652.9 L712.5,1652.9 L715.1,1652.9 L717.8,1652.9 L720.4,1652.9 L723.1,1652.9 L725.7,1652.8 L728.4,1652.8 L731.0,1652.8 L733.7,1652.8 L736.3,1652.8 L739.0,1652.8 L741.6,1652.8 L744.3,1652.8 L746.9,1652.8 L749.6,1652.8 L752.3,1652.7 L754.9,1652.7 L757.6,1652.7 L760.2,1652.7 L762.9,1652.7 L765.5,1652.7 L768.2,1652.7 L770.8,1652.7 L773.5,1652.7 L776.1,1652.7 L778.8,1652.7 L781.4,1652.6 L784.1,1652.6 L786.7,1652.6 L789.4,1652.6 L792.0,1652.6 L794.7,1652.6 L797.3,1652.6 L800.0,1652.6 L802.6,1652.6 L805.3,1652.6 L807.9,1652.6 L810.6,1652.6 L813.2,1652.6 L815.9,1652.5 L818.5,1652.5 L821.2,1652.5 L823.8,1652.5 L826.5,1652.5 L829.1,1652.5 L831.8,1652.5 L834.4,1652.5 L837.1,1652.5 L839.8,1652.5 L842.4,1652.5 L845.1,1652.5 L847.7,1652.5 L850.4,1652.5 L853.0,1652.5 L855.7,1652.5 L858.3,1652.5 L861.0,1652.5 L863.6,1652.4 L866.3,1652.4 L868.9,1652.4 L871.6,1652.4 L874.2,1652.4 L876.9,1652.4 L879.5,1652.4 L882.2,1652.4 L884.8,1652.4 L887.5,1652.4 L890.1,1652.4 L892.8,1652.4 L895.4,1652.4 L898.1,1652.4 L900.7,1652.4 L903.4,1652.4 L906.0,1652.4 L908.7,1652.4 L911.3,1652.4 L914.0,1652.4 L916.6,1652.4 L919.3,1652.4 L921.9,1652.4 L924.6,1652.4 L924.6,1716.2 L921.9,1716.2 L919.3,1716.2 L916.6,1716.2 L914.0,1716.2 L911.3,1716.2 L908.7,1716.2 L906.0,1716.2 L903.4,1716.2 L900.7,1716.2 L898.1,1716.2 L895.4,1716.2 L892.8,1716.2 L890.1,1716.2 L887.5,1716.2 L884.8,1716.2 L882.2,1716.2 L879.5,1716.2 L876.9,1716.2 L874.2,1716.2 L871.6,1716.2 L868.9,1716.2 L866.3,1716.2 L863.6,1716.2 L861.0,1716.2 L858.3,1716.2 L855.7,1716.2 L853.0,1716.2 L850.3,1716.2 L847.7,1716.2 L845.0,1716.2 L842.4,1716.2 L839.7,1716.2 L837.1,1716.2 L834.4,1716.2 L831.8,1716.2 L829.1,1716.2 L826.5,1716.2 L823.8,1716.2 L821.2,1716.2 L818.5,1716.2 L815.9,1716.2 L813.2,1716.2 L810.6,1716.2 L807.9,1716.2 L805.3,1716.1 L802.6,1716.1 L800.0,1716.1 L797.3,1716.1 L794.7,1716.1 L792.0,1716.1 L789.4,1716.1 L786.7,1716.1 L784.1,1716.1 L781.4,1716.1 L778.7,1716.1 L776.1,1716.1 L773.4,1716.1 L770.8,1716.1 L768.1,1716.1 L765.5,1716.1 L762.8,1716.1 L760.2,1716.1 L757.5,1716.1 L754.9,1716.1 L752.2,1716.1 L749.6,1716.1 L746.9,1716.1 L744.3,1716.1 L741.6,1716.1 L739.0,1716.1 L736.3,1716.1 L733.7,1716.1 L731.0,1716.1 L728.4,1716.1 L725.7,1716.1 L723.1,1716.1 L720.4,1716.1 L717.8,1716.0 L715.1,1716.0 L712.5,1716.0 L709.8,1716.0 L707.1,1716.0 L704.5,1716.0 L701.8,1716.0 L699.2,1716.0 L696.5,1716.0 L693.9,1716.0 L691.2,1716.0 L688.6,1716.0 L685.9,1716.0 L683.3,1716.0 L680.6,1716.0 L678.0,1716.0 L675.3,1716.0 L672.7,1716.0 L670.0,1715.9 L667.4,1715.9 L664.7,1715.9 L662.1,1715.9 L659.4,1715.9 L656.8,1715.8 L654.1,1715.8 L651.5,1715.8 L648.8,1715.8 L646.2,1715.8 L643.5,1715.7 L640.9,1715.7 L638.2,1715.7 L635.5,1715.6 L632.9,1715.6 L630.2,1715.6 L627.6,1715.5 L624.9,1715.5 L622.3,1715.5 L619.6,1715.5 L617.0,1715.4 L614.3,1715.4 L611.7,1715.3 L609.0,1715.3 L606.4,1715.3 L603.7,1715.2 L601.1,1715.2 L598.4,1715.2 L595.8,1715.1 L593.1,1715.1 L590.5,1715.1 L587.8,1715.0 L585.2,1715.0 L582.5,1714.9 L579.9,1714.9 L577.2,1714.9 L574.6,1714.8 L571.9,1714.8 L569.3,1714.8 L566.6,1714.7 L563.9,1714.7 L561.3,1714.6 L558.6,1714.6 L556.0,1714.6 L553.3,1714.5 L550.7,1714.5 L548.0,1714.5 L545.4,1714.4 L542.7,1714.4 L540.1,1714.4 L537.4,1714.3 L534.8,1714.3 L532.1,1714.2 L529.5,1714.2 L526.8,1714.1 L524.2,1714.1 L521.5,1714.0 L518.9,1714.0 L516.2,1713.9 L513.6,1713.9 L510.9,1713.8 L508.3,1713.8 L505.6,1713.7 L503.0,1713.7 L500.3,1713.6 L497.7,1713.6 L495.0,1713.5 L492.4,1713.5 L489.7,1713.4 L487.0,1713.4 L484.4,1713.3 L481.7,1713.3 L479.1,1713.3 L476.4,1713.2 L473.8,1713.2 L471.1,1713.1 L468.5,1713.1 L465.8,1713.1 L463.2,1713.0 L460.5,1713.0 L457.9,1713.0 L455.2,1713.0 L452.6,1712.9 L449.9,1712.9 L447.3,1712.9 L444.6,1712.9 L442.0,1712.9 L439.3,1712.9 L436.7,1712.9 L434.0,1712.9 L431.4,1713.0 L428.7,1713.0 L426.1,1713.0 L423.4,1713.1 L420.8,1713.1 L418.1,1713.2 L415.4,1713.3 L412.8,1713.4 L410.1,1713.5 L407.5,1713.6 L404.8,1713.7 L402.2,1713.8 L399.5,1713.9 L396.9,1714.1 L394.2,1714.2 L391.6,1714.3 L388.9,1714.5 L386.3,1714.6 L383.6,1714.8 L381.0,1715.0 L378.3,1715.2 L375.7,1715.3 L373.0,1715.5 L370.4,1715.7 L367.7,1715.9 L365.1,1716.1 L362.4,1716.3 L359.8,1716.5 L357.1,1716.7 L354.5,1717.0 L351.8,1717.2 L349.2,1717.4 L346.5,1717.6 L343.8,1717.9 L341.2,1718.1 L338.5,1718.3 L335.9,1718.7 L333.2,1719.0 L330.6,1719.5 L327.9,1719.9 L325.3,1720.4 L322.6,1720.9 L320.0,1721.4 L317.3,1721.9 L314.7,1722.4 L312.0,1723.0 L309.4,1723.7 L306.7,1724.4 L304.1,1725.1 L301.4,1725.9 L298.8,1726.8 L296.1,1727.7 L293.5,1728.7 L290.8,1729.6 L288.2,1730.6 L285.5,1731.5 L282.9,1732.6 L280.2,1733.6 L277.6,1734.7 L274.9,1735.8 L272.2,1736.9 L269.6,1738.0 L266.9,1739.1 L264.3,1740.2 L261.6,1741.3 L259.0,1742.4 L256.3,1743.5 L253.7,1744.6 L251.0,1745.7 L248.4,1746.9 L245.7,1748.2 L243.1,1749.5 L240.4,1750.8 L237.8,1752.2 L235.1,1753.6 L232.5,1755.1 L229.8,1756.6 L227.2,1758.1 L224.5,1759.6 L221.9,1761.0 L219.2,1762.6 L216.6,1764.2 L213.9,1766.0 L211.3,1768.0 L208.6,1770.1 L206.0,1772.3 L203.3,1774.3 L200.6,1776.3 L198.0,1778.1 L195.3,1779.9 L192.7,1781.8 L190.0,1783.7 L187.4,1785.7 L184.7,1787.8 L182.1,1790.0 L179.4,1792.5 L176.8,1795.3 L174.1,1798.3 L171.5,1801.4 L168.8,1804.6 L166.2,1807.8 L163.5,1811.3 L160.9,1814.9 L158.2,1818.7 L155.6,1822.7 L152.9,1827.1 L150.3,1831.6 L147.6,1836.5 L145.0,1842.2 L142.3,1848.7 L139.7,1855.8 L137.0,1863.5 L134.4,1872.1 L131.7,1881.5 Z" fill="#aa0000" fill-opacity="0.2" stroke="none"/>
<path d="M131.8,1766.6 L134.5,1766.2 L137.1,1765.4 L139.8,1764.5 L142.4,1763.3 L145.1,1761.6 L147.7,1759.8 L150.4,1757.8 L153.0,1755.5 L155.7,1753.1 L158.3,1750.4 L161.0,1747.5 L163.6,1744.5 L166.3,1741.6 L168.9,1738.7 L171.6,1735.6 L174.2,1732.1 L176.9,1728.7 L179.5,1725.3 L182.2,1722.4 L184.8,1719.8 L187.5,1717.3 L190.1,1714.9 L192.8,1712.5 L195.4,1710.0 L198.1,1707.9 L200.7,1706.1 L203.4,1704.2 L206.0,1702.4 L208.7,1700.6 L211.3,1698.9 L214.0,1697.2 L216.6,1695.7 L219.3,1694.2 L222.0,1692.8 L224.6,1691.5 L227.3,1690.3 L229.9,1689.2 L232.6,1688.1 L235.2,1687.0 L237.9,1686.0 L240.5,1685.0 L243.2,1684.1 L245.8,1683.1 L248.5,1682.3 L251.1,1681.4 L253.8,1680.7 L256.4,1680.0 L259.1,1679.3 L261.7,1678.6 L264.4,1677.9 L267.0,1677.3 L269.7,1676.7 L272.3,1676.2 L275.0,1675.6 L277.6,1675.1 L280.3,1674.7 L282.9,1674.3 L285.6,1673.8 L288.2,1673.5 L290.9,1673.1 L293.5,1672.8 L296.2,1672.4 L298.8,1672.1 L301.5,1671.8 L304.1,1671.6 L306.8,1671.3 L309.5,1671.1 L312.1,1670.9 L314.8,1670.6 L317.4,1670.4 L320.1,1670.2 L322.7,1670.0 L325.4,1669.7 L328.0,1669.5 L330.7,1669.3 L333.3,1669.1 L336.0,1668.8 L338.6,1668.6 L341.3,1668.4 L343.9,1668.2 L346.6,1667.9 L349.2,1667.7 L351.9,1667.4 L354.5,1667.2 L357.2,1667.0 L359.8,1666.7 L362.5,1666.5 L365.1,1666.2 L367.8,1666.0 L370.4,1665.7 L373.1,1665.5 L375.7,1665.2 L378.4,1665.0 L381.0,1664.7 L383.7,1664.5 L386.3,1664.2 L389.0,1664.0 L391.6,1663.8 L394.3,1663.5 L397.0,1663.3 L399.6,1663.0 L402.3,1662.8 L404.9,1662.6 L407.6,1662.3 L410.2,1662.1 L412.9,1661.9 L415.5,1661.6 L418.2,1661.4 L420.8,1661.1 L423.5,1660.9 L426.1,1660.7 L428.8,1660.5 L431.4,1660.2 L434.1,1660.0 L436.7,1659.8 L439.4,1659.6 L442.0,1659.5 L444.7,1659.3 L447.3,1659.1 L450.0,1658.9 L452.6,1658.8 L455.3,1658.6 L457.9,1658.4 L460.6,1658.3 L463.2,1658.1 L465.9,1658.0 L468.5,1657.8 L471.2,1657.7 L473.8,1657.5 L476.5,1657.4 L479.1,1657.2 L481.8,1657.1 L484.5,1657.0 L487.1,1656.8 L489.8,1656.7 L492.4,1656.6 L495.1,1656.5 L497.7,1656.4 L500.4,1656.3 L503.0,1656.2 L505.7,1656.1 L508.3,1656.0 L511.0,1655.9 L513.6,1655.8 L516.3,1655.7 L518.9,1655.6 L521.6,1655.5 L524.2,1655.4 L526.9,1655.3 L529.5,1655.2 L532.2,1655.2 L534.8,1655.1 L537.5,1655.0 L540.1,1654.9 L542.8,1654.8 L545.4,1654.8 L548.1,1654.7 L550.7,1654.6 L553.4,1654.5 L556.0,1654.5 L558.7,1654.4 L561.3,1654.3 L564.0,1654.3 L566.6,1654.2 L569.3,1654.2 L571.9,1654.1 L574.6,1654.1 L577.3,1654.0 L579.9,1654.0 L582.6,1654.0 L585.2,1653.9 L587.9,1653.9 L590.5,1653.9 L593.2,1653.8 L595.8,1653.8 L598.5,1653.7 L601.1,1653.7 L603.8,1653.7 L606.4,1653.7 L609.1,1653.6 L611.7,1653.6 L614.4,1653.6 L617.0,1653.5 L619.7,1653.5 L622.3,1653.5 L625.0,1653.4 L627.6,1653.4 L630.3,1653.4 L632.9,1653.4 L635.6,1653.3 L638.2,1653.3 L640.9,1653.3 L643.5,1653.3 L646.2,1653.3 L648.8,1653.2 L651.5,1653.2 L654.1,1653.2 L656.8,1653.2 L659.4,1653.2 L662.1,1653.1 L664.8,1653.1 L667.4,1653.1 L670.1,1653.1 L672.7,1653.1 L675.4,1653.1 L678.0,1653.0 L680.7,1653.0 L683.3,1653.0 L686.0,1653.0 L688.6,1653.0 L691.3,1653.0 L693.9,1653.0 L696.6,1653.0 L699.2,1652.9 L701.9,1652.9 L704.5,1652.9 L707.2,1652.9 L709.8,1652.9 L712.5,1652.9 L715.1,1652.9 L717.8,1652.9 L720.4,1652.9 L723.1,1652.9 L725.7,1652.8 L728.4,1652.8 L731.0,1652.8 L733.7,1652.8 L736.3,1652.8 L739.0,1652.8 L741.6,1652.8 L744.3,1652.8 L746.9,1652.8 L749.6,1652.8 L752.3,1652.7 L754.9,1652.7 L757.6,1652.7 L760.2,1652.7 L762.9,1652.7 L765.5,1652.7 L768.2,1652.7 L770.8,1652.7 L773.5,1652.7 L776.1,1652.7 L778.8,1652.7 L781.4,1652.6 L784.1,1652.6 L786.7,1652.6 L789.4,1652.6 L792.0,1652.6 L794.7,1652.6 L797.3,1652.6 L800.0,1652.6 L802.6,1652.6 L805.3,1652.6 L807.9,1652.6 L810.6,1652.6 L813.2,1652.6 L815.9,1652.5 L818.5,1652.5 L821.2,1652.5 L823.8,1652.5 L826.5,1652.5 L829.1,1652.5 L831.8,1652.5 L834.4,1652.5 L837.1,1652.5 L839.8,1652.5 L842.4,1652.5 L845.1,1652.5 L847.7,1652.5 L850.4,1652.5 L853.0,1652.5 L855.7,1652.5 L858.3,1652.5 L861.0,1652.5 L863.6,1652.4 L866.3,1652.4 L868.9,1652.4 L871.6,1652.4 L874.2,1652.4 L876.9,1652.4 L879.5,1652.4 L882.2,1652.4 L884.8,1652.4 L887.5,1652.4 L890.1,1652.4 L892.8,1652.4 L895.4,1652.4 L898.1,1652.4 L900.7,1652.4 L903.4,1652.4 L906.0,1652.4 L908.7,1652.4 L911.3,1652.4 L914.0,1652.4 L916.6,1652.4 L919.3,1652.4 L921.9,1652.4 L924.6,1652.4" fill="none" stroke="#b30000" stroke-width="1.5"/>
<path d="M131.8,1809.0 L134.5,1806.2 L137.1,1803.6 L139.8,1801.1 L142.4,1798.8 L145.1,1796.9 L147.7,1795.0 L150.4,1793.0 L153.0,1790.7 L155.7,1787.6 L158.3,1784.0 L161.0,1780.5 L163.6,1777.4 L166.3,1774.1 L168.9,1770.7 L171.6,1767.4 L174.2,1764.4 L176.9,1761.6 L179.5,1758.9 L182.2,1756.3 L184.8,1753.9 L187.5,1751.5 L190.1,1749.3 L192.8,1747.2 L195.4,1745.2 L198.1,1743.3 L200.7,1741.3 L203.4,1739.4 L206.0,1737.5 L208.7,1735.5 L211.3,1733.7 L214.0,1731.9 L216.6,1730.2 L219.3,1728.7 L222.0,1727.2 L224.6,1725.7 L227.3,1724.4 L229.9,1723.1 L232.6,1721.8 L235.2,1720.6 L237.9,1719.5 L240.5,1718.4 L243.2,1717.3 L245.8,1716.3 L248.5,1715.3 L251.1,1714.3 L253.8,1713.2 L256.4,1712.1 L259.1,1710.9 L261.7,1709.8 L264.4,1708.8 L267.0,1707.7 L269.7,1706.7 L272.3,1705.9 L275.0,1705.0 L277.6,1704.2 L280.3,1703.4 L282.9,1702.7 L285.6,1702.0 L288.2,1701.3 L290.9,1700.7 L293.5,1700.2 L296.2,1699.7 L298.8,1699.2 L301.5,1698.8 L304.1,1698.4 L306.8,1698.1 L309.5,1697.7 L312.1,1697.4 L314.8,1697.0 L317.4,1696.7 L320.1,1696.3 L322.7,1695.9 L325.4,1695.5 L328.0,1695.1 L330.7,1694.7 L333.3,1694.4 L336.0,1694.0 L338.6,1693.7 L341.3,1693.3 L343.9,1693.0 L346.6,1692.7 L349.2,1692.4 L351.9,1692.1 L354.5,1691.8 L357.2,1691.5 L359.8,1691.3 L362.5,1691.0 L365.1,1690.7 L367.8,1690.5 L370.4,1690.2 L373.1,1690.0 L375.7,1689.8 L378.4,1689.6 L381.0,1689.4 L383.7,1689.3 L386.3,1689.1 L389.0,1688.9 L391.6,1688.7 L394.3,1688.6 L397.0,1688.4 L399.6,1688.2 L402.3,1688.1 L404.9,1687.9 L407.6,1687.8 L410.2,1687.6 L412.9,1687.5 L415.5,1687.4 L418.2,1687.3 L420.8,1687.1 L423.5,1687.0 L426.1,1686.9 L428.8,1686.8 L431.4,1686.7 L434.1,1686.7 L436.7,1686.6 L439.4,1686.5 L442.0,1686.5 L444.7,1686.4 L447.3,1686.3 L450.0,1686.3 L452.6,1686.2 L455.3,1686.2 L457.9,1686.1 L460.6,1686.1 L463.2,1686.0 L465.9,1686.0 L468.5,1685.9 L471.2,1685.9 L473.8,1685.8 L476.5,1685.8 L479.1,1685.7 L481.8,1685.7 L484.5,1685.6 L487.1,1685.6 L489.8,1685.6 L492.4,1685.5 L495.1,1685.5 L497.7,1685.5 L500.4,1685.4 L503.0,1685.4 L505.7,1685.4 L508.3,1685.3 L511.0,1685.3 L513.6,1685.3 L516.3,1685.2 L518.9,1685.2 L521.6,1685.2 L524.2,1685.2 L526.9,1685.1 L529.5,1685.1 L532.2,1685.1 L534.8,1685.1 L537.5,1685.1 L540.1,1685.0 L542.8,1685.0 L545.4,1685.0 L548.1,1685.0 L550.7,1685.0 L553.4,1685.0 L556.0,1685.0 L558.7,1685.0 L561.3,1685.0 L564.0,1684.9 L566.6,1684.9 L569.3,1684.9 L571.9,1684.9 L574.6,1684.9 L577.3,1684.9 L579.9,1684.9 L582.6,1684.9 L585.2,1684.9 L587.9,1684.9 L590.5,1684.9 L593.2,1684.9 L595.8,1684.8 L598.5,1684.8 L601.1,1684.8 L603.8,1684.8 L606.4,1684.8 L609.1,1684.8 L611.7,1684.8 L614.4,1684.8 L617.0,1684.8 L619.7,1684.8 L622.3,1684.8 L625.0,1684.8 L627.6,1684.8 L630.3,1684.8 L632.9,1684.8 L635.6,1684.7 L638.2,1684.7 L640.9,1684.7 L643.5,1684.7 L646.2,1684.7 L648.8,1684.7 L651.5,1684.7 L654.1,1684.7 L656.8,1684.7 L659.4,1684.7 L662.1,1684.7 L664.8,1684.7 L667.4,1684.7 L670.1,1684.7 L672.7,1684.7 L675.4,1684.7 L678.0,1684.7 L680.7,1684.7 L683.3,1684.7 L686.0,1684.7 L688.6,1684.7 L691.3,1684.7 L693.9,1684.7 L696.6,1684.7 L699.2,1684.7 L701.9,1684.7 L704.5,1684.7 L707.2,1684.7 L709.8,1684.7 L712.5,1684.7 L715.1,1684.7 L717.8,1684.7 L720.4,1684.7 L723.1,1684.7 L725.7,1684.7 L728.4,1684.7 L731.0,1684.7 L733.7,1684.7 L736.3,1684.7 L739.0,1684.7 L741.6,1684.7 L744.3,1684.7 L746.9,1684.7 L749.6,1684.7 L752.3,1684.7 L754.9,1684.7 L757.6,1684.7 L760.2,1684.7 L762.9,1684.7 L765.5,1684.7 L768.2,1684.7 L770.8,1684.7 L773.5,1684.7 L776.1,1684.7 L778.8,1684.7 L781.4,1684.7 L784.1,1684.7 L786.7,1684.7 L789.4,1684.7 L792.0,1684.7 L794.7,1684.7 L797.3,1684.7 L800.0,1684.7 L802.6,1684.7 L805.3,1684.7 L807.9,1684.7 L810.6,1684.7 L813.2,1684.7 L815.9,1684.7 L818.5,1684.7 L821.2,1684.7 L823.8,1684.7 L826.5,1684.7 L829.1,1684.7 L831.8,1684.7 L834.4,1684.7 L837.1,1684.7 L839.8,1684.7 L842.4,1684.7 L845.1,1684.7 L847.7,1684.7 L850.4,1684.7 L853.0,1684.7 L855.7,1684.7 L858.3,1684.7 L861.0,1684.7 L863.6,1684.7 L866.3,1684.7 L868.9,1684.7 L871.6,1684.7 L874.2,1684.7 L876.9,1684.7 L879.5,1684.7 L882.2,1684.7 L884.8,1684.7 L887.5,1684.7 L890.1,1684.7 L892.8,1684.7 L895.4,1684.7 L898.1,1684.7 L900.7,1684.7 L903.4,1684.7 L906.0,1684.7 L908.7,1684.7 L911.3,1684.7 L914.0,1684.7 L916.6,1684.7 L919.3,1684.7 L921.9,1684.7 L924.6,1684.7" fill="none" stroke="#b30000" stroke-width="1.5"/>
<path d="M131.7,1881.5 L134.4,1872.1 L137.0,1863.5 L139.7,1855.8 L142.3,1848.7 L145.0,1842.2 L147.6,1836.5 L150.3,1831.6 L152.9,1827.1 L155.6,1822.7 L158.2,1818.7 L160.9,1814.9 L163.5,1811.3 L166.2,1807.8 L168.8,1804.6 L171.5,1801.4 L174.1,1798.3 L176.8,1795.3 L179.4,1792.5 L182.1,1790.0 L184.7,1787.8 L187.4,1785.7 L190.0,1783.7 L192.7,1781.8 L195.3,1779.9 L198.0,1778.1 L200.6,1776.3 L203.3,1774.3 L206.0,1772.3 L208.6,1770.1 L211.3,1768.0 L213.9,1766.0 L216.6,1764.2 L219.2,1762.6 L221.9,1761.0 L224.5,1759.6 L227.2,1758.1 L229.8,1756.6 L232.5,1755.1 L235.1,1753.6 L237.8,1752.2 L240.4,1750.8 L243.1,1749.5 L245.7,1748.2 L248.4,1746.9 L251.0,1745.7 L253.7,1744.6 L256.3,1743.5 L259.0,1742.4 L261.6,1741.3 L264.3,1740.2 L266.9,1739.1 L269.6,1738.0 L272.2,1736.9 L274.9,1735.8 L277.6,1734.7 L280.2,1733.6 L282.9,1732.6 L285.5,1731.5 L288.2,1730.6 L290.8,1729.6 L293.5,1728.7 L296.1,1727.7 L298.8,1726.8 L301.4,1725.9 L304.1,1725.1 L306.7,1724.4 L309.4,1723.7 L312.0,1723.0 L314.7,1722.4 L317.3,1721.9 L320.0,1721.4 L322.6,1720.9 L325.3,1720.4 L327.9,1719.9 L330.6,1719.5 L333.2,1719.0 L335.9,1718.7 L338.5,1718.3 L341.2,1718.1 L343.8,1717.9 L346.5,1717.6 L349.2,1717.4 L351.8,1717.2 L354.5,1717.0 L357.1,1716.7 L359.8,1716.5 L362.4,1716.3 L365.1,1716.1 L367.7,1715.9 L370.4,1715.7 L373.0,1715.5 L375.7,1715.3 L378.3,1715.2 L381.0,1715.0 L383.6,1714.8 L386.3,1714.6 L388.9,1714.5 L391.6,1714.3 L394.2,1714.2 L396.9,1714.1 L399.5,1713.9 L402.2,1713.8 L404.8,1713.7 L407.5,1713.6 L410.1,1713.5 L412.8,1713.4 L415.4,1713.3 L418.1,1713.2 L420.8,1713.1 L423.4,1713.1 L426.1,1713.0 L428.7,1713.0 L431.4,1713.0 L434.0,1712.9 L436.7,1712.9 L439.3,1712.9 L442.0,1712.9 L444.6,1712.9 L447.3,1712.9 L449.9,1712.9 L452.6,1712.9 L455.2,1713.0 L457.9,1713.0 L460.5,1713.0 L463.2,1713.0 L465.8,1713.1 L468.5,1713.1 L471.1,1713.1 L473.8,1713.2 L476.4,1713.2 L479.1,1713.3 L481.7,1713.3 L484.4,1713.3 L487.0,1713.4 L489.7,1713.4 L492.4,1713.5 L495.0,1713.5 L497.7,1713.6 L500.3,1713.6 L503.0,1713.7 L505.6,1713.7 L508.3,1713.8 L510.9,1713.8 L513.6,1713.9 L516.2,1713.9 L518.9,1714.0 L521.5,1714.0 L524.2,1714.1 L526.8,1714.1 L529.5,1714.2 L532.1,1714.2 L534.8,1714.3 L537.4,1714.3 L540.1,1714.4 L542.7,1714.4 L545.4,1714.4 L548.0,1714.5 L550.7,1714.5 L553.3,1714.5 L556.0,1714.6 L558.6,1714.6 L561.3,1714.6 L563.9,1714.7 L566.6,1714.7 L569.3,1714.8 L571.9,1714.8 L574.6,1714.8 L577.2,1714.9 L579.9,1714.9 L582.5,1714.9 L585.2,1715.0 L587.8,1715.0 L590.5,1715.1 L593.1,1715.1 L595.8,1715.1 L598.4,1715.2 L601.1,1715.2 L603.7,1715.2 L606.4,1715.3 L609.0,1715.3 L611.7,1715.3 L614.3,1715.4 L617.0,1715.4 L619.6,1715.5 L622.3,1715.5 L624.9,1715.5 L627.6,1715.5 L630.2,1715.6 L632.9,1715.6 L635.5,1715.6 L638.2,1715.7 L640.9,1715.7 L643.5,1715.7 L646.2,1715.8 L648.8,1715.8 L651.5,1715.8 L654.1,1715.8 L656.8,1715.8 L659.4,1715.9 L662.1,1715.9 L664.7,1715.9 L667.4,1715.9 L670.0,1715.9 L672.7,1716.0 L675.3,1716.0 L678.0,1716.0 L680.6,1716.0 L683.3,1716.0 L685.9,1716.0 L688.6,1716.0 L691.2,1716.0 L693.9,1716.0 L696.5,1716.0 L699.2,1716.0 L701.8,1716.0 L704.5,1716.0 L707.1,1716.0 L709.8,1716.0 L712.5,1716.0 L715.1,1716.0 L717.8,1716.0 L720.4,1716.1 L723.1,1716.1 L725.7,1716.1 L728.4,1716.1 L731.0,1716.1 L733.7,1716.1 L736.3,1716.1 L739.0,1716.1 L741.6,1716.1 L744.3,1716.1 L746.9,1716.1 L749.6,1716.1 L752.2,1716.1 L754.9,1716.1 L757.5,1716.1 L760.2,1716.1 L762.8,1716.1 L765.5,1716.1 L768.1,1716.1 L770.8,1716.1 L773.4,1716.1 L776.1,1716.1 L778.7,1716.1 L781.4,1716.1 L784.1,1716.1 L786.7,1716.1 L789.4,1716.1 L792.0,1716.1 L794.7,1716.1 L797.3,1716.1 L800.0,1716.1 L802.6,1716.1 L805.3,1716.1 L807.9,1716.2 L810.6,1716.2 L813.2,1716.2 L815.9,1716.2 L818.5,1716.2 L821.2,1716.2 L823.8,1716.2 L826.5,1716.2 L829.1,1716.2 L831.8,1716.2 L834.4,1716.2 L837.1,1716.2 L839.7,1716.2 L842.4,1716.2 L845.0,1716.2 L847.7,1716.2 L850.3,1716.2 L853.0,1716.2 L855.7,1716.2 L858.3,1716.2 L861.0,1716.2 L863.6,1716.2 L866.3,1716.2 L868.9,1716.2 L871.6,1716.2 L874.2,1716.2 L876.9,1716.2 L879.5,1716.2 L882.2,1716.2 L884.8,1716.2 L887.5,1716.2 L890.1,1716.2 L892.8,1716.2 L895.4,1716.2 L898.1,1716.2 L900.7,1716.2 L903.4,1716.2 L906.0,1716.2 L908.7,1716.2 L911.3,1716.2 L914.0,1716.2 L916.6,1716.2 L919.3,1716.2 L921.9,1716.2 L924.6,1716.2" fill="none" stroke="#b30000" stroke-width="1.5"/>
<line x1="115.6" y1="1828.4" x2="942.4" y2="1828.4" stroke="#000" stroke-width="2.2"/>
<line x1="115.6" y1="1379.4" x2="115.6" y2="1893.7" stroke="#000" stroke-width="4.6"/>
<line x1="113.3" y1="1891.9" x2="942.4" y2="1891.9" stroke="#000" stroke-width="3.6"/>
<line x1="132.2" y1="1885.1" x2="132.2" y2="1891.9" stroke="#000" stroke-width="3"/>
<text x="132.2" y="1922" text-anchor="middle" class="tk">0</text>
<line x1="171.8" y1="1888.5" x2="171.8" y2="1891.9" stroke="#000" stroke-width="2.4"/>
<line x1="211.5" y1="1888.5" x2="211.5" y2="1891.9" stroke="#000" stroke-width="2.4"/>
<line x1="251.1" y1="1888.5" x2="251.1" y2="1891.9" stroke="#000" stroke-width="2.4"/>
<line x1="290.8" y1="1888.5" x2="290.8" y2="1891.9" stroke="#000" stroke-width="2.4"/>
<line x1="330.4" y1="1885.1" x2="330.4" y2="1891.9" stroke="#000" stroke-width="3"/>
<text x="330.4" y="1922" text-anchor="middle" class="tk">5</text>
<line x1="370.0" y1="1888.5" x2="370.0" y2="1891.9" stroke="#000" stroke-width="2.4"/>
<line x1="409.7" y1="1888.5" x2="409.7" y2="1891.9" stroke="#000" stroke-width="2.4"/>
<line x1="449.3" y1="1888.5" x2="449.3" y2="1891.9" stroke="#000" stroke-width="2.4"/>
<line x1="489.0" y1="1888.5" x2="489.0" y2="1891.9" stroke="#000" stroke-width="2.4"/>
<line x1="528.6" y1="1885.1" x2="528.6" y2="1891.9" stroke="#000" stroke-width="3"/>
<text x="528.6" y="1922" text-anchor="middle" class="tk">10</text>
<line x1="568.2" y1="1888.5" x2="568.2" y2="1891.9" stroke="#000" stroke-width="2.4"/>
<line x1="607.9" y1="1888.5" x2="607.9" y2="1891.9" stroke="#000" stroke-width="2.4"/>
<line x1="647.5" y1="1888.5" x2="647.5" y2="1891.9" stroke="#000" stroke-width="2.4"/>
<line x1="687.2" y1="1888.5" x2="687.2" y2="1891.9" stroke="#000" stroke-width="2.4"/>
<line x1="726.8" y1="1885.1" x2="726.8" y2="1891.9" stroke="#000" stroke-width="3"/>
<text x="726.8" y="1922" text-anchor="middle" class="tk">15</text>
<line x1="766.4" y1="1888.5" x2="766.4" y2="1891.9" stroke="#000" stroke-width="2.4"/>
<line x1="806.1" y1="1888.5" x2="806.1" y2="1891.9" stroke="#000" stroke-width="2.4"/>
<line x1="845.7" y1="1888.5" x2="845.7" y2="1891.9" stroke="#000" stroke-width="2.4"/>
<line x1="885.4" y1="1888.5" x2="885.4" y2="1891.9" stroke="#000" stroke-width="2.4"/>
<line x1="925.0" y1="1885.1" x2="925.0" y2="1891.9" stroke="#000" stroke-width="3"/>
<text x="925.0" y="1922" text-anchor="middle" class="tk">20</text>
<line x1="116.9" y1="1886.8" x2="120.3" y2="1886.8" stroke="#000" stroke-width="2.6"/>
<line x1="116.9" y1="1857.7" x2="120.3" y2="1857.7" stroke="#000" stroke-width="2.6"/>
<line x1="116.9" y1="1828.5" x2="121.7" y2="1828.5" stroke="#000" stroke-width="3.4"/>
<text x="109.6" y="1836.1" text-anchor="end" class="tk">0</text>
<line x1="116.9" y1="1799.3" x2="120.3" y2="1799.3" stroke="#000" stroke-width="2.6"/>
<line x1="116.9" y1="1770.2" x2="120.3" y2="1770.2" stroke="#000" stroke-width="2.6"/>
<line x1="116.9" y1="1741.0" x2="120.3" y2="1741.0" stroke="#000" stroke-width="2.6"/>
<line x1="116.9" y1="1711.9" x2="120.3" y2="1711.9" stroke="#000" stroke-width="2.6"/>
<line x1="116.9" y1="1682.7" x2="121.7" y2="1682.7" stroke="#000" stroke-width="3.4"/>
<text x="109.6" y="1690.3" text-anchor="end" class="tk">500</text>
<line x1="116.9" y1="1653.6" x2="120.3" y2="1653.6" stroke="#000" stroke-width="2.6"/>
<line x1="116.9" y1="1624.4" x2="120.3" y2="1624.4" stroke="#000" stroke-width="2.6"/>
<line x1="116.9" y1="1595.3" x2="120.3" y2="1595.3" stroke="#000" stroke-width="2.6"/>
<line x1="116.9" y1="1566.1" x2="120.3" y2="1566.1" stroke="#000" stroke-width="2.6"/>
<line x1="116.9" y1="1537.0" x2="121.7" y2="1537.0" stroke="#000" stroke-width="3.4"/>
<text x="109.6" y="1544.6" text-anchor="end" class="tk">1000</text>
<line x1="116.9" y1="1507.8" x2="120.3" y2="1507.8" stroke="#000" stroke-width="2.6"/>
<line x1="116.9" y1="1478.7" x2="120.3" y2="1478.7" stroke="#000" stroke-width="2.6"/>
<line x1="116.9" y1="1449.5" x2="120.3" y2="1449.5" stroke="#000" stroke-width="2.6"/>
<line x1="116.9" y1="1420.4" x2="120.3" y2="1420.4" stroke="#000" stroke-width="2.6"/>
<line x1="116.9" y1="1391.2" x2="121.7" y2="1391.2" stroke="#000" stroke-width="3.4"/>
<text x="109.6" y="1398.8" text-anchor="end" class="tk">1500</text>
<text x="507" y="1962.8" text-anchor="middle" class="lab">Time (days)</text>
<text transform="translate(28.0,1640.7) rotate(-90)" text-anchor="middle" class="lab">AN Skeletal Length (µm)</text>
<text x="6.6" y="1368.4" class="let">C</text>
</svg></body></html>
